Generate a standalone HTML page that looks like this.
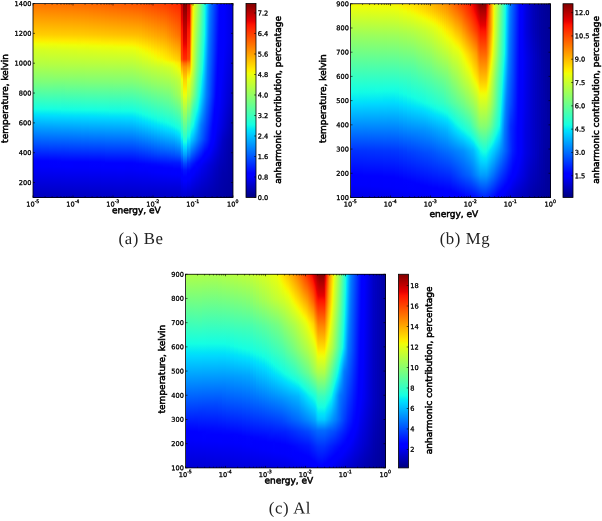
<!DOCTYPE html>
<html lang="en"><head><meta charset="utf-8"><title>Anharmonic contribution: Be, Mg, Al</title>
<style>
html,body{margin:0;padding:0;background:#fff;}
body{width:602px;height:521px;overflow:hidden;}
svg{display:block;}
.tk{font:6.6px 'DejaVu Sans','Liberation Sans',sans-serif;fill:#000;stroke:#000;stroke-width:.3px;}
.lb{font:9px 'DejaVu Sans','Liberation Sans',sans-serif;fill:#000;stroke:#000;stroke-width:.5px;}
.cap{font:16.8px 'Liberation Serif','DejaVu Serif',serif;fill:#222;letter-spacing:.6px;}
</style></head><body>
<svg width="602" height="521" viewBox="0 0 602 521">
<defs>
<linearGradient id="jet" x1="0" y1="0" x2="0" y2="1"><stop offset="0" stop-color="#800000"/><stop offset="0.09" stop-color="#e80000"/><stop offset="0.11" stop-color="#ff1300"/><stop offset="0.34" stop-color="#ffec00"/><stop offset="0.35" stop-color="#f7f600"/><stop offset="0.36" stop-color="#efff08"/><stop offset="0.625" stop-color="#15ffe2"/><stop offset="0.65" stop-color="#00e5f7"/><stop offset="0.66" stop-color="#00dbff"/><stop offset="0.875" stop-color="#00f"/><stop offset="0.89" stop-color="#00f"/><stop offset="1" stop-color="#000080"/></linearGradient>
<linearGradient id="a0" x1="0" y1="0" x2="0" y2="1"><stop offset="0" stop-color="#ff7200"/><stop offset="0.162" stop-color="#ffd000"/><stop offset="0.188" stop-color="#ffeb00"/><stop offset="0.198" stop-color="#f7f600"/><stop offset="0.209" stop-color="#edff09"/><stop offset="0.24" stop-color="#d4ff23"/><stop offset="0.312" stop-color="#b4ff43"/><stop offset="0.405" stop-color="#7cff7a"/><stop offset="0.544" stop-color="#15ffe2"/><stop offset="0.57" stop-color="#00e4f8"/><stop offset="0.585" stop-color="#00d4ff"/><stop offset="0.637" stop-color="#00a0ff"/><stop offset="0.724" stop-color="#0052ff"/><stop offset="0.807" stop-color="#0004ff"/><stop offset="0.822" stop-color="#00f"/><stop offset="0.843" stop-color="#0000fb"/><stop offset="1" stop-color="#0000bd"/></linearGradient><linearGradient id="a1" x1="0" y1="0" x2="0" y2="1"><stop offset="0" stop-color="#ff7200"/><stop offset="0.162" stop-color="#ffd000"/><stop offset="0.188" stop-color="#ffea00"/><stop offset="0.198" stop-color="#f7f500"/><stop offset="0.209" stop-color="#eeff09"/><stop offset="0.24" stop-color="#d5ff22"/><stop offset="0.312" stop-color="#b4ff43"/><stop offset="0.405" stop-color="#7cff7a"/><stop offset="0.544" stop-color="#15ffe2"/><stop offset="0.57" stop-color="#00e5f8"/><stop offset="0.585" stop-color="#00d4ff"/><stop offset="0.642" stop-color="#009dff"/><stop offset="0.729" stop-color="#004dff"/><stop offset="0.812" stop-color="#00f"/><stop offset="0.843" stop-color="#0000fb"/><stop offset="1" stop-color="#0000bd"/></linearGradient><linearGradient id="a2" x1="0" y1="0" x2="0" y2="1"><stop offset="0" stop-color="#ff7100"/><stop offset="0.162" stop-color="#ffcf00"/><stop offset="0.193" stop-color="#fcef00"/><stop offset="0.204" stop-color="#f3fa04"/><stop offset="0.209" stop-color="#efff08"/><stop offset="0.24" stop-color="#d5ff21"/><stop offset="0.312" stop-color="#b4ff43"/><stop offset="0.405" stop-color="#7dff7a"/><stop offset="0.544" stop-color="#15ffe1"/><stop offset="0.57" stop-color="#00e5f7"/><stop offset="0.58" stop-color="#00daff"/><stop offset="0.637" stop-color="#00a2ff"/><stop offset="0.729" stop-color="#004eff"/><stop offset="0.812" stop-color="#00f"/><stop offset="0.843" stop-color="#0000fc"/><stop offset="1" stop-color="#0000bd"/></linearGradient><linearGradient id="a3" x1="0" y1="0" x2="0" y2="1"><stop offset="0" stop-color="#ff7000"/><stop offset="0.162" stop-color="#ffcf00"/><stop offset="0.193" stop-color="#fdef00"/><stop offset="0.204" stop-color="#f4f903"/><stop offset="0.214" stop-color="#ebff0c"/><stop offset="0.24" stop-color="#d6ff21"/><stop offset="0.312" stop-color="#b4ff42"/><stop offset="0.405" stop-color="#7dff7a"/><stop offset="0.544" stop-color="#16ffe1"/><stop offset="0.57" stop-color="#00e5f7"/><stop offset="0.58" stop-color="#00dbff"/><stop offset="0.642" stop-color="#009eff"/><stop offset="0.729" stop-color="#004eff"/><stop offset="0.812" stop-color="#00f"/><stop offset="0.843" stop-color="#0000fc"/><stop offset="1" stop-color="#0000bd"/></linearGradient><linearGradient id="a4" x1="0" y1="0" x2="0" y2="1"><stop offset="0" stop-color="#ff6f00"/><stop offset="0.162" stop-color="#ffcf00"/><stop offset="0.193" stop-color="#fdee00"/><stop offset="0.209" stop-color="#f0fe07"/><stop offset="0.24" stop-color="#d7ff20"/><stop offset="0.312" stop-color="#b5ff42"/><stop offset="0.405" stop-color="#7dff7a"/><stop offset="0.544" stop-color="#16ffe1"/><stop offset="0.57" stop-color="#00e6f6"/><stop offset="0.58" stop-color="#00dbff"/><stop offset="0.642" stop-color="#009eff"/><stop offset="0.735" stop-color="#004aff"/><stop offset="0.812" stop-color="#0001ff"/><stop offset="0.843" stop-color="#0000fc"/><stop offset="1" stop-color="#0000be"/></linearGradient><linearGradient id="a5" x1="0" y1="0" x2="0" y2="1"><stop offset="0" stop-color="#ff6f00"/><stop offset="0.162" stop-color="#ffce00"/><stop offset="0.193" stop-color="#feed00"/><stop offset="0.209" stop-color="#f0fd07"/><stop offset="0.24" stop-color="#d7ff20"/><stop offset="0.312" stop-color="#b5ff42"/><stop offset="0.384" stop-color="#8bff6b"/><stop offset="0.544" stop-color="#16ffe0"/><stop offset="0.57" stop-color="#01e6f6"/><stop offset="0.58" stop-color="#00dcff"/><stop offset="0.642" stop-color="#009fff"/><stop offset="0.74" stop-color="#0045ff"/><stop offset="0.812" stop-color="#0001ff"/><stop offset="0.843" stop-color="#0000fd"/><stop offset="1" stop-color="#0000be"/></linearGradient><linearGradient id="a6" x1="0" y1="0" x2="0" y2="1"><stop offset="0" stop-color="#ff6e00"/><stop offset="0.162" stop-color="#ffce00"/><stop offset="0.193" stop-color="#feed00"/><stop offset="0.204" stop-color="#f5f702"/><stop offset="0.214" stop-color="#ecff0b"/><stop offset="0.24" stop-color="#d8ff1f"/><stop offset="0.312" stop-color="#b5ff42"/><stop offset="0.379" stop-color="#8eff68"/><stop offset="0.544" stop-color="#17ffe0"/><stop offset="0.57" stop-color="#01e7f6"/><stop offset="0.585" stop-color="#00d7ff"/><stop offset="0.647" stop-color="#009bff"/><stop offset="0.745" stop-color="#0041ff"/><stop offset="0.812" stop-color="#0002ff"/><stop offset="0.843" stop-color="#0000fd"/><stop offset="1" stop-color="#0000be"/></linearGradient><linearGradient id="a7" x1="0" y1="0" x2="0" y2="1"><stop offset="0" stop-color="#ff6d00"/><stop offset="0.162" stop-color="#ffcd00"/><stop offset="0.193" stop-color="#ffec00"/><stop offset="0.204" stop-color="#f6f701"/><stop offset="0.214" stop-color="#edff0a"/><stop offset="0.24" stop-color="#d9ff1e"/><stop offset="0.312" stop-color="#b5ff41"/><stop offset="0.379" stop-color="#8eff68"/><stop offset="0.549" stop-color="#13fde4"/><stop offset="0.575" stop-color="#00e2fa"/><stop offset="0.59" stop-color="#00d2ff"/><stop offset="0.652" stop-color="#0097ff"/><stop offset="0.76" stop-color="#0032ff"/><stop offset="0.817" stop-color="#00f"/><stop offset="0.843" stop-color="#0000fd"/><stop offset="1" stop-color="#0000bf"/></linearGradient><linearGradient id="a8" x1="0" y1="0" x2="0" y2="1"><stop offset="0" stop-color="#ff6c00"/><stop offset="0.162" stop-color="#ffcd00"/><stop offset="0.193" stop-color="#ffec00"/><stop offset="0.204" stop-color="#f6f600"/><stop offset="0.214" stop-color="#edff09"/><stop offset="0.24" stop-color="#d9ff1e"/><stop offset="0.312" stop-color="#b6ff41"/><stop offset="0.374" stop-color="#91ff65"/><stop offset="0.436" stop-color="#67ff90"/><stop offset="0.549" stop-color="#13fde4"/><stop offset="0.575" stop-color="#00e3f9"/><stop offset="0.59" stop-color="#00d3ff"/><stop offset="0.652" stop-color="#0097ff"/><stop offset="0.771" stop-color="#0029ff"/><stop offset="0.817" stop-color="#00f"/><stop offset="0.843" stop-color="#0000fe"/><stop offset="1" stop-color="#0000bf"/></linearGradient><linearGradient id="a9" x1="0" y1="0" x2="0" y2="1"><stop offset="0" stop-color="#ff6c00"/><stop offset="0.162" stop-color="#ffcd00"/><stop offset="0.193" stop-color="#ffeb00"/><stop offset="0.204" stop-color="#f7f500"/><stop offset="0.214" stop-color="#eeff09"/><stop offset="0.24" stop-color="#daff1d"/><stop offset="0.312" stop-color="#b6ff41"/><stop offset="0.369" stop-color="#94ff63"/><stop offset="0.415" stop-color="#76ff81"/><stop offset="0.549" stop-color="#13fee3"/><stop offset="0.575" stop-color="#00e3f9"/><stop offset="0.59" stop-color="#00d3ff"/><stop offset="0.657" stop-color="#0093ff"/><stop offset="0.817" stop-color="#00f"/><stop offset="0.843" stop-color="#0000fe"/><stop offset="1" stop-color="#0000bf"/></linearGradient><linearGradient id="a10" x1="0" y1="0" x2="0" y2="1"><stop offset="0" stop-color="#ff6b00"/><stop offset="0.162" stop-color="#fc0"/><stop offset="0.193" stop-color="#ffeb00"/><stop offset="0.204" stop-color="#f7f500"/><stop offset="0.214" stop-color="#efff08"/><stop offset="0.24" stop-color="#daff1c"/><stop offset="0.312" stop-color="#b6ff41"/><stop offset="0.369" stop-color="#94ff62"/><stop offset="0.415" stop-color="#76ff81"/><stop offset="0.549" stop-color="#14fee3"/><stop offset="0.575" stop-color="#00e4f8"/><stop offset="0.59" stop-color="#00d4ff"/><stop offset="0.657" stop-color="#0094ff"/><stop offset="0.817" stop-color="#00f"/><stop offset="0.848" stop-color="#0000fc"/><stop offset="1" stop-color="#0000c0"/></linearGradient><linearGradient id="a11" x1="0" y1="0" x2="0" y2="1"><stop offset="0" stop-color="#ff6a00"/><stop offset="0.162" stop-color="#fc0"/><stop offset="0.198" stop-color="#fcef00"/><stop offset="0.209" stop-color="#f3f903"/><stop offset="0.219" stop-color="#ebff0c"/><stop offset="0.245" stop-color="#d9ff1e"/><stop offset="0.312" stop-color="#b6ff41"/><stop offset="0.363" stop-color="#97ff5f"/><stop offset="0.41" stop-color="#7aff7d"/><stop offset="0.549" stop-color="#14fee3"/><stop offset="0.575" stop-color="#00e4f8"/><stop offset="0.59" stop-color="#00d4ff"/><stop offset="0.662" stop-color="#0090ff"/><stop offset="0.817" stop-color="#00f"/><stop offset="0.848" stop-color="#0000fc"/><stop offset="1" stop-color="#0000c0"/></linearGradient><linearGradient id="a12" x1="0" y1="0" x2="0" y2="1"><stop offset="0" stop-color="#ff6900"/><stop offset="0.162" stop-color="#ffcb00"/><stop offset="0.198" stop-color="#fdef00"/><stop offset="0.214" stop-color="#f0fe07"/><stop offset="0.24" stop-color="#dcff1b"/><stop offset="0.312" stop-color="#b6ff40"/><stop offset="0.363" stop-color="#97ff5f"/><stop offset="0.41" stop-color="#7aff7c"/><stop offset="0.549" stop-color="#14ffe2"/><stop offset="0.575" stop-color="#00e4f8"/><stop offset="0.59" stop-color="#00d5ff"/><stop offset="0.668" stop-color="#008cff"/><stop offset="0.817" stop-color="#00f"/><stop offset="0.848" stop-color="#0000fc"/><stop offset="1" stop-color="#0000c0"/></linearGradient><linearGradient id="a13" x1="0" y1="0" x2="0" y2="1"><stop offset="0" stop-color="#ff6800"/><stop offset="0.162" stop-color="#ffca00"/><stop offset="0.198" stop-color="#feee00"/><stop offset="0.214" stop-color="#f0fd06"/><stop offset="0.24" stop-color="#dcff1a"/><stop offset="0.312" stop-color="#b7ff40"/><stop offset="0.363" stop-color="#98ff5f"/><stop offset="0.41" stop-color="#7bff7c"/><stop offset="0.549" stop-color="#15ffe2"/><stop offset="0.575" stop-color="#00e5f7"/><stop offset="0.585" stop-color="#00daff"/><stop offset="0.662" stop-color="#0091ff"/><stop offset="0.817" stop-color="#00f"/><stop offset="0.848" stop-color="#0000fc"/><stop offset="1" stop-color="#0000c0"/></linearGradient><linearGradient id="a14" x1="0" y1="0" x2="0" y2="1"><stop offset="0" stop-color="#f60"/><stop offset="0.162" stop-color="#ffc900"/><stop offset="0.198" stop-color="#feed00"/><stop offset="0.209" stop-color="#f6f701"/><stop offset="0.219" stop-color="#edff0a"/><stop offset="0.245" stop-color="#daff1c"/><stop offset="0.312" stop-color="#b7ff40"/><stop offset="0.358" stop-color="#9bff5c"/><stop offset="0.405" stop-color="#7fff78"/><stop offset="0.549" stop-color="#15ffe2"/><stop offset="0.575" stop-color="#00e5f7"/><stop offset="0.585" stop-color="#00dbff"/><stop offset="0.668" stop-color="#008dff"/><stop offset="0.817" stop-color="#0001ff"/><stop offset="0.848" stop-color="#0000fd"/><stop offset="1" stop-color="#0000c1"/></linearGradient><linearGradient id="a15" x1="0" y1="0" x2="0" y2="1"><stop offset="0" stop-color="#ff6400"/><stop offset="0.162" stop-color="#ffc800"/><stop offset="0.198" stop-color="#ffec00"/><stop offset="0.209" stop-color="#f6f601"/><stop offset="0.219" stop-color="#edff09"/><stop offset="0.245" stop-color="#dbff1c"/><stop offset="0.312" stop-color="#b7ff40"/><stop offset="0.358" stop-color="#9bff5c"/><stop offset="0.405" stop-color="#7fff78"/><stop offset="0.549" stop-color="#15ffe1"/><stop offset="0.575" stop-color="#00e6f6"/><stop offset="0.585" stop-color="#00dbff"/><stop offset="0.673" stop-color="#0089ff"/><stop offset="0.817" stop-color="#0001ff"/><stop offset="0.848" stop-color="#0000fd"/><stop offset="1" stop-color="#0000c1"/></linearGradient><linearGradient id="a16" x1="0" y1="0" x2="0" y2="1"><stop offset="0" stop-color="#ff6300"/><stop offset="0.162" stop-color="#ffc700"/><stop offset="0.198" stop-color="#ffeb00"/><stop offset="0.209" stop-color="#f7f500"/><stop offset="0.219" stop-color="#eeff09"/><stop offset="0.245" stop-color="#dcff1b"/><stop offset="0.312" stop-color="#b7ff40"/><stop offset="0.358" stop-color="#9bff5c"/><stop offset="0.405" stop-color="#7fff78"/><stop offset="0.549" stop-color="#16ffe1"/><stop offset="0.575" stop-color="#01e6f6"/><stop offset="0.59" stop-color="#00d7ff"/><stop offset="0.817" stop-color="#0001ff"/><stop offset="0.848" stop-color="#0000fd"/><stop offset="1" stop-color="#0000c1"/></linearGradient><linearGradient id="a17" x1="0" y1="0" x2="0" y2="1"><stop offset="0" stop-color="#ff6100"/><stop offset="0.162" stop-color="#ffc600"/><stop offset="0.204" stop-color="#fcef00"/><stop offset="0.214" stop-color="#f3fa04"/><stop offset="0.224" stop-color="#eaff0c"/><stop offset="0.25" stop-color="#daff1d"/><stop offset="0.312" stop-color="#b7ff3f"/><stop offset="0.358" stop-color="#9bff5c"/><stop offset="0.405" stop-color="#7fff78"/><stop offset="0.549" stop-color="#16ffe1"/><stop offset="0.575" stop-color="#01e7f6"/><stop offset="0.59" stop-color="#00d7ff"/><stop offset="0.817" stop-color="#0002ff"/><stop offset="0.848" stop-color="#0000fe"/><stop offset="1" stop-color="#0000c2"/></linearGradient><linearGradient id="a18" x1="0" y1="0" x2="0" y2="1"><stop offset="0" stop-color="#ff5f00"/><stop offset="0.162" stop-color="#ffc500"/><stop offset="0.204" stop-color="#fdee00"/><stop offset="0.219" stop-color="#effe07"/><stop offset="0.245" stop-color="#ddff1a"/><stop offset="0.312" stop-color="#b8ff3f"/><stop offset="0.353" stop-color="#9eff59"/><stop offset="0.405" stop-color="#7fff78"/><stop offset="0.549" stop-color="#16ffe0"/><stop offset="0.58" stop-color="#00e2f9"/><stop offset="0.595" stop-color="#00d3ff"/><stop offset="0.822" stop-color="#00f"/><stop offset="0.848" stop-color="#0000fe"/><stop offset="1" stop-color="#0000c2"/></linearGradient><linearGradient id="a19" x1="0" y1="0" x2="0" y2="1"><stop offset="0" stop-color="#ff5d00"/><stop offset="0.162" stop-color="#ffc400"/><stop offset="0.204" stop-color="#feee00"/><stop offset="0.219" stop-color="#f0fd07"/><stop offset="0.245" stop-color="#ddff19"/><stop offset="0.312" stop-color="#b8ff3f"/><stop offset="0.353" stop-color="#9eff59"/><stop offset="0.405" stop-color="#7fff77"/><stop offset="0.554" stop-color="#13fde4"/><stop offset="0.58" stop-color="#00e3f9"/><stop offset="0.595" stop-color="#00d3ff"/><stop offset="0.822" stop-color="#00f"/><stop offset="0.848" stop-color="#0000fe"/><stop offset="1" stop-color="#0000c2"/></linearGradient><linearGradient id="a20" x1="0" y1="0" x2="0" y2="1"><stop offset="0" stop-color="#ff5c00"/><stop offset="0.162" stop-color="#ffc300"/><stop offset="0.204" stop-color="#feed00"/><stop offset="0.214" stop-color="#f5f701"/><stop offset="0.224" stop-color="#ecff0a"/><stop offset="0.25" stop-color="#dbff1b"/><stop offset="0.312" stop-color="#b8ff3f"/><stop offset="0.353" stop-color="#9eff58"/><stop offset="0.405" stop-color="#80ff77"/><stop offset="0.554" stop-color="#13fde4"/><stop offset="0.58" stop-color="#00e3f9"/><stop offset="0.595" stop-color="#00d4ff"/><stop offset="0.822" stop-color="#00f"/><stop offset="0.848" stop-color="#0000fe"/><stop offset="1" stop-color="#0000c3"/></linearGradient><linearGradient id="a21" x1="0" y1="0" x2="0" y2="1"><stop offset="0" stop-color="#ff5a00"/><stop offset="0.162" stop-color="#ffc200"/><stop offset="0.204" stop-color="#ffec00"/><stop offset="0.214" stop-color="#f6f601"/><stop offset="0.224" stop-color="#edff0a"/><stop offset="0.25" stop-color="#dcff1b"/><stop offset="0.312" stop-color="#b8ff3e"/><stop offset="0.353" stop-color="#9eff58"/><stop offset="0.405" stop-color="#80ff77"/><stop offset="0.554" stop-color="#13fde3"/><stop offset="0.58" stop-color="#00e4f8"/><stop offset="0.595" stop-color="#00d4ff"/><stop offset="0.822" stop-color="#00f"/><stop offset="0.848" stop-color="#00f"/><stop offset="1" stop-color="#0000c3"/></linearGradient><linearGradient id="a22" x1="0" y1="0" x2="0" y2="1"><stop offset="0" stop-color="#ff5800"/><stop offset="0.162" stop-color="#ffc100"/><stop offset="0.204" stop-color="#ffeb00"/><stop offset="0.214" stop-color="#f7f500"/><stop offset="0.224" stop-color="#eeff09"/><stop offset="0.255" stop-color="#daff1d"/><stop offset="0.312" stop-color="#b9ff3e"/><stop offset="0.353" stop-color="#9fff58"/><stop offset="0.405" stop-color="#80ff77"/><stop offset="0.554" stop-color="#14fee3"/><stop offset="0.58" stop-color="#00e4f8"/><stop offset="0.595" stop-color="#00d5ff"/><stop offset="0.822" stop-color="#00f"/><stop offset="0.848" stop-color="#00f"/><stop offset="1" stop-color="#0000c3"/></linearGradient><linearGradient id="a23" x1="0" y1="0" x2="0" y2="1"><stop offset="0" stop-color="#ff5700"/><stop offset="0.162" stop-color="#ffc000"/><stop offset="0.204" stop-color="#ffea00"/><stop offset="0.214" stop-color="#f8f500"/><stop offset="0.224" stop-color="#eeff08"/><stop offset="0.255" stop-color="#dbff1c"/><stop offset="0.312" stop-color="#b9ff3e"/><stop offset="0.348" stop-color="#a2ff55"/><stop offset="0.405" stop-color="#80ff77"/><stop offset="0.554" stop-color="#14fee3"/><stop offset="0.58" stop-color="#00e5f7"/><stop offset="0.59" stop-color="#00dbff"/><stop offset="0.822" stop-color="#00f"/><stop offset="0.853" stop-color="#0000fc"/><stop offset="1" stop-color="#0000c3"/></linearGradient><linearGradient id="a24" x1="0" y1="0" x2="0" y2="1"><stop offset="0" stop-color="#f50"/><stop offset="0.162" stop-color="#ffbf00"/><stop offset="0.209" stop-color="#fdef00"/><stop offset="0.219" stop-color="#f4f903"/><stop offset="0.229" stop-color="#ebff0c"/><stop offset="0.312" stop-color="#b9ff3e"/><stop offset="0.348" stop-color="#a2ff55"/><stop offset="0.405" stop-color="#80ff77"/><stop offset="0.554" stop-color="#14ffe2"/><stop offset="0.58" stop-color="#00e5f7"/><stop offset="0.59" stop-color="#00dbff"/><stop offset="0.822" stop-color="#00f"/><stop offset="0.853" stop-color="#0000fc"/><stop offset="1" stop-color="#0000c4"/></linearGradient><linearGradient id="a25" x1="0" y1="0" x2="0" y2="1"><stop offset="0" stop-color="#ff5300"/><stop offset="0.162" stop-color="#ffbe00"/><stop offset="0.209" stop-color="#ffec00"/><stop offset="0.219" stop-color="#f6f701"/><stop offset="0.229" stop-color="#edff0a"/><stop offset="0.312" stop-color="#bbff3c"/><stop offset="0.353" stop-color="#a1ff56"/><stop offset="0.405" stop-color="#82ff75"/><stop offset="0.554" stop-color="#17ffe0"/><stop offset="0.585" stop-color="#00e3f9"/><stop offset="0.601" stop-color="#00d4ff"/><stop offset="0.822" stop-color="#0001ff"/><stop offset="0.853" stop-color="#0000fd"/><stop offset="1" stop-color="#0000c4"/></linearGradient><linearGradient id="a26" x1="0" y1="0" x2="0" y2="1"><stop offset="0" stop-color="#ff5200"/><stop offset="0.162" stop-color="#ffbd00"/><stop offset="0.214" stop-color="#feed00"/><stop offset="0.229" stop-color="#f1fc06"/><stop offset="0.255" stop-color="#e2ff15"/><stop offset="0.312" stop-color="#beff39"/><stop offset="0.358" stop-color="#a1ff56"/><stop offset="0.41" stop-color="#81ff76"/><stop offset="0.559" stop-color="#16ffe0"/><stop offset="0.59" stop-color="#00e3f9"/><stop offset="0.606" stop-color="#00d4ff"/><stop offset="0.812" stop-color="#000dff"/><stop offset="0.827" stop-color="#00f"/><stop offset="0.853" stop-color="#0000fe"/><stop offset="1" stop-color="#0000c4"/></linearGradient><linearGradient id="a27" x1="0" y1="0" x2="0" y2="1"><stop offset="0" stop-color="#ff5000"/><stop offset="0.168" stop-color="#ffbf00"/><stop offset="0.219" stop-color="#feed00"/><stop offset="0.235" stop-color="#f2fc05"/><stop offset="0.25" stop-color="#e9ff0e"/><stop offset="0.307" stop-color="#c4ff32"/><stop offset="0.353" stop-color="#a7ff50"/><stop offset="0.41" stop-color="#84ff73"/><stop offset="0.564" stop-color="#16ffe1"/><stop offset="0.595" stop-color="#00e3f9"/><stop offset="0.611" stop-color="#00d4ff"/><stop offset="0.802" stop-color="#001aff"/><stop offset="0.827" stop-color="#0001ff"/><stop offset="0.853" stop-color="#00f"/><stop offset="1" stop-color="#0000c4"/></linearGradient><linearGradient id="a28" x1="0" y1="0" x2="0" y2="1"><stop offset="0" stop-color="#ff4d00"/><stop offset="0.168" stop-color="#fb0"/><stop offset="0.224" stop-color="#feed00"/><stop offset="0.24" stop-color="#f3fa04"/><stop offset="0.255" stop-color="#eaff0d"/><stop offset="0.302" stop-color="#ccff2b"/><stop offset="0.348" stop-color="#adff4a"/><stop offset="0.41" stop-color="#87ff70"/><stop offset="0.57" stop-color="#16ffe1"/><stop offset="0.601" stop-color="#00e3f9"/><stop offset="0.616" stop-color="#00d4ff"/><stop offset="0.796" stop-color="#02f"/><stop offset="0.827" stop-color="#0002ff"/><stop offset="0.858" stop-color="#0000fd"/><stop offset="1" stop-color="#0000c5"/></linearGradient><linearGradient id="a29" x1="0" y1="0" x2="0" y2="1"><stop offset="0" stop-color="#ff4a00"/><stop offset="0.168" stop-color="#ffb700"/><stop offset="0.229" stop-color="#feed00"/><stop offset="0.245" stop-color="#f4f802"/><stop offset="0.26" stop-color="#ebff0c"/><stop offset="0.302" stop-color="#cfff28"/><stop offset="0.348" stop-color="#b0ff47"/><stop offset="0.41" stop-color="#8aff6c"/><stop offset="0.575" stop-color="#16ffe1"/><stop offset="0.606" stop-color="#00e3f9"/><stop offset="0.621" stop-color="#00d4ff"/><stop offset="0.791" stop-color="#002aff"/><stop offset="0.827" stop-color="#0004ff"/><stop offset="0.848" stop-color="#00f"/><stop offset="0.874" stop-color="#0000f7"/><stop offset="1" stop-color="#0000c5"/></linearGradient><linearGradient id="a30" x1="0" y1="0" x2="0" y2="1"><stop offset="0" stop-color="#ff4800"/><stop offset="0.168" stop-color="#ffb300"/><stop offset="0.235" stop-color="#ffec00"/><stop offset="0.255" stop-color="#f2fb04"/><stop offset="0.271" stop-color="#e9ff0e"/><stop offset="0.343" stop-color="#b6ff41"/><stop offset="0.41" stop-color="#8dff69"/><stop offset="0.575" stop-color="#1affdd"/><stop offset="0.585" stop-color="#12fce5"/><stop offset="0.611" stop-color="#00e3f8"/><stop offset="0.626" stop-color="#00d4ff"/><stop offset="0.786" stop-color="#0032ff"/><stop offset="0.827" stop-color="#0005ff"/><stop offset="0.843" stop-color="#00f"/><stop offset="0.863" stop-color="#0000fd"/><stop offset="0.982" stop-color="#0000cb"/><stop offset="1" stop-color="#0000c5"/></linearGradient><linearGradient id="a31" x1="0" y1="0" x2="0" y2="1"><stop offset="0" stop-color="#ff4500"/><stop offset="0.168" stop-color="#ffaf00"/><stop offset="0.245" stop-color="#fdee00"/><stop offset="0.26" stop-color="#f4f903"/><stop offset="0.276" stop-color="#ebff0c"/><stop offset="0.338" stop-color="#bcff3b"/><stop offset="0.41" stop-color="#91ff66"/><stop offset="0.575" stop-color="#1effd9"/><stop offset="0.59" stop-color="#12fce4"/><stop offset="0.616" stop-color="#00e4f8"/><stop offset="0.631" stop-color="#00d5ff"/><stop offset="0.781" stop-color="#003bff"/><stop offset="0.827" stop-color="#0007ff"/><stop offset="0.843" stop-color="#00f"/><stop offset="0.869" stop-color="#0000fc"/><stop offset="0.977" stop-color="#0000cd"/><stop offset="1" stop-color="#0000c5"/></linearGradient><linearGradient id="a32" x1="0" y1="0" x2="0" y2="1"><stop offset="0" stop-color="#ff4300"/><stop offset="0.168" stop-color="#ffab00"/><stop offset="0.25" stop-color="#ffec00"/><stop offset="0.271" stop-color="#f3fa04"/><stop offset="0.286" stop-color="#eaff0d"/><stop offset="0.332" stop-color="#c2ff35"/><stop offset="0.415" stop-color="#90ff67"/><stop offset="0.575" stop-color="#22ffd5"/><stop offset="0.595" stop-color="#12fce4"/><stop offset="0.621" stop-color="#00e4f8"/><stop offset="0.637" stop-color="#00d4ff"/><stop offset="0.776" stop-color="#04f"/><stop offset="0.827" stop-color="#0008ff"/><stop offset="0.843" stop-color="#00f"/><stop offset="0.869" stop-color="#0000fd"/><stop offset="0.972" stop-color="#0000cf"/><stop offset="1" stop-color="#0000c6"/></linearGradient><linearGradient id="a33" x1="0" y1="0" x2="0" y2="1"><stop offset="0" stop-color="#ff4000"/><stop offset="0.168" stop-color="#ffa700"/><stop offset="0.255" stop-color="#ffea00"/><stop offset="0.276" stop-color="#f5f701"/><stop offset="0.291" stop-color="#ebff0b"/><stop offset="0.332" stop-color="#c5ff31"/><stop offset="0.415" stop-color="#93ff64"/><stop offset="0.575" stop-color="#26ffd1"/><stop offset="0.601" stop-color="#13fde4"/><stop offset="0.626" stop-color="#00e4f8"/><stop offset="0.642" stop-color="#00d4ff"/><stop offset="0.776" stop-color="#0047ff"/><stop offset="0.827" stop-color="#000aff"/><stop offset="0.843" stop-color="#00f"/><stop offset="0.869" stop-color="#0000fe"/><stop offset="0.966" stop-color="#0000d2"/><stop offset="1" stop-color="#0000c6"/></linearGradient><linearGradient id="a34" x1="0" y1="0" x2="0" y2="1"><stop offset="0" stop-color="#ff3d00"/><stop offset="0.173" stop-color="#ffa700"/><stop offset="0.25" stop-color="#ffe100"/><stop offset="0.276" stop-color="#fbf100"/><stop offset="0.291" stop-color="#f1fc06"/><stop offset="0.327" stop-color="#ccff2b"/><stop offset="0.42" stop-color="#93ff64"/><stop offset="0.575" stop-color="#2affcd"/><stop offset="0.606" stop-color="#13fde4"/><stop offset="0.631" stop-color="#00e4f8"/><stop offset="0.647" stop-color="#00d4ff"/><stop offset="0.771" stop-color="#0050ff"/><stop offset="0.827" stop-color="#000cff"/><stop offset="0.843" stop-color="#00f"/><stop offset="0.874" stop-color="#0000fc"/><stop offset="0.961" stop-color="#0000d4"/><stop offset="1" stop-color="#0000c6"/></linearGradient><linearGradient id="a35" x1="0" y1="0" x2="0" y2="1"><stop offset="0" stop-color="#ff3b00"/><stop offset="0.173" stop-color="#ffa400"/><stop offset="0.25" stop-color="#ffdc00"/><stop offset="0.281" stop-color="#fdef00"/><stop offset="0.291" stop-color="#f6f701"/><stop offset="0.296" stop-color="#f0fe07"/><stop offset="0.332" stop-color="#cbff2b"/><stop offset="0.425" stop-color="#92ff65"/><stop offset="0.575" stop-color="#2effc9"/><stop offset="0.611" stop-color="#12fce4"/><stop offset="0.637" stop-color="#00e3f9"/><stop offset="0.652" stop-color="#00d3ff"/><stop offset="0.765" stop-color="#0058ff"/><stop offset="0.827" stop-color="#000dff"/><stop offset="0.848" stop-color="#00f"/><stop offset="0.874" stop-color="#0000fd"/><stop offset="0.961" stop-color="#0000d4"/><stop offset="1" stop-color="#0000c6"/></linearGradient><linearGradient id="a36" x1="0" y1="0" x2="0" y2="1"><stop offset="0" stop-color="#ff3900"/><stop offset="0.173" stop-color="#ffa000"/><stop offset="0.25" stop-color="#ffd800"/><stop offset="0.286" stop-color="#feed00"/><stop offset="0.296" stop-color="#f3fa03"/><stop offset="0.302" stop-color="#edff0a"/><stop offset="0.332" stop-color="#cdff29"/><stop offset="0.425" stop-color="#94ff63"/><stop offset="0.57" stop-color="#34ffc3"/><stop offset="0.611" stop-color="#15ffe2"/><stop offset="0.637" stop-color="#01e6f6"/><stop offset="0.647" stop-color="#00dcff"/><stop offset="0.75" stop-color="#006cff"/><stop offset="0.807" stop-color="#0026ff"/><stop offset="0.827" stop-color="#000eff"/><stop offset="0.848" stop-color="#00f"/><stop offset="0.874" stop-color="#0000fd"/><stop offset="0.956" stop-color="#0000d6"/><stop offset="1" stop-color="#0000c7"/></linearGradient><linearGradient id="a37" x1="0" y1="0" x2="0" y2="1"><stop offset="0" stop-color="#ff3600"/><stop offset="0.168" stop-color="#ff9600"/><stop offset="0.25" stop-color="#ffd200"/><stop offset="0.291" stop-color="#feed00"/><stop offset="0.296" stop-color="#f7f500"/><stop offset="0.302" stop-color="#f0fe07"/><stop offset="0.332" stop-color="#d0ff27"/><stop offset="0.43" stop-color="#92ff64"/><stop offset="0.57" stop-color="#37ffc0"/><stop offset="0.616" stop-color="#14ffe3"/><stop offset="0.642" stop-color="#00e4f8"/><stop offset="0.657" stop-color="#00d4ff"/><stop offset="0.76" stop-color="#0062ff"/><stop offset="0.827" stop-color="#000fff"/><stop offset="0.848" stop-color="#00f"/><stop offset="0.879" stop-color="#0000fb"/><stop offset="0.956" stop-color="#0000d7"/><stop offset="1" stop-color="#0000c7"/></linearGradient><linearGradient id="a38" x1="0" y1="0" x2="0" y2="1"><stop offset="0" stop-color="#ff3200"/><stop offset="0.168" stop-color="#ff9000"/><stop offset="0.255" stop-color="#ffcf00"/><stop offset="0.291" stop-color="#ffe900"/><stop offset="0.302" stop-color="#f3fa04"/><stop offset="0.312" stop-color="#e6ff11"/><stop offset="0.332" stop-color="#d2ff25"/><stop offset="0.534" stop-color="#53ffa4"/><stop offset="0.621" stop-color="#13fde4"/><stop offset="0.647" stop-color="#00e2f9"/><stop offset="0.657" stop-color="#00d7ff"/><stop offset="0.75" stop-color="#0070ff"/><stop offset="0.802" stop-color="#0030ff"/><stop offset="0.827" stop-color="#0010ff"/><stop offset="0.848" stop-color="#00f"/><stop offset="0.879" stop-color="#0000fc"/><stop offset="0.956" stop-color="#0000d7"/><stop offset="1" stop-color="#0000c7"/></linearGradient><linearGradient id="a39" x1="0" y1="0" x2="0" y2="1"><stop offset="0" stop-color="#ff2f00"/><stop offset="0.168" stop-color="#ff8900"/><stop offset="0.271" stop-color="#ffd400"/><stop offset="0.291" stop-color="#ffe400"/><stop offset="0.296" stop-color="#feed00"/><stop offset="0.302" stop-color="#f6f701"/><stop offset="0.307" stop-color="#eeff09"/><stop offset="0.338" stop-color="#d3ff24"/><stop offset="0.492" stop-color="#74ff83"/><stop offset="0.626" stop-color="#13fde4"/><stop offset="0.647" stop-color="#01e6f6"/><stop offset="0.657" stop-color="#00dbff"/><stop offset="0.776" stop-color="#0054ff"/><stop offset="0.822" stop-color="#0015ff"/><stop offset="0.848" stop-color="#00f"/><stop offset="0.879" stop-color="#0000fd"/><stop offset="0.951" stop-color="#0000d9"/><stop offset="1" stop-color="#0000c7"/></linearGradient><linearGradient id="a40" x1="0" y1="0" x2="0" y2="1"><stop offset="0" stop-color="#ff2c00"/><stop offset="0.168" stop-color="#ff8300"/><stop offset="0.286" stop-color="#ffd800"/><stop offset="0.296" stop-color="#ffe800"/><stop offset="0.307" stop-color="#f3fa04"/><stop offset="0.317" stop-color="#eaff0c"/><stop offset="0.399" stop-color="#afff47"/><stop offset="0.472" stop-color="#8aff6d"/><stop offset="0.585" stop-color="#35ffc2"/><stop offset="0.631" stop-color="#13fde4"/><stop offset="0.652" stop-color="#00e6f6"/><stop offset="0.662" stop-color="#00daff"/><stop offset="0.786" stop-color="#0048ff"/><stop offset="0.822" stop-color="#0016ff"/><stop offset="0.853" stop-color="#00f"/><stop offset="0.879" stop-color="#0000fd"/><stop offset="0.951" stop-color="#0000d9"/><stop offset="1" stop-color="#0000c7"/></linearGradient><linearGradient id="a41" x1="0" y1="0" x2="0" y2="1"><stop offset="0" stop-color="#ff2900"/><stop offset="0.168" stop-color="#ff7d00"/><stop offset="0.291" stop-color="#ffd800"/><stop offset="0.302" stop-color="#ffea00"/><stop offset="0.312" stop-color="#f5f701"/><stop offset="0.322" stop-color="#edff09"/><stop offset="0.394" stop-color="#b8ff3f"/><stop offset="0.472" stop-color="#92ff65"/><stop offset="0.585" stop-color="#3bffbb"/><stop offset="0.637" stop-color="#14fee3"/><stop offset="0.657" stop-color="#01e7f6"/><stop offset="0.668" stop-color="#00dcff"/><stop offset="0.776" stop-color="#005bff"/><stop offset="0.822" stop-color="#0017ff"/><stop offset="0.853" stop-color="#00f"/><stop offset="0.879" stop-color="#0000fe"/><stop offset="0.951" stop-color="#0000d9"/><stop offset="1" stop-color="#0000c7"/></linearGradient><linearGradient id="a42" x1="0" y1="0" x2="0" y2="1"><stop offset="0" stop-color="#ff2700"/><stop offset="0.162" stop-color="#ff7500"/><stop offset="0.291" stop-color="#ffd300"/><stop offset="0.307" stop-color="#feed00"/><stop offset="0.322" stop-color="#f3fa04"/><stop offset="0.338" stop-color="#e7ff0f"/><stop offset="0.394" stop-color="#bdff3a"/><stop offset="0.472" stop-color="#98ff5e"/><stop offset="0.642" stop-color="#13fee3"/><stop offset="0.662" stop-color="#01e7f6"/><stop offset="0.673" stop-color="#00dcff"/><stop offset="0.735" stop-color="#0092ff"/><stop offset="0.786" stop-color="#004fff"/><stop offset="0.822" stop-color="#0018ff"/><stop offset="0.853" stop-color="#00f"/><stop offset="0.884" stop-color="#0000fb"/><stop offset="0.951" stop-color="#0000da"/><stop offset="1" stop-color="#0000c7"/></linearGradient><linearGradient id="a43" x1="0" y1="0" x2="0" y2="1"><stop offset="0" stop-color="#ff2500"/><stop offset="0.162" stop-color="#ff7200"/><stop offset="0.291" stop-color="#ffd000"/><stop offset="0.307" stop-color="#ffea00"/><stop offset="0.322" stop-color="#f7f500"/><stop offset="0.338" stop-color="#ebff0b"/><stop offset="0.394" stop-color="#c1ff36"/><stop offset="0.472" stop-color="#9dff5a"/><stop offset="0.642" stop-color="#16ffe1"/><stop offset="0.668" stop-color="#00e5f7"/><stop offset="0.678" stop-color="#00daff"/><stop offset="0.729" stop-color="#009cff"/><stop offset="0.786" stop-color="#0051ff"/><stop offset="0.822" stop-color="#0018ff"/><stop offset="0.853" stop-color="#00f"/><stop offset="0.884" stop-color="#0000fc"/><stop offset="0.951" stop-color="#0000da"/><stop offset="1" stop-color="#0000c8"/></linearGradient><linearGradient id="a44" x1="0" y1="0" x2="0" y2="1"><stop offset="0" stop-color="#ff2400"/><stop offset="0.162" stop-color="#ff6e00"/><stop offset="0.291" stop-color="#ffcd00"/><stop offset="0.307" stop-color="#ffe600"/><stop offset="0.322" stop-color="#fbf100"/><stop offset="0.332" stop-color="#f3fa04"/><stop offset="0.343" stop-color="#ebff0c"/><stop offset="0.394" stop-color="#c4ff33"/><stop offset="0.472" stop-color="#a1ff56"/><stop offset="0.647" stop-color="#15ffe2"/><stop offset="0.673" stop-color="#00e4f8"/><stop offset="0.688" stop-color="#00d3ff"/><stop offset="0.781" stop-color="#005bff"/><stop offset="0.822" stop-color="#0019ff"/><stop offset="0.853" stop-color="#00f"/><stop offset="0.884" stop-color="#0000fc"/><stop offset="0.951" stop-color="#0000da"/><stop offset="1" stop-color="#0000c8"/></linearGradient><linearGradient id="a45" x1="0" y1="0" x2="0" y2="1"><stop offset="0" stop-color="#ff1800"/><stop offset="0.168" stop-color="#ff6200"/><stop offset="0.286" stop-color="#ffaf00"/><stop offset="0.307" stop-color="#ffd200"/><stop offset="0.338" stop-color="#fdef00"/><stop offset="0.353" stop-color="#effe07"/><stop offset="0.394" stop-color="#cdff29"/><stop offset="0.472" stop-color="#aaff4d"/><stop offset="0.657" stop-color="#13fde3"/><stop offset="0.683" stop-color="#00e2f9"/><stop offset="0.693" stop-color="#00d7ff"/><stop offset="0.781" stop-color="#0063ff"/><stop offset="0.822" stop-color="#001eff"/><stop offset="0.858" stop-color="#00f"/><stop offset="0.889" stop-color="#0000fc"/><stop offset="0.956" stop-color="#0000d9"/><stop offset="1" stop-color="#0000c8"/></linearGradient><linearGradient id="a46" x1="0" y1="0" x2="0" y2="1"><stop offset="0" stop-color="#c60000"/><stop offset="0.085" stop-color="#eb0200"/><stop offset="0.137" stop-color="#ff1500"/><stop offset="0.286" stop-color="#ff4600"/><stop offset="0.291" stop-color="#ff4f00"/><stop offset="0.307" stop-color="#ff8000"/><stop offset="0.332" stop-color="#ffad00"/><stop offset="0.374" stop-color="#ffe900"/><stop offset="0.384" stop-color="#f5f802"/><stop offset="0.389" stop-color="#efff08"/><stop offset="0.472" stop-color="#c5ff31"/><stop offset="0.678" stop-color="#1affdd"/><stop offset="0.688" stop-color="#11fbe6"/><stop offset="0.709" stop-color="#00e1fa"/><stop offset="0.719" stop-color="#00d3ff"/><stop offset="0.781" stop-color="#007cff"/><stop offset="0.822" stop-color="#03f"/><stop offset="0.858" stop-color="#000aff"/><stop offset="0.879" stop-color="#00f"/><stop offset="0.905" stop-color="#0000fe"/><stop offset="1" stop-color="#0000c9"/></linearGradient><linearGradient id="a47" x1="0" y1="0" x2="0" y2="1"><stop offset="0" stop-color="#810000"/><stop offset="0.178" stop-color="#d70000"/><stop offset="0.209" stop-color="#ea0200"/><stop offset="0.245" stop-color="#ff1400"/><stop offset="0.286" stop-color="#ff2900"/><stop offset="0.291" stop-color="#f30"/><stop offset="0.307" stop-color="#ff6800"/><stop offset="0.327" stop-color="#ff9200"/><stop offset="0.394" stop-color="#ffd300"/><stop offset="0.441" stop-color="#fcef00"/><stop offset="0.456" stop-color="#f4f903"/><stop offset="0.472" stop-color="#eaff0d"/><stop offset="0.704" stop-color="#23ffd4"/><stop offset="0.714" stop-color="#17ffe0"/><stop offset="0.735" stop-color="#00e4f8"/><stop offset="0.745" stop-color="#00d5ff"/><stop offset="0.781" stop-color="#009eff"/><stop offset="0.827" stop-color="#04f"/><stop offset="0.858" stop-color="#0014ff"/><stop offset="0.894" stop-color="#00f"/><stop offset="0.915" stop-color="#00f"/><stop offset="1" stop-color="#0000ca"/></linearGradient><linearGradient id="a48" x1="0" y1="0" x2="0" y2="1"><stop offset="0" stop-color="#c60000"/><stop offset="0.085" stop-color="#eb0200"/><stop offset="0.137" stop-color="#ff1500"/><stop offset="0.286" stop-color="#ff4600"/><stop offset="0.291" stop-color="#ff4f00"/><stop offset="0.307" stop-color="#ff8000"/><stop offset="0.332" stop-color="#ffad00"/><stop offset="0.374" stop-color="#ffe900"/><stop offset="0.384" stop-color="#f5f802"/><stop offset="0.389" stop-color="#efff08"/><stop offset="0.472" stop-color="#c5ff31"/><stop offset="0.678" stop-color="#1affdd"/><stop offset="0.688" stop-color="#11fbe6"/><stop offset="0.709" stop-color="#00e1fa"/><stop offset="0.719" stop-color="#00d3ff"/><stop offset="0.781" stop-color="#007cff"/><stop offset="0.822" stop-color="#03f"/><stop offset="0.858" stop-color="#000aff"/><stop offset="0.879" stop-color="#00f"/><stop offset="0.905" stop-color="#0000fe"/><stop offset="1" stop-color="#0000c6"/></linearGradient><linearGradient id="a49" x1="0" y1="0" x2="0" y2="1"><stop offset="0" stop-color="#ff3700"/><stop offset="0.178" stop-color="#ff6c00"/><stop offset="0.286" stop-color="#ff9600"/><stop offset="0.312" stop-color="#ffb700"/><stop offset="0.338" stop-color="#ffd300"/><stop offset="0.358" stop-color="#fdee00"/><stop offset="0.363" stop-color="#f7f500"/><stop offset="0.374" stop-color="#ecff0b"/><stop offset="0.389" stop-color="#daff1d"/><stop offset="0.472" stop-color="#b3ff44"/><stop offset="0.662" stop-color="#15ffe2"/><stop offset="0.688" stop-color="#01e7f6"/><stop offset="0.704" stop-color="#00d6ff"/><stop offset="0.781" stop-color="#006cff"/><stop offset="0.822" stop-color="#0029ff"/><stop offset="0.863" stop-color="#0001ff"/><stop offset="0.899" stop-color="#0000fd"/><stop offset="1" stop-color="#0000c4"/></linearGradient><linearGradient id="a50" x1="0" y1="0" x2="0" y2="1"><stop offset="0" stop-color="#ff9500"/><stop offset="0.173" stop-color="#ffc600"/><stop offset="0.245" stop-color="#ffe200"/><stop offset="0.302" stop-color="#fdef00"/><stop offset="0.327" stop-color="#f5f802"/><stop offset="0.343" stop-color="#e9ff0e"/><stop offset="0.394" stop-color="#c2ff35"/><stop offset="0.472" stop-color="#9cff5b"/><stop offset="0.57" stop-color="#4affad"/><stop offset="0.642" stop-color="#14ffe2"/><stop offset="0.673" stop-color="#00e2f9"/><stop offset="0.688" stop-color="#00d4ff"/><stop offset="0.714" stop-color="#00b6ff"/><stop offset="0.791" stop-color="#004eff"/><stop offset="0.827" stop-color="#001bff"/><stop offset="0.858" stop-color="#00f"/><stop offset="0.889" stop-color="#0000fc"/><stop offset="1" stop-color="#0000c2"/></linearGradient><linearGradient id="a51" x1="0" y1="0" x2="0" y2="1"><stop offset="0" stop-color="#ffcb00"/><stop offset="0.126" stop-color="#fdef00"/><stop offset="0.168" stop-color="#f2fb05"/><stop offset="0.204" stop-color="#eaff0d"/><stop offset="0.265" stop-color="#e0ff17"/><stop offset="0.327" stop-color="#d7ff20"/><stop offset="0.472" stop-color="#8cff6b"/><stop offset="0.549" stop-color="#47ffb0"/><stop offset="0.631" stop-color="#15ffe2"/><stop offset="0.662" stop-color="#00e3f9"/><stop offset="0.678" stop-color="#00d4ff"/><stop offset="0.704" stop-color="#0bf"/><stop offset="0.827" stop-color="#0016ff"/><stop offset="0.853" stop-color="#00f"/><stop offset="0.884" stop-color="#0000fb"/><stop offset="1" stop-color="#0000c1"/></linearGradient><linearGradient id="a52" x1="0" y1="0" x2="0" y2="1"><stop offset="0" stop-color="#f5f702"/><stop offset="0.054" stop-color="#ecff0b"/><stop offset="0.245" stop-color="#cdff2a"/><stop offset="0.327" stop-color="#c1ff36"/><stop offset="0.472" stop-color="#7bff7b"/><stop offset="0.549" stop-color="#37ffc0"/><stop offset="0.621" stop-color="#15ffe2"/><stop offset="0.652" stop-color="#00e2f9"/><stop offset="0.668" stop-color="#00d4ff"/><stop offset="0.704" stop-color="#00b0ff"/><stop offset="0.827" stop-color="#0010ff"/><stop offset="0.848" stop-color="#00f"/><stop offset="0.874" stop-color="#0000fe"/><stop offset="1" stop-color="#0000bf"/></linearGradient><linearGradient id="a53" x1="0" y1="0" x2="0" y2="1"><stop offset="0" stop-color="#daff1d"/><stop offset="0.322" stop-color="#acff4b"/><stop offset="0.472" stop-color="#6bff8c"/><stop offset="0.549" stop-color="#2affcc"/><stop offset="0.595" stop-color="#14fee3"/><stop offset="0.637" stop-color="#00e1fb"/><stop offset="0.657" stop-color="#00cfff"/><stop offset="0.704" stop-color="#00a5ff"/><stop offset="0.827" stop-color="#000bff"/><stop offset="0.843" stop-color="#00f"/><stop offset="0.869" stop-color="#0000fd"/><stop offset="1" stop-color="#0000be"/></linearGradient><linearGradient id="a54" x1="0" y1="0" x2="0" y2="1"><stop offset="0" stop-color="#c9ff2d"/><stop offset="0.317" stop-color="#97ff60"/><stop offset="0.472" stop-color="#5aff9d"/><stop offset="0.559" stop-color="#1cffdb"/><stop offset="0.575" stop-color="#13fde4"/><stop offset="0.611" stop-color="#00e4f8"/><stop offset="0.631" stop-color="#00d5ff"/><stop offset="0.704" stop-color="#009aff"/><stop offset="0.822" stop-color="#000aff"/><stop offset="0.843" stop-color="#00f"/><stop offset="0.863" stop-color="#0000fc"/><stop offset="1" stop-color="#0000bd"/></linearGradient><linearGradient id="a55" x1="0" y1="0" x2="0" y2="1"><stop offset="0" stop-color="#b9ff3e"/><stop offset="0.317" stop-color="#81ff76"/><stop offset="0.472" stop-color="#49ffae"/><stop offset="0.554" stop-color="#15ffe2"/><stop offset="0.59" stop-color="#00e4f8"/><stop offset="0.606" stop-color="#00d8ff"/><stop offset="0.704" stop-color="#008eff"/><stop offset="0.822" stop-color="#0004ff"/><stop offset="0.848" stop-color="#00f"/><stop offset="1" stop-color="#00b"/></linearGradient><linearGradient id="a56" x1="0" y1="0" x2="0" y2="1"><stop offset="0" stop-color="#a9ff4e"/><stop offset="0.332" stop-color="#6aff8c"/><stop offset="0.482" stop-color="#33ffc4"/><stop offset="0.539" stop-color="#14ffe2"/><stop offset="0.57" stop-color="#00e6f6"/><stop offset="0.585" stop-color="#00d9ff"/><stop offset="0.642" stop-color="#00aeff"/><stop offset="0.704" stop-color="#0083ff"/><stop offset="0.822" stop-color="#00f"/><stop offset="0.848" stop-color="#0000fe"/><stop offset="1" stop-color="#0000ba"/></linearGradient><linearGradient id="a57" x1="0" y1="0" x2="0" y2="1"><stop offset="0" stop-color="#98ff5f"/><stop offset="0.332" stop-color="#5aff9d"/><stop offset="0.482" stop-color="#22ffd5"/><stop offset="0.513" stop-color="#12fce4"/><stop offset="0.554" stop-color="#00e1fb"/><stop offset="0.575" stop-color="#00d0ff"/><stop offset="0.631" stop-color="#00a4ff"/><stop offset="0.704" stop-color="#0078ff"/><stop offset="0.817" stop-color="#00f"/><stop offset="0.843" stop-color="#0000fc"/><stop offset="1" stop-color="#0000b9"/></linearGradient><linearGradient id="a58" x1="0" y1="0" x2="0" y2="1"><stop offset="0" stop-color="#88ff6f"/><stop offset="0.332" stop-color="#49ffae"/><stop offset="0.477" stop-color="#13fde3"/><stop offset="0.523" stop-color="#00e3f9"/><stop offset="0.549" stop-color="#00d3ff"/><stop offset="0.626" stop-color="#0097ff"/><stop offset="0.698" stop-color="#0074ff"/><stop offset="0.812" stop-color="#00f"/><stop offset="0.832" stop-color="#0000fd"/><stop offset="0.92" stop-color="#0000d8"/><stop offset="1" stop-color="#0000b8"/></linearGradient><linearGradient id="a59" x1="0" y1="0" x2="0" y2="1"><stop offset="0" stop-color="#77ff80"/><stop offset="0.332" stop-color="#38ffbf"/><stop offset="0.436" stop-color="#13fde4"/><stop offset="0.492" stop-color="#00e1fa"/><stop offset="0.513" stop-color="#00d6ff"/><stop offset="0.559" stop-color="#00b9ff"/><stop offset="0.626" stop-color="#0086ff"/><stop offset="0.698" stop-color="#006aff"/><stop offset="0.807" stop-color="#00f"/><stop offset="0.827" stop-color="#0000fb"/><stop offset="1" stop-color="#0000b7"/></linearGradient><linearGradient id="a60" x1="0" y1="0" x2="0" y2="1"><stop offset="0" stop-color="#61ff96"/><stop offset="0.327" stop-color="#29ffce"/><stop offset="0.384" stop-color="#13fde4"/><stop offset="0.451" stop-color="#00e2f9"/><stop offset="0.487" stop-color="#00d1ff"/><stop offset="0.559" stop-color="#00a7ff"/><stop offset="0.626" stop-color="#0078ff"/><stop offset="0.698" stop-color="#0060ff"/><stop offset="0.802" stop-color="#00f"/><stop offset="0.817" stop-color="#00f"/><stop offset="0.858" stop-color="#0000e9"/><stop offset="1" stop-color="#0000b6"/></linearGradient><linearGradient id="a61" x1="0" y1="0" x2="0" y2="1"><stop offset="0" stop-color="#4bffac"/><stop offset="0.291" stop-color="#20ffd7"/><stop offset="0.338" stop-color="#14fee3"/><stop offset="0.389" stop-color="#00e4f8"/><stop offset="0.425" stop-color="#00d7ff"/><stop offset="0.487" stop-color="#00beff"/><stop offset="0.58" stop-color="#008aff"/><stop offset="0.631" stop-color="#006cff"/><stop offset="0.698" stop-color="#0056ff"/><stop offset="0.791" stop-color="#0002ff"/><stop offset="0.812" stop-color="#00f"/><stop offset="0.838" stop-color="#0000ef"/><stop offset="1" stop-color="#0000b5"/></linearGradient><linearGradient id="a62" x1="0" y1="0" x2="0" y2="1"><stop offset="0" stop-color="#35ffc2"/><stop offset="0.198" stop-color="#1effd9"/><stop offset="0.265" stop-color="#12fce5"/><stop offset="0.332" stop-color="#01e7f6"/><stop offset="0.363" stop-color="#00d9ff"/><stop offset="0.43" stop-color="#00c0ff"/><stop offset="0.482" stop-color="#00aeff"/><stop offset="0.631" stop-color="#0062ff"/><stop offset="0.698" stop-color="#004cff"/><stop offset="0.786" stop-color="#00f"/><stop offset="0.807" stop-color="#00f"/><stop offset="0.832" stop-color="#00e"/><stop offset="1" stop-color="#0000b4"/></linearGradient><linearGradient id="a63" x1="0" y1="0" x2="0" y2="1"><stop offset="0" stop-color="#1fffd7"/><stop offset="0.162" stop-color="#13fde3"/><stop offset="0.255" stop-color="#00e3f9"/><stop offset="0.307" stop-color="#00d5ff"/><stop offset="0.415" stop-color="#00b0ff"/><stop offset="0.477" stop-color="#009dff"/><stop offset="0.637" stop-color="#05f"/><stop offset="0.698" stop-color="#0042ff"/><stop offset="0.776" stop-color="#00f"/><stop offset="0.802" stop-color="#0000fe"/><stop offset="0.832" stop-color="#0000eb"/><stop offset="1" stop-color="#0000b3"/></linearGradient><linearGradient id="a64" x1="0" y1="0" x2="0" y2="1"><stop offset="0" stop-color="#09f1ed"/><stop offset="0.157" stop-color="#00e1fa"/><stop offset="0.204" stop-color="#00d5ff"/><stop offset="0.358" stop-color="#00a9ff"/><stop offset="0.482" stop-color="#0089ff"/><stop offset="0.647" stop-color="#0048ff"/><stop offset="0.704" stop-color="#0035ff"/><stop offset="0.771" stop-color="#00f"/><stop offset="0.796" stop-color="#0000fe"/><stop offset="0.832" stop-color="#0000e8"/><stop offset="1" stop-color="#0000b2"/></linearGradient><linearGradient id="a65" x1="0" y1="0" x2="0" y2="1"><stop offset="0" stop-color="#00d6ff"/><stop offset="0.173" stop-color="#00c0ff"/><stop offset="0.415" stop-color="#0085ff"/><stop offset="0.482" stop-color="#0078ff"/><stop offset="0.611" stop-color="#0049ff"/><stop offset="0.704" stop-color="#002cff"/><stop offset="0.765" stop-color="#00f"/><stop offset="0.791" stop-color="#0000fd"/><stop offset="0.832" stop-color="#0000e5"/><stop offset="1" stop-color="#0000b2"/></linearGradient><linearGradient id="a66" x1="0" y1="0" x2="0" y2="1"><stop offset="0" stop-color="#0bf"/><stop offset="0.183" stop-color="#00a0ff"/><stop offset="0.343" stop-color="#007dff"/><stop offset="0.477" stop-color="#006dff"/><stop offset="0.652" stop-color="#0032ff"/><stop offset="0.704" stop-color="#0023ff"/><stop offset="0.76" stop-color="#00f"/><stop offset="0.786" stop-color="#0000fc"/><stop offset="0.832" stop-color="#0000e1"/><stop offset="1" stop-color="#0000b1"/></linearGradient><linearGradient id="a67" x1="0" y1="0" x2="0" y2="1"><stop offset="0" stop-color="#00a0ff"/><stop offset="0.281" stop-color="#07f"/><stop offset="0.477" stop-color="#0060ff"/><stop offset="0.652" stop-color="#0028ff"/><stop offset="0.704" stop-color="#001aff"/><stop offset="0.75" stop-color="#00f"/><stop offset="0.776" stop-color="#0000fe"/><stop offset="0.832" stop-color="#0000de"/><stop offset="1" stop-color="#0000b0"/></linearGradient><linearGradient id="a68" x1="0" y1="0" x2="0" y2="1"><stop offset="0" stop-color="#0085ff"/><stop offset="0.472" stop-color="#05f"/><stop offset="0.647" stop-color="#001fff"/><stop offset="0.704" stop-color="#01f"/><stop offset="0.74" stop-color="#00f"/><stop offset="0.771" stop-color="#0000fd"/><stop offset="0.832" stop-color="#0000db"/><stop offset="1" stop-color="#0000af"/></linearGradient><linearGradient id="a69" x1="0" y1="0" x2="0" y2="1"><stop offset="0" stop-color="#0075ff"/><stop offset="0.296" stop-color="#005cff"/><stop offset="0.477" stop-color="#0047ff"/><stop offset="0.647" stop-color="#0015ff"/><stop offset="0.709" stop-color="#0006ff"/><stop offset="0.729" stop-color="#00f"/><stop offset="0.76" stop-color="#0000fd"/><stop offset="0.832" stop-color="#0000d7"/><stop offset="1" stop-color="#0000ae"/></linearGradient><linearGradient id="a70" x1="0" y1="0" x2="0" y2="1"><stop offset="0" stop-color="#0068ff"/><stop offset="0.291" stop-color="#0050ff"/><stop offset="0.477" stop-color="#003aff"/><stop offset="0.647" stop-color="#000bff"/><stop offset="0.719" stop-color="#00f"/><stop offset="0.75" stop-color="#0000fc"/><stop offset="0.832" stop-color="#0000d4"/><stop offset="1" stop-color="#0000ad"/></linearGradient><linearGradient id="a71" x1="0" y1="0" x2="0" y2="1"><stop offset="0" stop-color="#005cff"/><stop offset="0.276" stop-color="#0045ff"/><stop offset="0.477" stop-color="#002dff"/><stop offset="0.631" stop-color="#0004ff"/><stop offset="0.714" stop-color="#00f"/><stop offset="0.74" stop-color="#0000fa"/><stop offset="0.838" stop-color="#0000cf"/><stop offset="1" stop-color="#0000ad"/></linearGradient><linearGradient id="a72" x1="0" y1="0" x2="0" y2="1"><stop offset="0" stop-color="#004fff"/><stop offset="0.26" stop-color="#003aff"/><stop offset="0.477" stop-color="#0021ff"/><stop offset="0.575" stop-color="#0007ff"/><stop offset="0.631" stop-color="#00f"/><stop offset="0.719" stop-color="#0000fd"/><stop offset="0.807" stop-color="#0000d8"/><stop offset="0.853" stop-color="#0000c8"/><stop offset="1" stop-color="#0000ac"/></linearGradient><linearGradient id="a73" x1="0" y1="0" x2="0" y2="1"><stop offset="0" stop-color="#0042ff"/><stop offset="0.245" stop-color="#002fff"/><stop offset="0.477" stop-color="#0014ff"/><stop offset="0.549" stop-color="#00f"/><stop offset="0.698" stop-color="#0000fe"/><stop offset="0.802" stop-color="#0000d6"/><stop offset="0.843" stop-color="#0000c7"/><stop offset="1" stop-color="#0000ab"/></linearGradient><linearGradient id="a74" x1="0" y1="0" x2="0" y2="1"><stop offset="0" stop-color="#0035ff"/><stop offset="0.235" stop-color="#0023ff"/><stop offset="0.503" stop-color="#0004ff"/><stop offset="0.57" stop-color="#00f"/><stop offset="0.668" stop-color="#0000fc"/><stop offset="0.729" stop-color="#0000ed"/><stop offset="0.807" stop-color="#0000d0"/><stop offset="0.858" stop-color="#0000c1"/><stop offset="1" stop-color="#00a"/></linearGradient><linearGradient id="a75" x1="0" y1="0" x2="0" y2="1"><stop offset="0" stop-color="#0029ff"/><stop offset="0.229" stop-color="#0017ff"/><stop offset="0.466" stop-color="#00f"/><stop offset="0.631" stop-color="#0000fd"/><stop offset="0.735" stop-color="#0000e6"/><stop offset="0.807" stop-color="#00c"/><stop offset="0.858" stop-color="#0000be"/><stop offset="1" stop-color="#0000a9"/></linearGradient><linearGradient id="a76" x1="0" y1="0" x2="0" y2="1"><stop offset="0" stop-color="#001cff"/><stop offset="0.224" stop-color="#000bff"/><stop offset="0.348" stop-color="#00f"/><stop offset="0.601" stop-color="#0000fc"/><stop offset="0.745" stop-color="#00d"/><stop offset="0.817" stop-color="#0000c4"/><stop offset="0.905" stop-color="#0000b6"/><stop offset="1" stop-color="#0000a9"/></linearGradient><linearGradient id="a77" x1="0" y1="0" x2="0" y2="1"><stop offset="0" stop-color="#000fff"/><stop offset="0.271" stop-color="#00f"/><stop offset="0.554" stop-color="#0000fc"/><stop offset="0.647" stop-color="#0000ef"/><stop offset="0.791" stop-color="#0000cb"/><stop offset="0.843" stop-color="#00b"/><stop offset="1" stop-color="#0000a8"/></linearGradient><linearGradient id="a78" x1="0" y1="0" x2="0" y2="1"><stop offset="0" stop-color="#0002ff"/><stop offset="0.513" stop-color="#0000fd"/><stop offset="0.637" stop-color="#0000ec"/><stop offset="0.796" stop-color="#0000c4"/><stop offset="0.848" stop-color="#0000b7"/><stop offset="1" stop-color="#0000a7"/></linearGradient><linearGradient id="a79" x1="0" y1="0" x2="0" y2="1"><stop offset="0" stop-color="#00f"/><stop offset="0.472" stop-color="#0000fd"/><stop offset="0.637" stop-color="#0000e7"/><stop offset="0.74" stop-color="#0000ce"/><stop offset="0.812" stop-color="#0000bc"/><stop offset="0.899" stop-color="#0000b0"/><stop offset="1" stop-color="#0000a6"/></linearGradient><linearGradient id="a80" x1="0" y1="0" x2="0" y2="1"><stop offset="0" stop-color="#00f"/><stop offset="0.405" stop-color="#0000fc"/><stop offset="0.564" stop-color="#0000ed"/><stop offset="0.637" stop-color="#0000e2"/><stop offset="0.719" stop-color="#00c"/><stop offset="0.802" stop-color="#0000bc"/><stop offset="0.879" stop-color="#0000b0"/><stop offset="1" stop-color="#0000a5"/></linearGradient><linearGradient id="a81" x1="0" y1="0" x2="0" y2="1"><stop offset="0" stop-color="#00f"/><stop offset="0.332" stop-color="#0000fc"/><stop offset="0.518" stop-color="#00e"/><stop offset="0.631" stop-color="#0000de"/><stop offset="0.709" stop-color="#0000c7"/><stop offset="0.791" stop-color="#0000bd"/><stop offset="0.863" stop-color="#0000af"/><stop offset="1" stop-color="#0000a5"/></linearGradient><linearGradient id="a82" x1="0" y1="0" x2="0" y2="1"><stop offset="0" stop-color="#00f"/><stop offset="0.286" stop-color="#0000fc"/><stop offset="0.518" stop-color="#0000e9"/><stop offset="0.631" stop-color="#0000d9"/><stop offset="0.709" stop-color="#0000c3"/><stop offset="0.791" stop-color="#0000ba"/><stop offset="0.869" stop-color="#0000ad"/><stop offset="1" stop-color="#0000a4"/></linearGradient><linearGradient id="a83" x1="0" y1="0" x2="0" y2="1"><stop offset="0" stop-color="#0000fe"/><stop offset="0.224" stop-color="#0000fb"/><stop offset="0.508" stop-color="#0000e6"/><stop offset="0.637" stop-color="#0000d3"/><stop offset="0.709" stop-color="#0000bf"/><stop offset="0.796" stop-color="#0000b6"/><stop offset="0.894" stop-color="#00a"/><stop offset="1" stop-color="#0000a3"/></linearGradient><linearGradient id="a84" x1="0" y1="0" x2="0" y2="1"><stop offset="0" stop-color="#0000fa"/><stop offset="0.214" stop-color="#0000f8"/><stop offset="0.508" stop-color="#0000e1"/><stop offset="0.637" stop-color="#0000ce"/><stop offset="0.709" stop-color="#0000bc"/><stop offset="0.796" stop-color="#0000b4"/><stop offset="0.91" stop-color="#0000a8"/><stop offset="1" stop-color="#0000a2"/></linearGradient><linearGradient id="a85" x1="0" y1="0" x2="0" y2="1"><stop offset="0" stop-color="#0000f6"/><stop offset="0.204" stop-color="#0000f5"/><stop offset="0.513" stop-color="#0000dc"/><stop offset="0.642" stop-color="#0000c8"/><stop offset="0.709" stop-color="#0000b8"/><stop offset="0.802" stop-color="#0000b0"/><stop offset="0.946" stop-color="#0000a4"/><stop offset="1" stop-color="#0000a1"/></linearGradient><linearGradient id="a86" x1="0" y1="0" x2="0" y2="1"><stop offset="0" stop-color="#0000f2"/><stop offset="0.198" stop-color="#0000f2"/><stop offset="0.508" stop-color="#0000d8"/><stop offset="0.647" stop-color="#0000c2"/><stop offset="0.709" stop-color="#0000b5"/><stop offset="0.802" stop-color="#0000ae"/><stop offset="0.982" stop-color="#0000a1"/><stop offset="1" stop-color="#0000a1"/></linearGradient><linearGradient id="a87" x1="0" y1="0" x2="0" y2="1"><stop offset="0" stop-color="#00e"/><stop offset="0.193" stop-color="#0000ef"/><stop offset="0.492" stop-color="#0000d6"/><stop offset="0.652" stop-color="#0000bd"/><stop offset="0.714" stop-color="#0000b1"/><stop offset="0.812" stop-color="#00a"/><stop offset="1" stop-color="#0000a0"/></linearGradient><linearGradient id="a88" x1="0" y1="0" x2="0" y2="1"><stop offset="0" stop-color="#0000ea"/><stop offset="0.188" stop-color="#0000ec"/><stop offset="0.482" stop-color="#0000d3"/><stop offset="0.662" stop-color="#0000b6"/><stop offset="0.719" stop-color="#0000ae"/><stop offset="1" stop-color="#00009f"/></linearGradient><linearGradient id="a89" x1="0" y1="0" x2="0" y2="1"><stop offset="0" stop-color="#0000e6"/><stop offset="0.188" stop-color="#0000e8"/><stop offset="0.477" stop-color="#0000cf"/><stop offset="0.688" stop-color="#0000ad"/><stop offset="1" stop-color="#00009e"/></linearGradient><linearGradient id="a90" x1="0" y1="0" x2="0" y2="1"><stop offset="0" stop-color="#0000e2"/><stop offset="0.183" stop-color="#0000e5"/><stop offset="0.466" stop-color="#00c"/><stop offset="0.714" stop-color="#0000a7"/><stop offset="1" stop-color="#00009e"/></linearGradient><linearGradient id="a91" x1="0" y1="0" x2="0" y2="1"><stop offset="0" stop-color="#0000de"/><stop offset="0.183" stop-color="#0000e2"/><stop offset="0.441" stop-color="#0000ca"/><stop offset="0.714" stop-color="#0000a4"/><stop offset="1" stop-color="#00009d"/></linearGradient>
<linearGradient id="b0" x1="0" y1="0" x2="0" y2="1"><stop offset="0" stop-color="#f5f701"/><stop offset="0.018" stop-color="#ecff0b"/><stop offset="0.162" stop-color="#9aff5c"/><stop offset="0.41" stop-color="#26ffd1"/><stop offset="0.456" stop-color="#13fde4"/><stop offset="0.508" stop-color="#00e1fa"/><stop offset="0.528" stop-color="#00d3ff"/><stop offset="0.76" stop-color="#0031ff"/><stop offset="0.884" stop-color="#00f"/><stop offset="0.93" stop-color="#0000fe"/><stop offset="1" stop-color="#0000e5"/></linearGradient><linearGradient id="b1" x1="0" y1="0" x2="0" y2="1"><stop offset="0" stop-color="#f6f701"/><stop offset="0.018" stop-color="#ecff0a"/><stop offset="0.162" stop-color="#9bff5c"/><stop offset="0.42" stop-color="#22ffd5"/><stop offset="0.456" stop-color="#13fde4"/><stop offset="0.508" stop-color="#00e1fb"/><stop offset="0.528" stop-color="#00d2ff"/><stop offset="0.76" stop-color="#0031ff"/><stop offset="0.884" stop-color="#00f"/><stop offset="0.936" stop-color="#0000fc"/><stop offset="1" stop-color="#0000e5"/></linearGradient><linearGradient id="b2" x1="0" y1="0" x2="0" y2="1"><stop offset="0" stop-color="#f6f601"/><stop offset="0.018" stop-color="#edff0a"/><stop offset="0.162" stop-color="#9bff5c"/><stop offset="0.42" stop-color="#22ffd5"/><stop offset="0.456" stop-color="#12fce4"/><stop offset="0.503" stop-color="#00e4f8"/><stop offset="0.523" stop-color="#00d6ff"/><stop offset="0.76" stop-color="#0032ff"/><stop offset="0.884" stop-color="#00f"/><stop offset="0.936" stop-color="#0000fd"/><stop offset="1" stop-color="#0000e6"/></linearGradient><linearGradient id="b3" x1="0" y1="0" x2="0" y2="1"><stop offset="0" stop-color="#f7f600"/><stop offset="0.018" stop-color="#edff0a"/><stop offset="0.162" stop-color="#9cff5b"/><stop offset="0.42" stop-color="#21ffd5"/><stop offset="0.456" stop-color="#12fce5"/><stop offset="0.503" stop-color="#00e3f8"/><stop offset="0.523" stop-color="#00d5ff"/><stop offset="0.76" stop-color="#0032ff"/><stop offset="0.889" stop-color="#00f"/><stop offset="0.936" stop-color="#0000fd"/><stop offset="1" stop-color="#0000e7"/></linearGradient><linearGradient id="b4" x1="0" y1="0" x2="0" y2="1"><stop offset="0" stop-color="#f7f500"/><stop offset="0.023" stop-color="#eaff0c"/><stop offset="0.162" stop-color="#9cff5b"/><stop offset="0.425" stop-color="#1fffd8"/><stop offset="0.456" stop-color="#12fce5"/><stop offset="0.503" stop-color="#00e3f9"/><stop offset="0.518" stop-color="#00d8ff"/><stop offset="0.76" stop-color="#03f"/><stop offset="0.889" stop-color="#00f"/><stop offset="0.941" stop-color="#0000fc"/><stop offset="1" stop-color="#0000e8"/></linearGradient><linearGradient id="b5" x1="0" y1="0" x2="0" y2="1"><stop offset="0" stop-color="#f7f500"/><stop offset="0.023" stop-color="#ebff0c"/><stop offset="0.162" stop-color="#9cff5b"/><stop offset="0.425" stop-color="#1fffd8"/><stop offset="0.456" stop-color="#12fbe5"/><stop offset="0.503" stop-color="#00e3f9"/><stop offset="0.518" stop-color="#00d8ff"/><stop offset="0.76" stop-color="#03f"/><stop offset="0.889" stop-color="#00f"/><stop offset="0.941" stop-color="#0000fd"/><stop offset="1" stop-color="#0000e8"/></linearGradient><linearGradient id="b6" x1="0" y1="0" x2="0" y2="1"><stop offset="0" stop-color="#f8f500"/><stop offset="0.018" stop-color="#eeff09"/><stop offset="0.162" stop-color="#9dff5a"/><stop offset="0.425" stop-color="#1fffd8"/><stop offset="0.451" stop-color="#14fee3"/><stop offset="0.503" stop-color="#00e2fa"/><stop offset="0.518" stop-color="#00d8ff"/><stop offset="0.76" stop-color="#0034ff"/><stop offset="0.889" stop-color="#00f"/><stop offset="0.941" stop-color="#0000fd"/><stop offset="1" stop-color="#0000e9"/></linearGradient><linearGradient id="b7" x1="0" y1="0" x2="0" y2="1"><stop offset="0" stop-color="#f8f400"/><stop offset="0.018" stop-color="#efff08"/><stop offset="0.162" stop-color="#9dff5a"/><stop offset="0.43" stop-color="#1cffda"/><stop offset="0.451" stop-color="#13fee3"/><stop offset="0.503" stop-color="#00e2fa"/><stop offset="0.518" stop-color="#00d7ff"/><stop offset="0.76" stop-color="#0034ff"/><stop offset="0.889" stop-color="#00f"/><stop offset="0.946" stop-color="#0000fc"/><stop offset="1" stop-color="#0000ea"/></linearGradient><linearGradient id="b8" x1="0" y1="0" x2="0" y2="1"><stop offset="0" stop-color="#f8f400"/><stop offset="0.023" stop-color="#ecff0b"/><stop offset="0.162" stop-color="#9dff59"/><stop offset="0.43" stop-color="#1cffdb"/><stop offset="0.451" stop-color="#13fde4"/><stop offset="0.497" stop-color="#00e4f8"/><stop offset="0.518" stop-color="#00d7ff"/><stop offset="0.76" stop-color="#0035ff"/><stop offset="0.894" stop-color="#00f"/><stop offset="0.946" stop-color="#0000fd"/><stop offset="1" stop-color="#0000ea"/></linearGradient><linearGradient id="b9" x1="0" y1="0" x2="0" y2="1"><stop offset="0" stop-color="#f9f300"/><stop offset="0.023" stop-color="#ecff0b"/><stop offset="0.162" stop-color="#9eff59"/><stop offset="0.43" stop-color="#1cffdb"/><stop offset="0.451" stop-color="#13fde4"/><stop offset="0.497" stop-color="#00e4f8"/><stop offset="0.518" stop-color="#00d6ff"/><stop offset="0.76" stop-color="#0035ff"/><stop offset="0.894" stop-color="#00f"/><stop offset="0.946" stop-color="#0000fd"/><stop offset="1" stop-color="#0000eb"/></linearGradient><linearGradient id="b10" x1="0" y1="0" x2="0" y2="1"><stop offset="0" stop-color="#f9f300"/><stop offset="0.023" stop-color="#edff0a"/><stop offset="0.162" stop-color="#9eff59"/><stop offset="0.43" stop-color="#1cffdb"/><stop offset="0.451" stop-color="#13fde4"/><stop offset="0.497" stop-color="#00e3f9"/><stop offset="0.518" stop-color="#00d6ff"/><stop offset="0.76" stop-color="#0036ff"/><stop offset="0.894" stop-color="#00f"/><stop offset="0.951" stop-color="#0000fc"/><stop offset="1" stop-color="#0000ec"/></linearGradient><linearGradient id="b11" x1="0" y1="0" x2="0" y2="1"><stop offset="0" stop-color="#fbf100"/><stop offset="0.023" stop-color="#efff08"/><stop offset="0.162" stop-color="#9fff58"/><stop offset="0.43" stop-color="#1dffda"/><stop offset="0.456" stop-color="#12fbe5"/><stop offset="0.503" stop-color="#00e2fa"/><stop offset="0.518" stop-color="#00d7ff"/><stop offset="0.76" stop-color="#0037ff"/><stop offset="0.899" stop-color="#00f"/><stop offset="0.951" stop-color="#0000fd"/><stop offset="1" stop-color="#0000ec"/></linearGradient><linearGradient id="b12" x1="0" y1="0" x2="0" y2="1"><stop offset="0" stop-color="#ffeb00"/><stop offset="0.023" stop-color="#f3fa04"/><stop offset="0.039" stop-color="#eaff0d"/><stop offset="0.157" stop-color="#a4ff52"/><stop offset="0.42" stop-color="#25ffd2"/><stop offset="0.461" stop-color="#13fde4"/><stop offset="0.508" stop-color="#00e3f9"/><stop offset="0.523" stop-color="#00d8ff"/><stop offset="0.76" stop-color="#003bff"/><stop offset="0.905" stop-color="#00f"/><stop offset="0.956" stop-color="#0000fd"/><stop offset="1" stop-color="#0000ed"/></linearGradient><linearGradient id="b13" x1="0" y1="0" x2="0" y2="1"><stop offset="0" stop-color="#ffe600"/><stop offset="0.018" stop-color="#fbf100"/><stop offset="0.039" stop-color="#eeff09"/><stop offset="0.152" stop-color="#a9ff4d"/><stop offset="0.394" stop-color="#33ffc4"/><stop offset="0.466" stop-color="#14fee3"/><stop offset="0.518" stop-color="#00e0fb"/><stop offset="0.544" stop-color="#00ceff"/><stop offset="0.76" stop-color="#003eff"/><stop offset="0.91" stop-color="#0001ff"/><stop offset="0.961" stop-color="#0000fc"/><stop offset="1" stop-color="#00e"/></linearGradient><linearGradient id="b14" x1="0" y1="0" x2="0" y2="1"><stop offset="0" stop-color="#ffe100"/><stop offset="0.023" stop-color="#fcef00"/><stop offset="0.039" stop-color="#f2fb04"/><stop offset="0.054" stop-color="#e8ff0e"/><stop offset="0.152" stop-color="#acff4b"/><stop offset="0.353" stop-color="#48ffaf"/><stop offset="0.477" stop-color="#13fde4"/><stop offset="0.523" stop-color="#00e1fa"/><stop offset="0.544" stop-color="#00d2ff"/><stop offset="0.714" stop-color="#005fff"/><stop offset="0.771" stop-color="#003dff"/><stop offset="0.915" stop-color="#0001ff"/><stop offset="0.961" stop-color="#0000fe"/><stop offset="1" stop-color="#0000ef"/></linearGradient><linearGradient id="b15" x1="0" y1="0" x2="0" y2="1"><stop offset="0" stop-color="#ffdc00"/><stop offset="0.028" stop-color="#fdee00"/><stop offset="0.044" stop-color="#f3fa04"/><stop offset="0.059" stop-color="#e8ff0e"/><stop offset="0.147" stop-color="#b1ff46"/><stop offset="0.312" stop-color="#5eff99"/><stop offset="0.482" stop-color="#14fee3"/><stop offset="0.528" stop-color="#00e1fa"/><stop offset="0.549" stop-color="#00d2ff"/><stop offset="0.678" stop-color="#0079ff"/><stop offset="0.765" stop-color="#0042ff"/><stop offset="0.92" stop-color="#0001ff"/><stop offset="0.966" stop-color="#0000fd"/><stop offset="1" stop-color="#0000f0"/></linearGradient><linearGradient id="b16" x1="0" y1="0" x2="0" y2="1"><stop offset="0" stop-color="#ffd800"/><stop offset="0.034" stop-color="#feee00"/><stop offset="0.049" stop-color="#f3fa04"/><stop offset="0.064" stop-color="#e9ff0e"/><stop offset="0.147" stop-color="#b4ff43"/><stop offset="0.332" stop-color="#57ffa0"/><stop offset="0.487" stop-color="#14ffe3"/><stop offset="0.528" stop-color="#00e4f8"/><stop offset="0.544" stop-color="#00d8ff"/><stop offset="0.668" stop-color="#0081ff"/><stop offset="0.765" stop-color="#04f"/><stop offset="0.925" stop-color="#00f"/><stop offset="0.966" stop-color="#0000fe"/><stop offset="1" stop-color="#0000f0"/></linearGradient><linearGradient id="b17" x1="0" y1="0" x2="0" y2="1"><stop offset="0" stop-color="#ffd400"/><stop offset="0.039" stop-color="#feee00"/><stop offset="0.054" stop-color="#f3fa04"/><stop offset="0.07" stop-color="#e8ff0e"/><stop offset="0.142" stop-color="#b9ff3d"/><stop offset="0.384" stop-color="#42ffb5"/><stop offset="0.492" stop-color="#14fee3"/><stop offset="0.534" stop-color="#00e2fa"/><stop offset="0.549" stop-color="#00d6ff"/><stop offset="0.662" stop-color="#0086ff"/><stop offset="0.765" stop-color="#0046ff"/><stop offset="0.93" stop-color="#00f"/><stop offset="0.972" stop-color="#0000fc"/><stop offset="1" stop-color="#0000f1"/></linearGradient><linearGradient id="b18" x1="0" y1="0" x2="0" y2="1"><stop offset="0" stop-color="#ffd000"/><stop offset="0.044" stop-color="#feed00"/><stop offset="0.059" stop-color="#f3fa04"/><stop offset="0.075" stop-color="#e8ff0f"/><stop offset="0.142" stop-color="#bcff3a"/><stop offset="0.42" stop-color="#35ffc1"/><stop offset="0.497" stop-color="#14fee3"/><stop offset="0.534" stop-color="#00e4f8"/><stop offset="0.549" stop-color="#00d8ff"/><stop offset="0.657" stop-color="#008bff"/><stop offset="0.765" stop-color="#0048ff"/><stop offset="0.93" stop-color="#00f"/><stop offset="0.972" stop-color="#0000fd"/><stop offset="1" stop-color="#0000f1"/></linearGradient><linearGradient id="b19" x1="0" y1="0" x2="0" y2="1"><stop offset="0" stop-color="#fc0"/><stop offset="0.049" stop-color="#feed00"/><stop offset="0.064" stop-color="#f3fa04"/><stop offset="0.075" stop-color="#ebff0b"/><stop offset="0.137" stop-color="#c2ff35"/><stop offset="0.43" stop-color="#33ffc4"/><stop offset="0.503" stop-color="#13fde4"/><stop offset="0.539" stop-color="#00e2fa"/><stop offset="0.554" stop-color="#00d6ff"/><stop offset="0.652" stop-color="#0090ff"/><stop offset="0.771" stop-color="#0047ff"/><stop offset="0.936" stop-color="#00f"/><stop offset="0.972" stop-color="#0000fe"/><stop offset="1" stop-color="#0000f1"/></linearGradient><linearGradient id="b20" x1="0" y1="0" x2="0" y2="1"><stop offset="0" stop-color="#ffc800"/><stop offset="0.044" stop-color="#ffe500"/><stop offset="0.059" stop-color="#faf200"/><stop offset="0.075" stop-color="#efff08"/><stop offset="0.137" stop-color="#c5ff32"/><stop offset="0.43" stop-color="#36ffc1"/><stop offset="0.508" stop-color="#13fde4"/><stop offset="0.539" stop-color="#00e5f7"/><stop offset="0.554" stop-color="#00d9ff"/><stop offset="0.647" stop-color="#0094ff"/><stop offset="0.771" stop-color="#0049ff"/><stop offset="0.936" stop-color="#00f"/><stop offset="0.977" stop-color="#0000fc"/><stop offset="1" stop-color="#0000f2"/></linearGradient><linearGradient id="b21" x1="0" y1="0" x2="0" y2="1"><stop offset="0" stop-color="#ffc400"/><stop offset="0.044" stop-color="#ffe100"/><stop offset="0.059" stop-color="#feee00"/><stop offset="0.075" stop-color="#f2fb05"/><stop offset="0.085" stop-color="#ebff0c"/><stop offset="0.137" stop-color="#c7ff2f"/><stop offset="0.425" stop-color="#3bffbb"/><stop offset="0.513" stop-color="#13fde4"/><stop offset="0.544" stop-color="#00e4f8"/><stop offset="0.559" stop-color="#00d8ff"/><stop offset="0.642" stop-color="#09f"/><stop offset="0.771" stop-color="#004bff"/><stop offset="0.941" stop-color="#00f"/><stop offset="0.977" stop-color="#0000fc"/><stop offset="1" stop-color="#0000f2"/></linearGradient><linearGradient id="b22" x1="0" y1="0" x2="0" y2="1"><stop offset="0" stop-color="#ffc000"/><stop offset="0.039" stop-color="#ffd800"/><stop offset="0.064" stop-color="#feee00"/><stop offset="0.08" stop-color="#f2fb05"/><stop offset="0.09" stop-color="#ebff0c"/><stop offset="0.137" stop-color="#cbff2c"/><stop offset="0.42" stop-color="#41ffb6"/><stop offset="0.513" stop-color="#16ffe1"/><stop offset="0.549" stop-color="#00e4f8"/><stop offset="0.564" stop-color="#00d7ff"/><stop offset="0.642" stop-color="#009cff"/><stop offset="0.771" stop-color="#004cff"/><stop offset="0.941" stop-color="#00f"/><stop offset="0.977" stop-color="#0000fd"/><stop offset="1" stop-color="#0000f3"/></linearGradient><linearGradient id="b23" x1="0" y1="0" x2="0" y2="1"><stop offset="0" stop-color="#ffbc00"/><stop offset="0.039" stop-color="#ffd300"/><stop offset="0.07" stop-color="#feee00"/><stop offset="0.085" stop-color="#f2fb04"/><stop offset="0.095" stop-color="#ebff0c"/><stop offset="0.137" stop-color="#cfff27"/><stop offset="0.358" stop-color="#60ff97"/><stop offset="0.513" stop-color="#19ffdd"/><stop offset="0.528" stop-color="#0ff8e8"/><stop offset="0.554" stop-color="#00e3f8"/><stop offset="0.57" stop-color="#00d7ff"/><stop offset="0.647" stop-color="#009bff"/><stop offset="0.765" stop-color="#0051ff"/><stop offset="0.946" stop-color="#00f"/><stop offset="0.977" stop-color="#0000fe"/><stop offset="1" stop-color="#0000f3"/></linearGradient><linearGradient id="b24" x1="0" y1="0" x2="0" y2="1"><stop offset="0" stop-color="#ffb800"/><stop offset="0.039" stop-color="#ffcf00"/><stop offset="0.075" stop-color="#feed00"/><stop offset="0.09" stop-color="#f3fa04"/><stop offset="0.101" stop-color="#ebff0c"/><stop offset="0.142" stop-color="#d1ff26"/><stop offset="0.332" stop-color="#71ff86"/><stop offset="0.43" stop-color="#43ffb4"/><stop offset="0.513" stop-color="#1dffda"/><stop offset="0.528" stop-color="#13fce4"/><stop offset="0.559" stop-color="#00e3f9"/><stop offset="0.575" stop-color="#00d6ff"/><stop offset="0.647" stop-color="#009eff"/><stop offset="0.765" stop-color="#0053ff"/><stop offset="0.946" stop-color="#00f"/><stop offset="0.982" stop-color="#0000fc"/><stop offset="1" stop-color="#0000f3"/></linearGradient><linearGradient id="b25" x1="0" y1="0" x2="0" y2="1"><stop offset="0" stop-color="#ffb200"/><stop offset="0.039" stop-color="#ffc900"/><stop offset="0.08" stop-color="#ffec00"/><stop offset="0.095" stop-color="#f3fa04"/><stop offset="0.106" stop-color="#ecff0b"/><stop offset="0.142" stop-color="#d5ff22"/><stop offset="0.302" stop-color="#86ff71"/><stop offset="0.405" stop-color="#52ffa5"/><stop offset="0.513" stop-color="#20ffd7"/><stop offset="0.534" stop-color="#12fce4"/><stop offset="0.564" stop-color="#00e3f9"/><stop offset="0.58" stop-color="#00d6ff"/><stop offset="0.647" stop-color="#00a2ff"/><stop offset="0.765" stop-color="#0056ff"/><stop offset="0.951" stop-color="#00f"/><stop offset="0.982" stop-color="#0000fd"/><stop offset="1" stop-color="#0000f4"/></linearGradient><linearGradient id="b26" x1="0" y1="0" x2="0" y2="1"><stop offset="0" stop-color="#ffad00"/><stop offset="0.039" stop-color="#ffc300"/><stop offset="0.085" stop-color="#ffec00"/><stop offset="0.101" stop-color="#f4f903"/><stop offset="0.116" stop-color="#e8ff0f"/><stop offset="0.302" stop-color="#8bff6c"/><stop offset="0.405" stop-color="#56ffa1"/><stop offset="0.513" stop-color="#24ffd3"/><stop offset="0.539" stop-color="#12fce5"/><stop offset="0.57" stop-color="#00e2fa"/><stop offset="0.585" stop-color="#00d5ff"/><stop offset="0.647" stop-color="#00a5ff"/><stop offset="0.765" stop-color="#0059ff"/><stop offset="0.951" stop-color="#00f"/><stop offset="0.982" stop-color="#0000fd"/><stop offset="1" stop-color="#0000f4"/></linearGradient><linearGradient id="b27" x1="0" y1="0" x2="0" y2="1"><stop offset="0" stop-color="#ffa700"/><stop offset="0.039" stop-color="#ffbe00"/><stop offset="0.095" stop-color="#fdee00"/><stop offset="0.111" stop-color="#f2fb05"/><stop offset="0.126" stop-color="#e7ff10"/><stop offset="0.286" stop-color="#98ff5f"/><stop offset="0.399" stop-color="#5cff9b"/><stop offset="0.513" stop-color="#27ffd0"/><stop offset="0.539" stop-color="#15ffe1"/><stop offset="0.57" stop-color="#00e6f7"/><stop offset="0.585" stop-color="#00d9ff"/><stop offset="0.647" stop-color="#00a8ff"/><stop offset="0.771" stop-color="#0059ff"/><stop offset="0.951" stop-color="#00f"/><stop offset="0.982" stop-color="#0000fe"/><stop offset="1" stop-color="#0000f5"/></linearGradient><linearGradient id="b28" x1="0" y1="0" x2="0" y2="1"><stop offset="0" stop-color="#ffa100"/><stop offset="0.039" stop-color="#ffb800"/><stop offset="0.101" stop-color="#ffeb00"/><stop offset="0.116" stop-color="#f4f802"/><stop offset="0.131" stop-color="#ebff0c"/><stop offset="0.291" stop-color="#9aff5d"/><stop offset="0.399" stop-color="#60ff97"/><stop offset="0.513" stop-color="#2affcc"/><stop offset="0.544" stop-color="#15ffe2"/><stop offset="0.575" stop-color="#00e5f7"/><stop offset="0.59" stop-color="#00d8ff"/><stop offset="0.647" stop-color="#00acff"/><stop offset="0.771" stop-color="#005cff"/><stop offset="0.956" stop-color="#00f"/><stop offset="0.982" stop-color="#00f"/><stop offset="1" stop-color="#0000f5"/></linearGradient><linearGradient id="b29" x1="0" y1="0" x2="0" y2="1"><stop offset="0" stop-color="#ff9b00"/><stop offset="0.039" stop-color="#ffb200"/><stop offset="0.111" stop-color="#feed00"/><stop offset="0.126" stop-color="#f4f903"/><stop offset="0.142" stop-color="#ecff0b"/><stop offset="0.296" stop-color="#9bff5b"/><stop offset="0.399" stop-color="#63ff93"/><stop offset="0.513" stop-color="#2effc9"/><stop offset="0.549" stop-color="#15ffe2"/><stop offset="0.58" stop-color="#00e4f8"/><stop offset="0.595" stop-color="#00d7ff"/><stop offset="0.647" stop-color="#00afff"/><stop offset="0.771" stop-color="#005fff"/><stop offset="0.956" stop-color="#00f"/><stop offset="0.987" stop-color="#0000fc"/><stop offset="1" stop-color="#0000f6"/></linearGradient><linearGradient id="b30" x1="0" y1="0" x2="0" y2="1"><stop offset="0" stop-color="#ff9600"/><stop offset="0.039" stop-color="#ffac00"/><stop offset="0.121" stop-color="#fdee00"/><stop offset="0.142" stop-color="#f2fb05"/><stop offset="0.162" stop-color="#e8ff0f"/><stop offset="0.307" stop-color="#9aff5d"/><stop offset="0.399" stop-color="#67ff8f"/><stop offset="0.513" stop-color="#31ffc6"/><stop offset="0.554" stop-color="#14ffe3"/><stop offset="0.585" stop-color="#00e4f8"/><stop offset="0.601" stop-color="#00d6ff"/><stop offset="0.647" stop-color="#00b2ff"/><stop offset="0.771" stop-color="#0062ff"/><stop offset="0.956" stop-color="#00f"/><stop offset="0.987" stop-color="#0000fd"/><stop offset="1" stop-color="#0000f6"/></linearGradient><linearGradient id="b31" x1="0" y1="0" x2="0" y2="1"><stop offset="0" stop-color="#ff9000"/><stop offset="0.044" stop-color="#fa0"/><stop offset="0.131" stop-color="#feed00"/><stop offset="0.152" stop-color="#f3fa04"/><stop offset="0.168" stop-color="#ebff0c"/><stop offset="0.317" stop-color="#98ff5e"/><stop offset="0.394" stop-color="#6eff89"/><stop offset="0.508" stop-color="#3affbc"/><stop offset="0.559" stop-color="#15ffe2"/><stop offset="0.59" stop-color="#00e4f8"/><stop offset="0.606" stop-color="#00d6ff"/><stop offset="0.647" stop-color="#00b5ff"/><stop offset="0.771" stop-color="#0065ff"/><stop offset="0.946" stop-color="#0007ff"/><stop offset="0.966" stop-color="#00f"/><stop offset="0.987" stop-color="#0000fd"/><stop offset="1" stop-color="#0000f7"/></linearGradient><linearGradient id="b32" x1="0" y1="0" x2="0" y2="1"><stop offset="0" stop-color="#ff8a00"/><stop offset="0.044" stop-color="#ffa300"/><stop offset="0.142" stop-color="#ffec00"/><stop offset="0.162" stop-color="#f4f903"/><stop offset="0.178" stop-color="#ecff0b"/><stop offset="0.358" stop-color="#85ff72"/><stop offset="0.508" stop-color="#41ffb6"/><stop offset="0.564" stop-color="#16ffe1"/><stop offset="0.595" stop-color="#00e4f8"/><stop offset="0.611" stop-color="#00d6ff"/><stop offset="0.652" stop-color="#00b6ff"/><stop offset="0.771" stop-color="#0068ff"/><stop offset="0.941" stop-color="#000bff"/><stop offset="0.966" stop-color="#00f"/><stop offset="0.987" stop-color="#0000fe"/><stop offset="1" stop-color="#0000f7"/></linearGradient><linearGradient id="b33" x1="0" y1="0" x2="0" y2="1"><stop offset="0" stop-color="#ff8200"/><stop offset="0.044" stop-color="#ff9d00"/><stop offset="0.142" stop-color="#ffe700"/><stop offset="0.162" stop-color="#f8f400"/><stop offset="0.183" stop-color="#edff0a"/><stop offset="0.394" stop-color="#79ff7e"/><stop offset="0.508" stop-color="#46ffb1"/><stop offset="0.575" stop-color="#13fee3"/><stop offset="0.601" stop-color="#00e6f7"/><stop offset="0.616" stop-color="#00d7ff"/><stop offset="0.765" stop-color="#006eff"/><stop offset="0.941" stop-color="#000cff"/><stop offset="0.966" stop-color="#00f"/><stop offset="0.987" stop-color="#0000fe"/><stop offset="1" stop-color="#0000f7"/></linearGradient><linearGradient id="b34" x1="0" y1="0" x2="0" y2="1"><stop offset="0" stop-color="#ff7d00"/><stop offset="0.044" stop-color="#ff9800"/><stop offset="0.142" stop-color="#ffe300"/><stop offset="0.162" stop-color="#fbf000"/><stop offset="0.183" stop-color="#f0fd07"/><stop offset="0.394" stop-color="#7dff7a"/><stop offset="0.508" stop-color="#49ffae"/><stop offset="0.58" stop-color="#13fde3"/><stop offset="0.606" stop-color="#00e6f7"/><stop offset="0.621" stop-color="#00d7ff"/><stop offset="0.765" stop-color="#0070ff"/><stop offset="0.946" stop-color="#0009ff"/><stop offset="0.966" stop-color="#00f"/><stop offset="0.987" stop-color="#00f"/><stop offset="1" stop-color="#0000f8"/></linearGradient><linearGradient id="b35" x1="0" y1="0" x2="0" y2="1"><stop offset="0" stop-color="#ff7800"/><stop offset="0.044" stop-color="#ff9300"/><stop offset="0.142" stop-color="#ffe000"/><stop offset="0.168" stop-color="#fcf000"/><stop offset="0.188" stop-color="#f0fd07"/><stop offset="0.399" stop-color="#7eff78"/><stop offset="0.508" stop-color="#4cffaa"/><stop offset="0.585" stop-color="#13fde4"/><stop offset="0.611" stop-color="#00e6f7"/><stop offset="0.626" stop-color="#00d8ff"/><stop offset="0.765" stop-color="#0072ff"/><stop offset="0.951" stop-color="#0007ff"/><stop offset="0.966" stop-color="#00f"/><stop offset="0.987" stop-color="#00f"/><stop offset="1" stop-color="#0000f8"/></linearGradient><linearGradient id="b36" x1="0" y1="0" x2="0" y2="1"><stop offset="0" stop-color="#ff7300"/><stop offset="0.044" stop-color="#ff8f00"/><stop offset="0.142" stop-color="#ffdc00"/><stop offset="0.173" stop-color="#fcf000"/><stop offset="0.193" stop-color="#f0fd07"/><stop offset="0.405" stop-color="#80ff77"/><stop offset="0.508" stop-color="#50ffa7"/><stop offset="0.59" stop-color="#13fde4"/><stop offset="0.616" stop-color="#00e6f7"/><stop offset="0.631" stop-color="#00d9ff"/><stop offset="0.765" stop-color="#0074ff"/><stop offset="0.925" stop-color="#0019ff"/><stop offset="0.966" stop-color="#00f"/><stop offset="0.992" stop-color="#0000fd"/><stop offset="1" stop-color="#0000f9"/></linearGradient><linearGradient id="b37" x1="0" y1="0" x2="0" y2="1"><stop offset="0" stop-color="#ff6e00"/><stop offset="0.049" stop-color="#ff8e00"/><stop offset="0.147" stop-color="#ffdb00"/><stop offset="0.178" stop-color="#fcef00"/><stop offset="0.193" stop-color="#f3fa03"/><stop offset="0.209" stop-color="#eaff0c"/><stop offset="0.415" stop-color="#7fff77"/><stop offset="0.513" stop-color="#4fffa8"/><stop offset="0.595" stop-color="#13fde4"/><stop offset="0.621" stop-color="#00e6f6"/><stop offset="0.637" stop-color="#00d9ff"/><stop offset="0.765" stop-color="#0076ff"/><stop offset="0.91" stop-color="#0025ff"/><stop offset="0.972" stop-color="#00f"/><stop offset="0.992" stop-color="#00f"/><stop offset="1" stop-color="#0000fb"/></linearGradient><linearGradient id="b38" x1="0" y1="0" x2="0" y2="1"><stop offset="0" stop-color="#ff6800"/><stop offset="0.054" stop-color="#ff8d00"/><stop offset="0.152" stop-color="#ffd900"/><stop offset="0.183" stop-color="#fdee00"/><stop offset="0.198" stop-color="#f4f903"/><stop offset="0.214" stop-color="#ebff0c"/><stop offset="0.374" stop-color="#97ff60"/><stop offset="0.513" stop-color="#53ffa4"/><stop offset="0.601" stop-color="#13fde4"/><stop offset="0.626" stop-color="#01e6f6"/><stop offset="0.647" stop-color="#00d6ff"/><stop offset="0.76" stop-color="#007bff"/><stop offset="0.905" stop-color="#002bff"/><stop offset="0.972" stop-color="#00f"/><stop offset="1" stop-color="#0000fc"/></linearGradient><linearGradient id="b39" x1="0" y1="0" x2="0" y2="1"><stop offset="0" stop-color="#ff6300"/><stop offset="0.059" stop-color="#ff8c00"/><stop offset="0.168" stop-color="#ffdf00"/><stop offset="0.188" stop-color="#feee00"/><stop offset="0.204" stop-color="#f4f903"/><stop offset="0.219" stop-color="#ebff0c"/><stop offset="0.312" stop-color="#b9ff3d"/><stop offset="0.513" stop-color="#56ffa1"/><stop offset="0.606" stop-color="#13fde3"/><stop offset="0.637" stop-color="#00e3f9"/><stop offset="0.652" stop-color="#00d6ff"/><stop offset="0.76" stop-color="#007eff"/><stop offset="0.899" stop-color="#0030ff"/><stop offset="0.972" stop-color="#0001ff"/><stop offset="1" stop-color="#0000fe"/></linearGradient><linearGradient id="b40" x1="0" y1="0" x2="0" y2="1"><stop offset="0" stop-color="#ff5e00"/><stop offset="0.07" stop-color="#ff8f00"/><stop offset="0.193" stop-color="#feed00"/><stop offset="0.209" stop-color="#f4f802"/><stop offset="0.224" stop-color="#eaff0c"/><stop offset="0.291" stop-color="#c7ff30"/><stop offset="0.513" stop-color="#59ff9e"/><stop offset="0.611" stop-color="#13fee3"/><stop offset="0.642" stop-color="#00e3f9"/><stop offset="0.657" stop-color="#00d6ff"/><stop offset="0.76" stop-color="#0080ff"/><stop offset="0.894" stop-color="#0036ff"/><stop offset="0.977" stop-color="#00f"/><stop offset="1" stop-color="#00f"/></linearGradient><linearGradient id="b41" x1="0" y1="0" x2="0" y2="1"><stop offset="0" stop-color="#ff5900"/><stop offset="0.095" stop-color="#ff9e00"/><stop offset="0.198" stop-color="#feed00"/><stop offset="0.214" stop-color="#f4f803"/><stop offset="0.229" stop-color="#eaff0d"/><stop offset="0.286" stop-color="#ccff2b"/><stop offset="0.508" stop-color="#60ff97"/><stop offset="0.616" stop-color="#14fee3"/><stop offset="0.647" stop-color="#00e3f9"/><stop offset="0.662" stop-color="#00d5ff"/><stop offset="0.76" stop-color="#0082ff"/><stop offset="0.894" stop-color="#0039ff"/><stop offset="0.977" stop-color="#00f"/><stop offset="1" stop-color="#00f"/></linearGradient><linearGradient id="b42" x1="0" y1="0" x2="0" y2="1"><stop offset="0" stop-color="#ff5400"/><stop offset="0.183" stop-color="#fd0"/><stop offset="0.204" stop-color="#feed00"/><stop offset="0.219" stop-color="#f4f903"/><stop offset="0.235" stop-color="#e9ff0d"/><stop offset="0.296" stop-color="#caff2c"/><stop offset="0.497" stop-color="#6aff8d"/><stop offset="0.621" stop-color="#14fee3"/><stop offset="0.652" stop-color="#00e3f9"/><stop offset="0.668" stop-color="#00d5ff"/><stop offset="0.76" stop-color="#0084ff"/><stop offset="0.894" stop-color="#003cff"/><stop offset="0.982" stop-color="#00f"/><stop offset="1" stop-color="#00f"/></linearGradient><linearGradient id="b43" x1="0" y1="0" x2="0" y2="1"><stop offset="0" stop-color="#ff4e00"/><stop offset="0.209" stop-color="#feed00"/><stop offset="0.224" stop-color="#f3f903"/><stop offset="0.24" stop-color="#e9ff0e"/><stop offset="0.441" stop-color="#8aff6d"/><stop offset="0.518" stop-color="#60ff97"/><stop offset="0.626" stop-color="#14ffe3"/><stop offset="0.657" stop-color="#00e2f9"/><stop offset="0.673" stop-color="#00d4ff"/><stop offset="0.76" stop-color="#0086ff"/><stop offset="0.889" stop-color="#0042ff"/><stop offset="0.982" stop-color="#00f"/><stop offset="1" stop-color="#00f"/></linearGradient><linearGradient id="b44" x1="0" y1="0" x2="0" y2="1"><stop offset="0" stop-color="#ff4900"/><stop offset="0.214" stop-color="#ffeb00"/><stop offset="0.229" stop-color="#f5f702"/><stop offset="0.24" stop-color="#eeff09"/><stop offset="0.441" stop-color="#8eff69"/><stop offset="0.518" stop-color="#63ff94"/><stop offset="0.631" stop-color="#14fee3"/><stop offset="0.657" stop-color="#01e6f6"/><stop offset="0.673" stop-color="#00d8ff"/><stop offset="0.76" stop-color="#08f"/><stop offset="0.889" stop-color="#0045ff"/><stop offset="0.987" stop-color="#00f"/><stop offset="1" stop-color="#00f"/></linearGradient><linearGradient id="b45" x1="0" y1="0" x2="0" y2="1"><stop offset="0" stop-color="#f40"/><stop offset="0.219" stop-color="#ffe900"/><stop offset="0.235" stop-color="#f7f500"/><stop offset="0.25" stop-color="#ecff0a"/><stop offset="0.42" stop-color="#9cff5a"/><stop offset="0.518" stop-color="#66ff90"/><stop offset="0.637" stop-color="#14fee3"/><stop offset="0.662" stop-color="#00e6f7"/><stop offset="0.678" stop-color="#00d7ff"/><stop offset="0.76" stop-color="#008bff"/><stop offset="0.889" stop-color="#0047ff"/><stop offset="0.987" stop-color="#00f"/><stop offset="1" stop-color="#00f"/></linearGradient><linearGradient id="b46" x1="0" y1="0" x2="0" y2="1"><stop offset="0" stop-color="#ff4000"/><stop offset="0.198" stop-color="#ffd300"/><stop offset="0.235" stop-color="#fcef00"/><stop offset="0.255" stop-color="#effe07"/><stop offset="0.42" stop-color="#a0ff56"/><stop offset="0.518" stop-color="#6aff8d"/><stop offset="0.642" stop-color="#13fee3"/><stop offset="0.668" stop-color="#00e4f8"/><stop offset="0.683" stop-color="#00d5ff"/><stop offset="0.76" stop-color="#008dff"/><stop offset="0.889" stop-color="#004aff"/><stop offset="0.987" stop-color="#0001ff"/><stop offset="1" stop-color="#00f"/></linearGradient><linearGradient id="b47" x1="0" y1="0" x2="0" y2="1"><stop offset="0" stop-color="#ff3b00"/><stop offset="0.152" stop-color="#ffa800"/><stop offset="0.24" stop-color="#feed00"/><stop offset="0.26" stop-color="#f2fb04"/><stop offset="0.281" stop-color="#e9ff0e"/><stop offset="0.42" stop-color="#a4ff52"/><stop offset="0.523" stop-color="#6aff8d"/><stop offset="0.647" stop-color="#13fde4"/><stop offset="0.673" stop-color="#00e3f9"/><stop offset="0.688" stop-color="#00d4ff"/><stop offset="0.76" stop-color="#008fff"/><stop offset="0.884" stop-color="#0051ff"/><stop offset="0.992" stop-color="#00f"/><stop offset="1" stop-color="#00f"/></linearGradient><linearGradient id="b48" x1="0" y1="0" x2="0" y2="1"><stop offset="0" stop-color="#ff3700"/><stop offset="0.121" stop-color="#ff8900"/><stop offset="0.25" stop-color="#fcef00"/><stop offset="0.271" stop-color="#f3fa04"/><stop offset="0.291" stop-color="#e9ff0e"/><stop offset="0.42" stop-color="#a9ff4e"/><stop offset="0.528" stop-color="#69ff8d"/><stop offset="0.647" stop-color="#16ffe1"/><stop offset="0.673" stop-color="#01e7f6"/><stop offset="0.688" stop-color="#00d7ff"/><stop offset="0.76" stop-color="#0091ff"/><stop offset="0.884" stop-color="#0053ff"/><stop offset="0.992" stop-color="#00f"/><stop offset="1" stop-color="#00f"/></linearGradient><linearGradient id="b49" x1="0" y1="0" x2="0" y2="1"><stop offset="0" stop-color="#f30"/><stop offset="0.085" stop-color="#ff6900"/><stop offset="0.198" stop-color="#ffc000"/><stop offset="0.26" stop-color="#fdef00"/><stop offset="0.286" stop-color="#f1fd06"/><stop offset="0.425" stop-color="#aaff4d"/><stop offset="0.523" stop-color="#71ff85"/><stop offset="0.647" stop-color="#1affdd"/><stop offset="0.657" stop-color="#11fbe5"/><stop offset="0.678" stop-color="#01e6f6"/><stop offset="0.688" stop-color="#00dcff"/><stop offset="0.76" stop-color="#0095ff"/><stop offset="0.884" stop-color="#0056ff"/><stop offset="0.992" stop-color="#0001ff"/><stop offset="1" stop-color="#00f"/></linearGradient><linearGradient id="b50" x1="0" y1="0" x2="0" y2="1"><stop offset="0" stop-color="#ff2e00"/><stop offset="0.07" stop-color="#ff5800"/><stop offset="0.157" stop-color="#ff9800"/><stop offset="0.26" stop-color="#ffe800"/><stop offset="0.291" stop-color="#f3fa04"/><stop offset="0.307" stop-color="#ecff0b"/><stop offset="0.456" stop-color="#9eff59"/><stop offset="0.534" stop-color="#6fff88"/><stop offset="0.647" stop-color="#1effd9"/><stop offset="0.657" stop-color="#15ffe2"/><stop offset="0.683" stop-color="#00e5f7"/><stop offset="0.693" stop-color="#00dbff"/><stop offset="0.76" stop-color="#09f"/><stop offset="0.884" stop-color="#0059ff"/><stop offset="1" stop-color="#00f"/></linearGradient><linearGradient id="b51" x1="0" y1="0" x2="0" y2="1"><stop offset="0" stop-color="#ff2a00"/><stop offset="0.059" stop-color="#ff4b00"/><stop offset="0.147" stop-color="#ff8900"/><stop offset="0.26" stop-color="#ffe200"/><stop offset="0.281" stop-color="#fdee00"/><stop offset="0.302" stop-color="#f3fa04"/><stop offset="0.317" stop-color="#ecff0b"/><stop offset="0.503" stop-color="#88ff6f"/><stop offset="0.647" stop-color="#21ffd5"/><stop offset="0.662" stop-color="#15ffe2"/><stop offset="0.688" stop-color="#00e5f8"/><stop offset="0.704" stop-color="#00d5ff"/><stop offset="0.76" stop-color="#009dff"/><stop offset="0.884" stop-color="#005cff"/><stop offset="1" stop-color="#00f"/></linearGradient><linearGradient id="b52" x1="0" y1="0" x2="0" y2="1"><stop offset="0" stop-color="#ff2600"/><stop offset="0.054" stop-color="#ff4200"/><stop offset="0.142" stop-color="#ff7e00"/><stop offset="0.26" stop-color="#ffdc00"/><stop offset="0.291" stop-color="#fdee00"/><stop offset="0.312" stop-color="#f3fa04"/><stop offset="0.327" stop-color="#ebff0b"/><stop offset="0.513" stop-color="#85ff71"/><stop offset="0.647" stop-color="#25ffd2"/><stop offset="0.668" stop-color="#14fee3"/><stop offset="0.693" stop-color="#00e4f8"/><stop offset="0.709" stop-color="#00d4ff"/><stop offset="0.76" stop-color="#00a1ff"/><stop offset="0.884" stop-color="#005eff"/><stop offset="1" stop-color="#0001ff"/></linearGradient><linearGradient id="b53" x1="0" y1="0" x2="0" y2="1"><stop offset="0" stop-color="#ff2100"/><stop offset="0.049" stop-color="#ff3900"/><stop offset="0.142" stop-color="#f70"/><stop offset="0.26" stop-color="#ffd600"/><stop offset="0.302" stop-color="#fdee00"/><stop offset="0.322" stop-color="#f3fa04"/><stop offset="0.343" stop-color="#e8ff0e"/><stop offset="0.518" stop-color="#86ff71"/><stop offset="0.647" stop-color="#29ffce"/><stop offset="0.673" stop-color="#13fde4"/><stop offset="0.698" stop-color="#00e3f9"/><stop offset="0.714" stop-color="#00d3ff"/><stop offset="0.76" stop-color="#00a5ff"/><stop offset="0.884" stop-color="#0061ff"/><stop offset="1" stop-color="#0002ff"/></linearGradient><linearGradient id="b54" x1="0" y1="0" x2="0" y2="1"><stop offset="0" stop-color="#ff1d00"/><stop offset="0.044" stop-color="#ff3100"/><stop offset="0.137" stop-color="#ff6c00"/><stop offset="0.26" stop-color="#ffcf00"/><stop offset="0.312" stop-color="#fdee00"/><stop offset="0.332" stop-color="#f3fa04"/><stop offset="0.353" stop-color="#e8ff0f"/><stop offset="0.518" stop-color="#8bff6c"/><stop offset="0.647" stop-color="#2cffca"/><stop offset="0.678" stop-color="#12fce4"/><stop offset="0.698" stop-color="#01e7f6"/><stop offset="0.714" stop-color="#00d7ff"/><stop offset="0.76" stop-color="#00a9ff"/><stop offset="0.884" stop-color="#0064ff"/><stop offset="1" stop-color="#0003ff"/></linearGradient><linearGradient id="b55" x1="0" y1="0" x2="0" y2="1"><stop offset="0" stop-color="#ff1900"/><stop offset="0.044" stop-color="#ff2b00"/><stop offset="0.137" stop-color="#ff6500"/><stop offset="0.26" stop-color="#ffc800"/><stop offset="0.322" stop-color="#fdee00"/><stop offset="0.343" stop-color="#f2fb05"/><stop offset="0.363" stop-color="#e7ff10"/><stop offset="0.518" stop-color="#8fff68"/><stop offset="0.647" stop-color="#30ffc7"/><stop offset="0.678" stop-color="#16ffe1"/><stop offset="0.704" stop-color="#00e6f6"/><stop offset="0.714" stop-color="#00dbff"/><stop offset="0.76" stop-color="#00adff"/><stop offset="0.884" stop-color="#0067ff"/><stop offset="1" stop-color="#0005ff"/></linearGradient><linearGradient id="b56" x1="0" y1="0" x2="0" y2="1"><stop offset="0" stop-color="#fc1000"/><stop offset="0.039" stop-color="#ff2100"/><stop offset="0.137" stop-color="#ff5e00"/><stop offset="0.26" stop-color="#ffc100"/><stop offset="0.332" stop-color="#ffed00"/><stop offset="0.353" stop-color="#f4f903"/><stop offset="0.369" stop-color="#ecff0b"/><stop offset="0.528" stop-color="#8dff6a"/><stop offset="0.637" stop-color="#40ffb7"/><stop offset="0.688" stop-color="#13fde4"/><stop offset="0.709" stop-color="#01e7f6"/><stop offset="0.719" stop-color="#00dbff"/><stop offset="0.76" stop-color="#00b2ff"/><stop offset="0.884" stop-color="#006cff"/><stop offset="1" stop-color="#0006ff"/></linearGradient><linearGradient id="b57" x1="0" y1="0" x2="0" y2="1"><stop offset="0" stop-color="#f10800"/><stop offset="0.034" stop-color="#ff1600"/><stop offset="0.137" stop-color="#ff5700"/><stop offset="0.26" stop-color="#ffba00"/><stop offset="0.348" stop-color="#fdee00"/><stop offset="0.369" stop-color="#f3fa04"/><stop offset="0.389" stop-color="#e7ff10"/><stop offset="0.564" stop-color="#7aff7d"/><stop offset="0.637" stop-color="#48ffaf"/><stop offset="0.693" stop-color="#14fee3"/><stop offset="0.714" stop-color="#01e7f6"/><stop offset="0.724" stop-color="#00dbff"/><stop offset="0.755" stop-color="#00b8ff"/><stop offset="0.884" stop-color="#0071ff"/><stop offset="1" stop-color="#0007ff"/></linearGradient><linearGradient id="b58" x1="0" y1="0" x2="0" y2="1"><stop offset="0" stop-color="#e70000"/><stop offset="0.044" stop-color="#ff1500"/><stop offset="0.137" stop-color="#ff4f00"/><stop offset="0.26" stop-color="#ffb300"/><stop offset="0.363" stop-color="#fcef00"/><stop offset="0.379" stop-color="#f4f903"/><stop offset="0.394" stop-color="#eaff0c"/><stop offset="0.631" stop-color="#54ffa3"/><stop offset="0.698" stop-color="#14ffe2"/><stop offset="0.719" stop-color="#01e7f6"/><stop offset="0.729" stop-color="#00dbff"/><stop offset="0.755" stop-color="#00bdff"/><stop offset="0.884" stop-color="#07f"/><stop offset="1" stop-color="#0009ff"/></linearGradient><linearGradient id="b59" x1="0" y1="0" x2="0" y2="1"><stop offset="0" stop-color="#d00"/><stop offset="0.028" stop-color="#ec0400"/><stop offset="0.054" stop-color="#ff1300"/><stop offset="0.137" stop-color="#ff4800"/><stop offset="0.255" stop-color="#ffa900"/><stop offset="0.374" stop-color="#feed00"/><stop offset="0.389" stop-color="#f4f802"/><stop offset="0.405" stop-color="#eaff0c"/><stop offset="0.631" stop-color="#5cff9b"/><stop offset="0.704" stop-color="#17ffe0"/><stop offset="0.729" stop-color="#00e3f8"/><stop offset="0.74" stop-color="#00d7ff"/><stop offset="0.76" stop-color="#00c2ff"/><stop offset="0.884" stop-color="#007cff"/><stop offset="1" stop-color="#000aff"/></linearGradient><linearGradient id="b60" x1="0" y1="0" x2="0" y2="1"><stop offset="0" stop-color="#d20000"/><stop offset="0.039" stop-color="#eb0200"/><stop offset="0.07" stop-color="#ff1500"/><stop offset="0.137" stop-color="#ff4000"/><stop offset="0.255" stop-color="#ffa200"/><stop offset="0.384" stop-color="#ffed00"/><stop offset="0.399" stop-color="#f4f802"/><stop offset="0.415" stop-color="#eaff0d"/><stop offset="0.549" stop-color="#95ff61"/><stop offset="0.631" stop-color="#63ff93"/><stop offset="0.714" stop-color="#14ffe2"/><stop offset="0.735" stop-color="#01e6f6"/><stop offset="0.745" stop-color="#00daff"/><stop offset="0.76" stop-color="#00cbff"/><stop offset="0.884" stop-color="#0082ff"/><stop offset="1" stop-color="#000cff"/></linearGradient><linearGradient id="b61" x1="0" y1="0" x2="0" y2="1"><stop offset="0" stop-color="#c10000"/><stop offset="0.054" stop-color="#ea0200"/><stop offset="0.08" stop-color="#fe1200"/><stop offset="0.142" stop-color="#ff3d00"/><stop offset="0.255" stop-color="#ff9b00"/><stop offset="0.384" stop-color="#ffe500"/><stop offset="0.399" stop-color="#fbf100"/><stop offset="0.42" stop-color="#edff0a"/><stop offset="0.523" stop-color="#a9ff4e"/><stop offset="0.631" stop-color="#6bff8c"/><stop offset="0.719" stop-color="#17ffe0"/><stop offset="0.745" stop-color="#00e3f9"/><stop offset="0.755" stop-color="#00d7ff"/><stop offset="0.884" stop-color="#0087ff"/><stop offset="1" stop-color="#000fff"/></linearGradient><linearGradient id="b62" x1="0" y1="0" x2="0" y2="1"><stop offset="0" stop-color="#b00000"/><stop offset="0.07" stop-color="#e90100"/><stop offset="0.095" stop-color="#fe1200"/><stop offset="0.183" stop-color="#ff5300"/><stop offset="0.265" stop-color="#ff9100"/><stop offset="0.394" stop-color="#ffe400"/><stop offset="0.41" stop-color="#fcf000"/><stop offset="0.43" stop-color="#eeff09"/><stop offset="0.539" stop-color="#aaff4d"/><stop offset="0.631" stop-color="#73ff84"/><stop offset="0.729" stop-color="#14fee3"/><stop offset="0.75" stop-color="#00e5f7"/><stop offset="0.765" stop-color="#00d9ff"/><stop offset="0.884" stop-color="#008dff"/><stop offset="1" stop-color="#0012ff"/></linearGradient><linearGradient id="b63" x1="0" y1="0" x2="0" y2="1"><stop offset="0" stop-color="#9f0000"/><stop offset="0.044" stop-color="#c70000"/><stop offset="0.085" stop-color="#e90100"/><stop offset="0.111" stop-color="#ff1300"/><stop offset="0.307" stop-color="#ff9d00"/><stop offset="0.41" stop-color="#ffe500"/><stop offset="0.425" stop-color="#fbf100"/><stop offset="0.446" stop-color="#edff0a"/><stop offset="0.559" stop-color="#a7ff50"/><stop offset="0.631" stop-color="#7bff7c"/><stop offset="0.735" stop-color="#16ffe1"/><stop offset="0.76" stop-color="#00e5f7"/><stop offset="0.781" stop-color="#00d7ff"/><stop offset="0.884" stop-color="#0092ff"/><stop offset="1" stop-color="#0016ff"/></linearGradient><linearGradient id="b64" x1="0" y1="0" x2="0" y2="1"><stop offset="0" stop-color="#910000"/><stop offset="0.039" stop-color="#b70000"/><stop offset="0.101" stop-color="#eb0200"/><stop offset="0.126" stop-color="#ff1400"/><stop offset="0.394" stop-color="#ffcb00"/><stop offset="0.436" stop-color="#ffec00"/><stop offset="0.451" stop-color="#f4f802"/><stop offset="0.466" stop-color="#eaff0d"/><stop offset="0.59" stop-color="#9dff5a"/><stop offset="0.631" stop-color="#82ff74"/><stop offset="0.745" stop-color="#13fde4"/><stop offset="0.76" stop-color="#06edf0"/><stop offset="0.781" stop-color="#00e0fc"/><stop offset="0.817" stop-color="#00c7ff"/><stop offset="0.884" stop-color="#0098ff"/><stop offset="1" stop-color="#0019ff"/></linearGradient><linearGradient id="b65" x1="0" y1="0" x2="0" y2="1"><stop offset="0" stop-color="#830000"/><stop offset="0.034" stop-color="#a80000"/><stop offset="0.111" stop-color="#e80000"/><stop offset="0.142" stop-color="#ff1500"/><stop offset="0.394" stop-color="#ffc500"/><stop offset="0.446" stop-color="#fdee00"/><stop offset="0.461" stop-color="#f2fb04"/><stop offset="0.472" stop-color="#ebff0c"/><stop offset="0.631" stop-color="#86ff70"/><stop offset="0.75" stop-color="#15ffe2"/><stop offset="0.786" stop-color="#00e4f8"/><stop offset="0.807" stop-color="#00d6ff"/><stop offset="0.884" stop-color="#009dff"/><stop offset="1" stop-color="#001cff"/></linearGradient><linearGradient id="b66" x1="0" y1="0" x2="0" y2="1"><stop offset="0" stop-color="#830000"/><stop offset="0.034" stop-color="#a80000"/><stop offset="0.111" stop-color="#e80000"/><stop offset="0.142" stop-color="#ff1500"/><stop offset="0.394" stop-color="#ffc500"/><stop offset="0.446" stop-color="#fdee00"/><stop offset="0.461" stop-color="#f2fb04"/><stop offset="0.472" stop-color="#ebff0c"/><stop offset="0.631" stop-color="#87ff70"/><stop offset="0.755" stop-color="#14ffe2"/><stop offset="0.791" stop-color="#00e4f8"/><stop offset="0.807" stop-color="#00d9ff"/><stop offset="0.884" stop-color="#009dff"/><stop offset="1" stop-color="#001fff"/></linearGradient><linearGradient id="b67" x1="0" y1="0" x2="0" y2="1"><stop offset="0" stop-color="#830000"/><stop offset="0.034" stop-color="#a80000"/><stop offset="0.111" stop-color="#e80000"/><stop offset="0.142" stop-color="#ff1500"/><stop offset="0.394" stop-color="#ffc500"/><stop offset="0.446" stop-color="#fdee00"/><stop offset="0.461" stop-color="#f2fb04"/><stop offset="0.472" stop-color="#ebff0c"/><stop offset="0.631" stop-color="#87ff70"/><stop offset="0.76" stop-color="#15ffe2"/><stop offset="0.796" stop-color="#00e4f8"/><stop offset="0.812" stop-color="#00d7ff"/><stop offset="0.884" stop-color="#009dff"/><stop offset="1" stop-color="#02f"/></linearGradient><linearGradient id="b68" x1="0" y1="0" x2="0" y2="1"><stop offset="0" stop-color="#830000"/><stop offset="0.034" stop-color="#a80000"/><stop offset="0.111" stop-color="#e80000"/><stop offset="0.142" stop-color="#ff1500"/><stop offset="0.394" stop-color="#ffc500"/><stop offset="0.446" stop-color="#fdee00"/><stop offset="0.461" stop-color="#f2fb04"/><stop offset="0.472" stop-color="#ebff0c"/><stop offset="0.637" stop-color="#82ff74"/><stop offset="0.765" stop-color="#14ffe2"/><stop offset="0.796" stop-color="#00e6f6"/><stop offset="0.817" stop-color="#00d5ff"/><stop offset="0.889" stop-color="#0098ff"/><stop offset="1" stop-color="#0023ff"/></linearGradient><linearGradient id="b69" x1="0" y1="0" x2="0" y2="1"><stop offset="0" stop-color="#b30000"/><stop offset="0.034" stop-color="#d50000"/><stop offset="0.064" stop-color="#ea0200"/><stop offset="0.095" stop-color="#ff1300"/><stop offset="0.265" stop-color="#ff7000"/><stop offset="0.405" stop-color="#ffd200"/><stop offset="0.441" stop-color="#fdee00"/><stop offset="0.456" stop-color="#f3fa04"/><stop offset="0.472" stop-color="#e8ff0f"/><stop offset="0.631" stop-color="#85ff72"/><stop offset="0.76" stop-color="#15ffe2"/><stop offset="0.796" stop-color="#00e4f8"/><stop offset="0.812" stop-color="#00d7ff"/><stop offset="0.884" stop-color="#009dff"/><stop offset="1" stop-color="#001fff"/></linearGradient><linearGradient id="b70" x1="0" y1="0" x2="0" y2="1"><stop offset="0" stop-color="#e30000"/><stop offset="0.013" stop-color="#ee0500"/><stop offset="0.028" stop-color="#ff1300"/><stop offset="0.173" stop-color="#ff5900"/><stop offset="0.26" stop-color="#ff8200"/><stop offset="0.42" stop-color="#fdef00"/><stop offset="0.436" stop-color="#f3f903"/><stop offset="0.451" stop-color="#eaff0d"/><stop offset="0.631" stop-color="#7fff77"/><stop offset="0.755" stop-color="#12fce4"/><stop offset="0.786" stop-color="#00e4f8"/><stop offset="0.802" stop-color="#00d8ff"/><stop offset="0.884" stop-color="#0097ff"/><stop offset="1" stop-color="#001dff"/></linearGradient><linearGradient id="b71" x1="0" y1="0" x2="0" y2="1"><stop offset="0" stop-color="#ff2500"/><stop offset="0.039" stop-color="#ff3d00"/><stop offset="0.255" stop-color="#ff9500"/><stop offset="0.389" stop-color="#feed00"/><stop offset="0.41" stop-color="#f4f903"/><stop offset="0.425" stop-color="#ecff0b"/><stop offset="0.626" stop-color="#7eff79"/><stop offset="0.745" stop-color="#16ffe1"/><stop offset="0.776" stop-color="#00e5f7"/><stop offset="0.796" stop-color="#00d5ff"/><stop offset="0.884" stop-color="#0091ff"/><stop offset="1" stop-color="#001aff"/></linearGradient><linearGradient id="b72" x1="0" y1="0" x2="0" y2="1"><stop offset="0" stop-color="#ff4f00"/><stop offset="0.039" stop-color="#ff6100"/><stop offset="0.152" stop-color="#ff8300"/><stop offset="0.26" stop-color="#ffb100"/><stop offset="0.358" stop-color="#fdef00"/><stop offset="0.379" stop-color="#f2fb05"/><stop offset="0.41" stop-color="#e4ff12"/><stop offset="0.528" stop-color="#aeff49"/><stop offset="0.631" stop-color="#74ff83"/><stop offset="0.74" stop-color="#14fee3"/><stop offset="0.765" stop-color="#00e6f7"/><stop offset="0.786" stop-color="#00d6ff"/><stop offset="0.889" stop-color="#0085ff"/><stop offset="1" stop-color="#0018ff"/></linearGradient><linearGradient id="b73" x1="0" y1="0" x2="0" y2="1"><stop offset="0" stop-color="#ff7900"/><stop offset="0.039" stop-color="#ff8500"/><stop offset="0.131" stop-color="#ff9300"/><stop offset="0.265" stop-color="#ffcd00"/><stop offset="0.322" stop-color="#fcef00"/><stop offset="0.338" stop-color="#f4f802"/><stop offset="0.353" stop-color="#ecff0a"/><stop offset="0.436" stop-color="#ccff2b"/><stop offset="0.518" stop-color="#acff4a"/><stop offset="0.631" stop-color="#6eff89"/><stop offset="0.735" stop-color="#13fde4"/><stop offset="0.755" stop-color="#01e6f6"/><stop offset="0.776" stop-color="#00d7ff"/><stop offset="0.889" stop-color="#007fff"/><stop offset="1" stop-color="#0016ff"/></linearGradient><linearGradient id="b74" x1="0" y1="0" x2="0" y2="1"><stop offset="0" stop-color="#ffa100"/><stop offset="0.044" stop-color="#ffa900"/><stop offset="0.131" stop-color="#ffb100"/><stop offset="0.265" stop-color="#ffe700"/><stop offset="0.286" stop-color="#faf200"/><stop offset="0.312" stop-color="#edff09"/><stop offset="0.394" stop-color="#c9ff2e"/><stop offset="0.518" stop-color="#9eff58"/><stop offset="0.631" stop-color="#63ff94"/><stop offset="0.724" stop-color="#15ffe2"/><stop offset="0.75" stop-color="#00e4f8"/><stop offset="0.765" stop-color="#00d7ff"/><stop offset="0.889" stop-color="#0078ff"/><stop offset="1" stop-color="#01f"/></linearGradient><linearGradient id="b75" x1="0" y1="0" x2="0" y2="1"><stop offset="0" stop-color="#ffc500"/><stop offset="0.116" stop-color="#ffd000"/><stop offset="0.219" stop-color="#fdef00"/><stop offset="0.25" stop-color="#f4f903"/><stop offset="0.271" stop-color="#ebff0c"/><stop offset="0.394" stop-color="#b8ff3f"/><stop offset="0.513" stop-color="#93ff64"/><stop offset="0.631" stop-color="#58ff9f"/><stop offset="0.714" stop-color="#15ffe1"/><stop offset="0.74" stop-color="#01e6f6"/><stop offset="0.755" stop-color="#00d7ff"/><stop offset="0.889" stop-color="#0072ff"/><stop offset="1" stop-color="#000dff"/></linearGradient><linearGradient id="b76" x1="0" y1="0" x2="0" y2="1"><stop offset="0" stop-color="#ffe900"/><stop offset="0.137" stop-color="#f7f500"/><stop offset="0.188" stop-color="#ecff0b"/><stop offset="0.265" stop-color="#d8ff1f"/><stop offset="0.394" stop-color="#a6ff50"/><stop offset="0.513" stop-color="#85ff72"/><stop offset="0.631" stop-color="#4cffaa"/><stop offset="0.704" stop-color="#15ffe2"/><stop offset="0.735" stop-color="#00e2fa"/><stop offset="0.75" stop-color="#00d3ff"/><stop offset="0.889" stop-color="#006cff"/><stop offset="1" stop-color="#0009ff"/></linearGradient><linearGradient id="b77" x1="0" y1="0" x2="0" y2="1"><stop offset="0" stop-color="#e2ff15"/><stop offset="0.147" stop-color="#dbff1c"/><stop offset="0.26" stop-color="#c6ff31"/><stop offset="0.389" stop-color="#96ff61"/><stop offset="0.513" stop-color="#77ff80"/><stop offset="0.631" stop-color="#41ffb6"/><stop offset="0.693" stop-color="#14fee3"/><stop offset="0.724" stop-color="#00e2fa"/><stop offset="0.74" stop-color="#00d4ff"/><stop offset="0.843" stop-color="#08f"/><stop offset="0.899" stop-color="#005cff"/><stop offset="1" stop-color="#0005ff"/></linearGradient><linearGradient id="b78" x1="0" y1="0" x2="0" y2="1"><stop offset="0" stop-color="#d0ff26"/><stop offset="0.152" stop-color="#c6ff31"/><stop offset="0.26" stop-color="#b2ff44"/><stop offset="0.389" stop-color="#84ff72"/><stop offset="0.513" stop-color="#68ff8f"/><stop offset="0.631" stop-color="#36ffc1"/><stop offset="0.678" stop-color="#15ffe1"/><stop offset="0.709" stop-color="#00e6f7"/><stop offset="0.724" stop-color="#00d8ff"/><stop offset="0.786" stop-color="#00a8ff"/><stop offset="0.894" stop-color="#0059ff"/><stop offset="1" stop-color="#00f"/></linearGradient><linearGradient id="b79" x1="0" y1="0" x2="0" y2="1"><stop offset="0" stop-color="#bfff38"/><stop offset="0.157" stop-color="#b2ff45"/><stop offset="0.26" stop-color="#9fff58"/><stop offset="0.389" stop-color="#73ff83"/><stop offset="0.518" stop-color="#57ffa0"/><stop offset="0.631" stop-color="#2dffca"/><stop offset="0.668" stop-color="#14ffe3"/><stop offset="0.698" stop-color="#00e5f7"/><stop offset="0.714" stop-color="#00d8ff"/><stop offset="0.786" stop-color="#00a0ff"/><stop offset="0.899" stop-color="#004eff"/><stop offset="0.992" stop-color="#0001ff"/><stop offset="1" stop-color="#00f"/></linearGradient><linearGradient id="b80" x1="0" y1="0" x2="0" y2="1"><stop offset="0" stop-color="#adff4a"/><stop offset="0.168" stop-color="#9cff5b"/><stop offset="0.265" stop-color="#8aff6d"/><stop offset="0.394" stop-color="#63ff94"/><stop offset="0.528" stop-color="#45ffb2"/><stop offset="0.631" stop-color="#23ffd3"/><stop offset="0.657" stop-color="#12fce4"/><stop offset="0.688" stop-color="#00e3f9"/><stop offset="0.704" stop-color="#00d7ff"/><stop offset="0.786" stop-color="#0098ff"/><stop offset="0.899" stop-color="#0047ff"/><stop offset="0.987" stop-color="#00f"/><stop offset="1" stop-color="#00f"/></linearGradient><linearGradient id="b81" x1="0" y1="0" x2="0" y2="1"><stop offset="0" stop-color="#9bff5c"/><stop offset="0.183" stop-color="#86ff71"/><stop offset="0.276" stop-color="#74ff83"/><stop offset="0.41" stop-color="#50ffa7"/><stop offset="0.575" stop-color="#2bffcc"/><stop offset="0.631" stop-color="#1affdd"/><stop offset="0.647" stop-color="#10fae6"/><stop offset="0.673" stop-color="#00e6f7"/><stop offset="0.693" stop-color="#00d5ff"/><stop offset="0.786" stop-color="#0090ff"/><stop offset="0.91" stop-color="#0038ff"/><stop offset="0.982" stop-color="#00f"/><stop offset="1" stop-color="#00f"/></linearGradient><linearGradient id="b82" x1="0" y1="0" x2="0" y2="1"><stop offset="0" stop-color="#89ff6e"/><stop offset="0.26" stop-color="#67ff90"/><stop offset="0.415" stop-color="#40ffb7"/><stop offset="0.626" stop-color="#14ffe3"/><stop offset="0.662" stop-color="#00e3f9"/><stop offset="0.678" stop-color="#00d7ff"/><stop offset="0.791" stop-color="#0084ff"/><stop offset="0.915" stop-color="#002eff"/><stop offset="0.977" stop-color="#00f"/><stop offset="1" stop-color="#0000fe"/></linearGradient><linearGradient id="b83" x1="0" y1="0" x2="0" y2="1"><stop offset="0" stop-color="#77ff80"/><stop offset="0.265" stop-color="#55ffa2"/><stop offset="0.425" stop-color="#2effc9"/><stop offset="0.549" stop-color="#13fee3"/><stop offset="0.631" stop-color="#00e2fa"/><stop offset="0.647" stop-color="#00d8ff"/><stop offset="0.905" stop-color="#002fff"/><stop offset="0.972" stop-color="#00f"/><stop offset="0.992" stop-color="#0000fd"/><stop offset="1" stop-color="#0000f9"/></linearGradient><linearGradient id="b84" x1="0" y1="0" x2="0" y2="1"><stop offset="0" stop-color="#63ff93"/><stop offset="0.265" stop-color="#44ffb3"/><stop offset="0.477" stop-color="#13fee3"/><stop offset="0.564" stop-color="#00e1fa"/><stop offset="0.601" stop-color="#00d5ff"/><stop offset="0.662" stop-color="#00b9ff"/><stop offset="0.781" stop-color="#007aff"/><stop offset="0.92" stop-color="#001fff"/><stop offset="0.966" stop-color="#00f"/><stop offset="0.987" stop-color="#0000fe"/><stop offset="1" stop-color="#0000f6"/></linearGradient><linearGradient id="b85" x1="0" y1="0" x2="0" y2="1"><stop offset="0" stop-color="#50ffa7"/><stop offset="0.265" stop-color="#33ffc4"/><stop offset="0.399" stop-color="#13fde4"/><stop offset="0.482" stop-color="#00e3f9"/><stop offset="0.523" stop-color="#00d6ff"/><stop offset="0.75" stop-color="#0082ff"/><stop offset="0.91" stop-color="#0021ff"/><stop offset="0.961" stop-color="#00f"/><stop offset="0.982" stop-color="#0000fe"/><stop offset="1" stop-color="#0000f2"/></linearGradient><linearGradient id="b86" x1="0" y1="0" x2="0" y2="1"><stop offset="0" stop-color="#3cffbb"/><stop offset="0.265" stop-color="#22ffd5"/><stop offset="0.322" stop-color="#13fde4"/><stop offset="0.405" stop-color="#00e3f9"/><stop offset="0.446" stop-color="#00d5ff"/><stop offset="0.668" stop-color="#008eff"/><stop offset="0.76" stop-color="#0073ff"/><stop offset="0.915" stop-color="#0019ff"/><stop offset="0.956" stop-color="#00f"/><stop offset="0.977" stop-color="#0000fe"/><stop offset="1" stop-color="#0000ef"/></linearGradient><linearGradient id="b87" x1="0" y1="0" x2="0" y2="1"><stop offset="0" stop-color="#28ffcf"/><stop offset="0.255" stop-color="#13fde4"/><stop offset="0.327" stop-color="#00e4f8"/><stop offset="0.363" stop-color="#00d7ff"/><stop offset="0.637" stop-color="#007eff"/><stop offset="0.76" stop-color="#006aff"/><stop offset="0.91" stop-color="#0017ff"/><stop offset="0.946" stop-color="#00f"/><stop offset="0.972" stop-color="#0000fe"/><stop offset="1" stop-color="#0000ec"/></linearGradient><linearGradient id="b88" x1="0" y1="0" x2="0" y2="1"><stop offset="0" stop-color="#14fee3"/><stop offset="0.235" stop-color="#00e4f8"/><stop offset="0.291" stop-color="#00d5ff"/><stop offset="0.528" stop-color="#0089ff"/><stop offset="0.652" stop-color="#006fff"/><stop offset="0.76" stop-color="#0060ff"/><stop offset="0.91" stop-color="#0012ff"/><stop offset="0.941" stop-color="#00f"/><stop offset="0.966" stop-color="#0000fe"/><stop offset="1" stop-color="#0000e8"/></linearGradient><linearGradient id="b89" x1="0" y1="0" x2="0" y2="1"><stop offset="0" stop-color="#00e3f9"/><stop offset="0.08" stop-color="#00d8ff"/><stop offset="0.26" stop-color="#00c3ff"/><stop offset="0.523" stop-color="#07f"/><stop offset="0.657" stop-color="#0062ff"/><stop offset="0.76" stop-color="#0057ff"/><stop offset="0.905" stop-color="#0010ff"/><stop offset="0.936" stop-color="#00f"/><stop offset="0.961" stop-color="#0000fd"/><stop offset="1" stop-color="#0000e5"/></linearGradient><linearGradient id="b90" x1="0" y1="0" x2="0" y2="1"><stop offset="0" stop-color="#00c7ff"/><stop offset="0.265" stop-color="#00a5ff"/><stop offset="0.399" stop-color="#0083ff"/><stop offset="0.642" stop-color="#0056ff"/><stop offset="0.76" stop-color="#004dff"/><stop offset="0.905" stop-color="#000aff"/><stop offset="0.93" stop-color="#00f"/><stop offset="0.951" stop-color="#00f"/><stop offset="1" stop-color="#0000e2"/></linearGradient><linearGradient id="b91" x1="0" y1="0" x2="0" y2="1"><stop offset="0" stop-color="#00abff"/><stop offset="0.302" stop-color="#0084ff"/><stop offset="0.534" stop-color="#005fff"/><stop offset="0.637" stop-color="#0049ff"/><stop offset="0.76" stop-color="#0043ff"/><stop offset="0.905" stop-color="#0005ff"/><stop offset="0.92" stop-color="#00f"/><stop offset="0.946" stop-color="#0000fd"/><stop offset="1" stop-color="#0000df"/></linearGradient><linearGradient id="b92" x1="0" y1="0" x2="0" y2="1"><stop offset="0" stop-color="#0090ff"/><stop offset="0.162" stop-color="#007eff"/><stop offset="0.338" stop-color="#0070ff"/><stop offset="0.518" stop-color="#0058ff"/><stop offset="0.631" stop-color="#003cff"/><stop offset="0.76" stop-color="#003aff"/><stop offset="0.91" stop-color="#00f"/><stop offset="0.941" stop-color="#0000fc"/><stop offset="1" stop-color="#0000db"/></linearGradient><linearGradient id="b93" x1="0" y1="0" x2="0" y2="1"><stop offset="0" stop-color="#007aff"/><stop offset="0.322" stop-color="#06f"/><stop offset="0.513" stop-color="#004fff"/><stop offset="0.631" stop-color="#002eff"/><stop offset="0.76" stop-color="#0030ff"/><stop offset="0.899" stop-color="#00f"/><stop offset="0.93" stop-color="#0000fc"/><stop offset="1" stop-color="#0000d8"/></linearGradient><linearGradient id="b94" x1="0" y1="0" x2="0" y2="1"><stop offset="0" stop-color="#006dff"/><stop offset="0.332" stop-color="#0059ff"/><stop offset="0.518" stop-color="#04f"/><stop offset="0.631" stop-color="#0027ff"/><stop offset="0.76" stop-color="#0027ff"/><stop offset="0.889" stop-color="#00f"/><stop offset="0.92" stop-color="#0000fc"/><stop offset="1" stop-color="#0000d5"/></linearGradient><linearGradient id="b95" x1="0" y1="0" x2="0" y2="1"><stop offset="0" stop-color="#0060ff"/><stop offset="0.358" stop-color="#004bff"/><stop offset="0.518" stop-color="#003aff"/><stop offset="0.637" stop-color="#0021ff"/><stop offset="0.76" stop-color="#001dff"/><stop offset="0.869" stop-color="#00f"/><stop offset="0.905" stop-color="#0000fe"/><stop offset="1" stop-color="#0000d1"/></linearGradient><linearGradient id="b96" x1="0" y1="0" x2="0" y2="1"><stop offset="0" stop-color="#0053ff"/><stop offset="0.384" stop-color="#003eff"/><stop offset="0.528" stop-color="#002eff"/><stop offset="0.637" stop-color="#001aff"/><stop offset="0.76" stop-color="#0018ff"/><stop offset="0.853" stop-color="#00f"/><stop offset="0.899" stop-color="#0000fd"/><stop offset="1" stop-color="#0000ce"/></linearGradient><linearGradient id="b97" x1="0" y1="0" x2="0" y2="1"><stop offset="0" stop-color="#0047ff"/><stop offset="0.425" stop-color="#002fff"/><stop offset="0.539" stop-color="#0023ff"/><stop offset="0.642" stop-color="#0014ff"/><stop offset="0.765" stop-color="#01f"/><stop offset="0.843" stop-color="#00f"/><stop offset="0.889" stop-color="#0000fe"/><stop offset="1" stop-color="#0000cb"/></linearGradient><linearGradient id="b98" x1="0" y1="0" x2="0" y2="1"><stop offset="0" stop-color="#003aff"/><stop offset="0.487" stop-color="#0020ff"/><stop offset="0.642" stop-color="#000dff"/><stop offset="0.765" stop-color="#000cff"/><stop offset="0.827" stop-color="#00f"/><stop offset="0.884" stop-color="#0000fd"/><stop offset="1" stop-color="#0000c8"/></linearGradient><linearGradient id="b99" x1="0" y1="0" x2="0" y2="1"><stop offset="0" stop-color="#002dff"/><stop offset="0.518" stop-color="#0013ff"/><stop offset="0.647" stop-color="#0007ff"/><stop offset="0.765" stop-color="#0007ff"/><stop offset="0.812" stop-color="#00f"/><stop offset="0.874" stop-color="#0000fc"/><stop offset="1" stop-color="#0000c6"/></linearGradient><linearGradient id="b100" x1="0" y1="0" x2="0" y2="1"><stop offset="0" stop-color="#0020ff"/><stop offset="0.549" stop-color="#0006ff"/><stop offset="0.652" stop-color="#0001ff"/><stop offset="0.765" stop-color="#0002ff"/><stop offset="0.858" stop-color="#0000fc"/><stop offset="0.915" stop-color="#0000e8"/><stop offset="1" stop-color="#0000c4"/></linearGradient><linearGradient id="b101" x1="0" y1="0" x2="0" y2="1"><stop offset="0" stop-color="#0013ff"/><stop offset="0.575" stop-color="#00f"/><stop offset="0.838" stop-color="#0000fd"/><stop offset="0.894" stop-color="#0000ed"/><stop offset="1" stop-color="#0000c2"/></linearGradient><linearGradient id="b102" x1="0" y1="0" x2="0" y2="1"><stop offset="0" stop-color="#0006ff"/><stop offset="0.209" stop-color="#00f"/><stop offset="0.812" stop-color="#0000fd"/><stop offset="0.894" stop-color="#0000e9"/><stop offset="1" stop-color="#0000c1"/></linearGradient><linearGradient id="b103" x1="0" y1="0" x2="0" y2="1"><stop offset="0" stop-color="#00f"/><stop offset="0.786" stop-color="#0000fd"/><stop offset="0.894" stop-color="#0000e6"/><stop offset="1" stop-color="#0000bf"/></linearGradient><linearGradient id="b104" x1="0" y1="0" x2="0" y2="1"><stop offset="0" stop-color="#00f"/><stop offset="0.575" stop-color="#0000fc"/><stop offset="0.678" stop-color="#0000fb"/><stop offset="0.765" stop-color="#0000fb"/><stop offset="0.889" stop-color="#0000e4"/><stop offset="1" stop-color="#0000bd"/></linearGradient><linearGradient id="b105" x1="0" y1="0" x2="0" y2="1"><stop offset="0" stop-color="#0000fc"/><stop offset="0.168" stop-color="#0000fa"/><stop offset="0.348" stop-color="#0000fe"/><stop offset="0.559" stop-color="#0000f8"/><stop offset="0.662" stop-color="#0000f5"/><stop offset="0.771" stop-color="#0000f5"/><stop offset="0.889" stop-color="#0000e0"/><stop offset="1" stop-color="#00b"/></linearGradient><linearGradient id="b106" x1="0" y1="0" x2="0" y2="1"><stop offset="0" stop-color="#0000f4"/><stop offset="0.157" stop-color="#0000f2"/><stop offset="0.302" stop-color="#0000f8"/><stop offset="0.544" stop-color="#0000f4"/><stop offset="0.657" stop-color="#0000ef"/><stop offset="0.771" stop-color="#0000ef"/><stop offset="0.889" stop-color="#00d"/><stop offset="1" stop-color="#0000b9"/></linearGradient><linearGradient id="b107" x1="0" y1="0" x2="0" y2="1"><stop offset="0" stop-color="#0000ec"/><stop offset="0.147" stop-color="#0000ea"/><stop offset="0.286" stop-color="#0000f3"/><stop offset="0.539" stop-color="#0000ef"/><stop offset="0.657" stop-color="#0000e9"/><stop offset="0.771" stop-color="#0000e9"/><stop offset="0.889" stop-color="#0000d9"/><stop offset="1" stop-color="#0000b7"/></linearGradient><linearGradient id="b108" x1="0" y1="0" x2="0" y2="1"><stop offset="0" stop-color="#0000e4"/><stop offset="0.147" stop-color="#0000e3"/><stop offset="0.276" stop-color="#0000ed"/><stop offset="0.534" stop-color="#0000ea"/><stop offset="0.652" stop-color="#0000e3"/><stop offset="0.771" stop-color="#0000e5"/><stop offset="0.894" stop-color="#0000d4"/><stop offset="1" stop-color="#0000b6"/></linearGradient><linearGradient id="b109" x1="0" y1="0" x2="0" y2="1"><stop offset="0" stop-color="#0000dc"/><stop offset="0.147" stop-color="#0000dc"/><stop offset="0.276" stop-color="#0000e8"/><stop offset="0.544" stop-color="#0000e5"/><stop offset="0.657" stop-color="#0000e0"/><stop offset="0.771" stop-color="#0000e1"/><stop offset="0.894" stop-color="#0000d0"/><stop offset="1" stop-color="#0000b4"/></linearGradient><linearGradient id="b110" x1="0" y1="0" x2="0" y2="1"><stop offset="0" stop-color="#0000d7"/><stop offset="0.147" stop-color="#0000d8"/><stop offset="0.276" stop-color="#0000e3"/><stop offset="0.549" stop-color="#0000e1"/><stop offset="0.668" stop-color="#00d"/><stop offset="0.776" stop-color="#00d"/><stop offset="0.899" stop-color="#0000cb"/><stop offset="1" stop-color="#0000b2"/></linearGradient><linearGradient id="b111" x1="0" y1="0" x2="0" y2="1"><stop offset="0" stop-color="#0000d2"/><stop offset="0.147" stop-color="#0000d3"/><stop offset="0.276" stop-color="#0000df"/><stop offset="0.554" stop-color="#00d"/><stop offset="0.678" stop-color="#0000da"/><stop offset="0.776" stop-color="#0000da"/><stop offset="0.905" stop-color="#0000c6"/><stop offset="1" stop-color="#0000b0"/></linearGradient><linearGradient id="b112" x1="0" y1="0" x2="0" y2="1"><stop offset="0" stop-color="#0000cd"/><stop offset="0.147" stop-color="#0000cf"/><stop offset="0.276" stop-color="#0000db"/><stop offset="0.564" stop-color="#0000d9"/><stop offset="0.714" stop-color="#0000d8"/><stop offset="0.781" stop-color="#0000d6"/><stop offset="0.91" stop-color="#0000c2"/><stop offset="1" stop-color="#0000ae"/></linearGradient><linearGradient id="b113" x1="0" y1="0" x2="0" y2="1"><stop offset="0" stop-color="#0000c8"/><stop offset="0.147" stop-color="#0000ca"/><stop offset="0.276" stop-color="#0000d6"/><stop offset="0.585" stop-color="#0000d4"/><stop offset="0.771" stop-color="#0000d3"/><stop offset="0.925" stop-color="#00b"/><stop offset="1" stop-color="#0000ac"/></linearGradient><linearGradient id="b114" x1="0" y1="0" x2="0" y2="1"><stop offset="0" stop-color="#0000c3"/><stop offset="0.147" stop-color="#0000c5"/><stop offset="0.271" stop-color="#0000d2"/><stop offset="0.611" stop-color="#0000d0"/><stop offset="0.776" stop-color="#0000d0"/><stop offset="0.92" stop-color="#0000ba"/><stop offset="1" stop-color="#0000ab"/></linearGradient><linearGradient id="b115" x1="0" y1="0" x2="0" y2="1"><stop offset="0" stop-color="#0000be"/><stop offset="0.147" stop-color="#0000c1"/><stop offset="0.271" stop-color="#0000ce"/><stop offset="0.776" stop-color="#00c"/><stop offset="0.915" stop-color="#0000b9"/><stop offset="1" stop-color="#0000a9"/></linearGradient><linearGradient id="b116" x1="0" y1="0" x2="0" y2="1"><stop offset="0" stop-color="#0000b8"/><stop offset="0.147" stop-color="#00b"/><stop offset="0.271" stop-color="#0000c7"/><stop offset="0.776" stop-color="#0000c8"/><stop offset="0.915" stop-color="#0000b6"/><stop offset="1" stop-color="#0000a6"/></linearGradient><linearGradient id="b117" x1="0" y1="0" x2="0" y2="1"><stop offset="0" stop-color="#0000b1"/><stop offset="0.152" stop-color="#0000b4"/><stop offset="0.276" stop-color="#0000c0"/><stop offset="0.781" stop-color="#0000c1"/><stop offset="0.91" stop-color="#0000b3"/><stop offset="1" stop-color="#0000a3"/></linearGradient><linearGradient id="b118" x1="0" y1="0" x2="0" y2="1"><stop offset="0" stop-color="#0000ab"/><stop offset="0.152" stop-color="#0000ae"/><stop offset="0.286" stop-color="#0000b9"/><stop offset="0.755" stop-color="#0000bc"/><stop offset="0.91" stop-color="#0000af"/><stop offset="1" stop-color="#0000a1"/></linearGradient><linearGradient id="b119" x1="0" y1="0" x2="0" y2="1"><stop offset="0" stop-color="#0000a4"/><stop offset="0.152" stop-color="#0000a7"/><stop offset="0.302" stop-color="#0000b3"/><stop offset="0.673" stop-color="#0000b7"/><stop offset="0.905" stop-color="#0000ac"/><stop offset="1" stop-color="#0000a0"/></linearGradient><linearGradient id="b120" x1="0" y1="0" x2="0" y2="1"><stop offset="0" stop-color="#0000a0"/><stop offset="0.168" stop-color="#0000a3"/><stop offset="0.425" stop-color="#0000b0"/><stop offset="0.771" stop-color="#0000af"/><stop offset="0.925" stop-color="#0000a6"/><stop offset="1" stop-color="#00009e"/></linearGradient><linearGradient id="b121" x1="0" y1="0" x2="0" y2="1"><stop offset="0" stop-color="#00009c"/><stop offset="0.178" stop-color="#0000a0"/><stop offset="0.513" stop-color="#0000ac"/><stop offset="0.899" stop-color="#0000a5"/><stop offset="1" stop-color="#00009c"/></linearGradient><linearGradient id="b122" x1="0" y1="0" x2="0" y2="1"><stop offset="0" stop-color="#009"/><stop offset="0.183" stop-color="#00009d"/><stop offset="0.595" stop-color="#0000a8"/><stop offset="0.956" stop-color="#00009d"/><stop offset="1" stop-color="#00009b"/></linearGradient><linearGradient id="b123" x1="0" y1="0" x2="0" y2="1"><stop offset="0" stop-color="#000096"/><stop offset="0.193" stop-color="#00009a"/><stop offset="0.673" stop-color="#0000a2"/><stop offset="1" stop-color="#009"/></linearGradient><linearGradient id="b124" x1="0" y1="0" x2="0" y2="1"><stop offset="0" stop-color="#000093"/><stop offset="0.209" stop-color="#000097"/><stop offset="0.668" stop-color="#00009d"/><stop offset="1" stop-color="#000098"/></linearGradient>
<linearGradient id="c0" x1="0" y1="0" x2="0" y2="1"><stop offset="0" stop-color="#b0ff47"/><stop offset="0.178" stop-color="#63ff94"/><stop offset="0.317" stop-color="#27ffcf"/><stop offset="0.358" stop-color="#14ffe2"/><stop offset="0.405" stop-color="#00e4f8"/><stop offset="0.425" stop-color="#00d8ff"/><stop offset="0.807" stop-color="#0001ff"/><stop offset="0.853" stop-color="#0000fd"/><stop offset="0.961" stop-color="#0000dc"/><stop offset="1" stop-color="#0000d2"/></linearGradient><linearGradient id="c1" x1="0" y1="0" x2="0" y2="1"><stop offset="0" stop-color="#afff48"/><stop offset="0.188" stop-color="#5eff98"/><stop offset="0.358" stop-color="#14ffe2"/><stop offset="0.405" stop-color="#00e4f8"/><stop offset="0.425" stop-color="#00d8ff"/><stop offset="0.771" stop-color="#0014ff"/><stop offset="0.812" stop-color="#00f"/><stop offset="0.858" stop-color="#0000fc"/><stop offset="1" stop-color="#0000d3"/></linearGradient><linearGradient id="c2" x1="0" y1="0" x2="0" y2="1"><stop offset="0" stop-color="#aeff48"/><stop offset="0.204" stop-color="#58ff9f"/><stop offset="0.358" stop-color="#14ffe2"/><stop offset="0.405" stop-color="#00e4f8"/><stop offset="0.425" stop-color="#00d8ff"/><stop offset="0.75" stop-color="#001fff"/><stop offset="0.812" stop-color="#00f"/><stop offset="0.858" stop-color="#0000fd"/><stop offset="1" stop-color="#0000d3"/></linearGradient><linearGradient id="c3" x1="0" y1="0" x2="0" y2="1"><stop offset="0" stop-color="#aeff49"/><stop offset="0.235" stop-color="#4bffab"/><stop offset="0.358" stop-color="#14ffe3"/><stop offset="0.405" stop-color="#00e4f8"/><stop offset="0.425" stop-color="#00d8ff"/><stop offset="0.714" stop-color="#0032ff"/><stop offset="0.817" stop-color="#00f"/><stop offset="0.858" stop-color="#0000fd"/><stop offset="0.972" stop-color="#0000db"/><stop offset="1" stop-color="#0000d4"/></linearGradient><linearGradient id="c4" x1="0" y1="0" x2="0" y2="1"><stop offset="0" stop-color="#adff49"/><stop offset="0.358" stop-color="#14ffe3"/><stop offset="0.405" stop-color="#00e4f8"/><stop offset="0.425" stop-color="#00d7ff"/><stop offset="0.693" stop-color="#003dff"/><stop offset="0.812" stop-color="#0002ff"/><stop offset="0.858" stop-color="#0000fe"/><stop offset="0.951" stop-color="#0000e1"/><stop offset="1" stop-color="#0000d5"/></linearGradient><linearGradient id="c5" x1="0" y1="0" x2="0" y2="1"><stop offset="0" stop-color="#adff4a"/><stop offset="0.358" stop-color="#14fee3"/><stop offset="0.405" stop-color="#00e3f8"/><stop offset="0.425" stop-color="#00d7ff"/><stop offset="0.678" stop-color="#0045ff"/><stop offset="0.807" stop-color="#0005ff"/><stop offset="0.832" stop-color="#00f"/><stop offset="0.863" stop-color="#0000fc"/><stop offset="1" stop-color="#0000d5"/></linearGradient><linearGradient id="c6" x1="0" y1="0" x2="0" y2="1"><stop offset="0" stop-color="#acff4b"/><stop offset="0.358" stop-color="#14fee3"/><stop offset="0.405" stop-color="#00e3f9"/><stop offset="0.425" stop-color="#00d7ff"/><stop offset="0.673" stop-color="#0048ff"/><stop offset="0.796" stop-color="#000aff"/><stop offset="0.827" stop-color="#00f"/><stop offset="0.863" stop-color="#0000fd"/><stop offset="1" stop-color="#0000d6"/></linearGradient><linearGradient id="c7" x1="0" y1="0" x2="0" y2="1"><stop offset="0" stop-color="#acff4b"/><stop offset="0.358" stop-color="#14fee3"/><stop offset="0.405" stop-color="#00e3f9"/><stop offset="0.425" stop-color="#00d7ff"/><stop offset="0.668" stop-color="#004aff"/><stop offset="0.791" stop-color="#000dff"/><stop offset="0.827" stop-color="#00f"/><stop offset="0.863" stop-color="#0000fd"/><stop offset="1" stop-color="#0000d7"/></linearGradient><linearGradient id="c8" x1="0" y1="0" x2="0" y2="1"><stop offset="0" stop-color="#aeff48"/><stop offset="0.358" stop-color="#14fee3"/><stop offset="0.405" stop-color="#00e3f9"/><stop offset="0.425" stop-color="#00d6ff"/><stop offset="0.642" stop-color="#0059ff"/><stop offset="0.796" stop-color="#000cff"/><stop offset="0.827" stop-color="#00f"/><stop offset="0.863" stop-color="#0000fe"/><stop offset="1" stop-color="#0000d7"/></linearGradient><linearGradient id="c9" x1="0" y1="0" x2="0" y2="1"><stop offset="0" stop-color="#b1ff46"/><stop offset="0.214" stop-color="#52ffa5"/><stop offset="0.358" stop-color="#14fee3"/><stop offset="0.405" stop-color="#00e3f9"/><stop offset="0.425" stop-color="#00d6ff"/><stop offset="0.57" stop-color="#0082ff"/><stop offset="0.802" stop-color="#000aff"/><stop offset="0.832" stop-color="#00f"/><stop offset="0.869" stop-color="#0000fc"/><stop offset="1" stop-color="#0000d8"/></linearGradient><linearGradient id="c10" x1="0" y1="0" x2="0" y2="1"><stop offset="0" stop-color="#b3ff43"/><stop offset="0.255" stop-color="#41ffb6"/><stop offset="0.363" stop-color="#13fde3"/><stop offset="0.41" stop-color="#00e2fa"/><stop offset="0.425" stop-color="#00d8ff"/><stop offset="0.544" stop-color="#0092ff"/><stop offset="0.812" stop-color="#0007ff"/><stop offset="0.832" stop-color="#00f"/><stop offset="0.869" stop-color="#0000fc"/><stop offset="1" stop-color="#0000d9"/></linearGradient><linearGradient id="c11" x1="0" y1="0" x2="0" y2="1"><stop offset="0" stop-color="#b6ff41"/><stop offset="0.322" stop-color="#27ffd0"/><stop offset="0.369" stop-color="#14fee3"/><stop offset="0.415" stop-color="#00e1fa"/><stop offset="0.436" stop-color="#00d4ff"/><stop offset="0.539" stop-color="#0096ff"/><stop offset="0.827" stop-color="#0001ff"/><stop offset="0.869" stop-color="#0000fd"/><stop offset="1" stop-color="#0000d9"/></linearGradient><linearGradient id="c12" x1="0" y1="0" x2="0" y2="1"><stop offset="0" stop-color="#b8ff3e"/><stop offset="0.302" stop-color="#32ffc5"/><stop offset="0.374" stop-color="#15ffe2"/><stop offset="0.415" stop-color="#00e4f8"/><stop offset="0.436" stop-color="#00d7ff"/><stop offset="0.528" stop-color="#009eff"/><stop offset="0.827" stop-color="#0002ff"/><stop offset="0.869" stop-color="#0000fe"/><stop offset="1" stop-color="#0000da"/></linearGradient><linearGradient id="c13" x1="0" y1="0" x2="0" y2="1"><stop offset="0" stop-color="#bbff3c"/><stop offset="0.286" stop-color="#3affbd"/><stop offset="0.379" stop-color="#15ffe2"/><stop offset="0.42" stop-color="#00e4f8"/><stop offset="0.441" stop-color="#00d6ff"/><stop offset="0.528" stop-color="#009fff"/><stop offset="0.832" stop-color="#0001ff"/><stop offset="0.874" stop-color="#0000fd"/><stop offset="1" stop-color="#0000db"/></linearGradient><linearGradient id="c14" x1="0" y1="0" x2="0" y2="1"><stop offset="0" stop-color="#bdff39"/><stop offset="0.183" stop-color="#6bff8c"/><stop offset="0.281" stop-color="#3dffb9"/><stop offset="0.384" stop-color="#15ffe2"/><stop offset="0.425" stop-color="#00e3f9"/><stop offset="0.446" stop-color="#00d5ff"/><stop offset="0.523" stop-color="#00a4ff"/><stop offset="0.838" stop-color="#0001ff"/><stop offset="0.879" stop-color="#0000fd"/><stop offset="1" stop-color="#0000dc"/></linearGradient><linearGradient id="c15" x1="0" y1="0" x2="0" y2="1"><stop offset="0" stop-color="#c0ff37"/><stop offset="0.162" stop-color="#78ff7e"/><stop offset="0.271" stop-color="#43ffb4"/><stop offset="0.389" stop-color="#15ffe2"/><stop offset="0.43" stop-color="#00e3f9"/><stop offset="0.446" stop-color="#00d8ff"/><stop offset="0.518" stop-color="#00a9ff"/><stop offset="0.838" stop-color="#0003ff"/><stop offset="0.884" stop-color="#0000fd"/><stop offset="1" stop-color="#0000dc"/></linearGradient><linearGradient id="c16" x1="0" y1="0" x2="0" y2="1"><stop offset="0" stop-color="#c5ff32"/><stop offset="0.152" stop-color="#83ff73"/><stop offset="0.265" stop-color="#49ffad"/><stop offset="0.389" stop-color="#19ffde"/><stop offset="0.405" stop-color="#10fae7"/><stop offset="0.436" stop-color="#00e4f8"/><stop offset="0.456" stop-color="#00d6ff"/><stop offset="0.528" stop-color="#00a8ff"/><stop offset="0.843" stop-color="#0002ff"/><stop offset="0.889" stop-color="#0000fd"/><stop offset="1" stop-color="#00d"/></linearGradient><linearGradient id="c17" x1="0" y1="0" x2="0" y2="1"><stop offset="0" stop-color="#c9ff2e"/><stop offset="0.147" stop-color="#8cff6b"/><stop offset="0.265" stop-color="#4effa9"/><stop offset="0.389" stop-color="#1dffda"/><stop offset="0.41" stop-color="#11fbe6"/><stop offset="0.446" stop-color="#00e2fa"/><stop offset="0.461" stop-color="#00d8ff"/><stop offset="0.549" stop-color="#00a1ff"/><stop offset="0.838" stop-color="#0006ff"/><stop offset="0.858" stop-color="#00f"/><stop offset="0.899" stop-color="#0000fb"/><stop offset="1" stop-color="#0000de"/></linearGradient><linearGradient id="c18" x1="0" y1="0" x2="0" y2="1"><stop offset="0" stop-color="#cdff29"/><stop offset="0.142" stop-color="#94ff63"/><stop offset="0.265" stop-color="#52ffa5"/><stop offset="0.389" stop-color="#20ffd6"/><stop offset="0.415" stop-color="#12fce5"/><stop offset="0.451" stop-color="#00e4f8"/><stop offset="0.472" stop-color="#00d6ff"/><stop offset="0.657" stop-color="#0069ff"/><stop offset="0.843" stop-color="#0004ff"/><stop offset="0.863" stop-color="#00f"/><stop offset="0.899" stop-color="#0000fc"/><stop offset="1" stop-color="#0000de"/></linearGradient><linearGradient id="c19" x1="0" y1="0" x2="0" y2="1"><stop offset="0" stop-color="#d2ff25"/><stop offset="0.137" stop-color="#9dff5a"/><stop offset="0.265" stop-color="#56ffa1"/><stop offset="0.394" stop-color="#21ffd6"/><stop offset="0.42" stop-color="#13fde3"/><stop offset="0.461" stop-color="#00e2fa"/><stop offset="0.477" stop-color="#00d7ff"/><stop offset="0.693" stop-color="#0058ff"/><stop offset="0.838" stop-color="#0008ff"/><stop offset="0.863" stop-color="#00f"/><stop offset="0.905" stop-color="#0000fc"/><stop offset="1" stop-color="#0000df"/></linearGradient><linearGradient id="c20" x1="0" y1="0" x2="0" y2="1"><stop offset="0" stop-color="#d6ff21"/><stop offset="0.137" stop-color="#a2ff54"/><stop offset="0.265" stop-color="#5aff9c"/><stop offset="0.394" stop-color="#25ffd2"/><stop offset="0.425" stop-color="#14ffe2"/><stop offset="0.466" stop-color="#00e3f8"/><stop offset="0.487" stop-color="#00d6ff"/><stop offset="0.693" stop-color="#005bff"/><stop offset="0.832" stop-color="#000cff"/><stop offset="0.863" stop-color="#00f"/><stop offset="0.905" stop-color="#0000fd"/><stop offset="1" stop-color="#0000df"/></linearGradient><linearGradient id="c21" x1="0" y1="0" x2="0" y2="1"><stop offset="0" stop-color="#daff1d"/><stop offset="0.137" stop-color="#a7ff50"/><stop offset="0.265" stop-color="#5eff99"/><stop offset="0.394" stop-color="#28ffce"/><stop offset="0.436" stop-color="#13fde4"/><stop offset="0.477" stop-color="#00e1fa"/><stop offset="0.497" stop-color="#00d4ff"/><stop offset="0.693" stop-color="#005eff"/><stop offset="0.832" stop-color="#000dff"/><stop offset="0.863" stop-color="#00f"/><stop offset="0.91" stop-color="#0000fc"/><stop offset="1" stop-color="#0000e0"/></linearGradient><linearGradient id="c22" x1="0" y1="0" x2="0" y2="1"><stop offset="0" stop-color="#ddff19"/><stop offset="0.137" stop-color="#acff4b"/><stop offset="0.265" stop-color="#62ff95"/><stop offset="0.399" stop-color="#2affcd"/><stop offset="0.441" stop-color="#14fee3"/><stop offset="0.482" stop-color="#00e4f8"/><stop offset="0.503" stop-color="#00d6ff"/><stop offset="0.678" stop-color="#0069ff"/><stop offset="0.827" stop-color="#01f"/><stop offset="0.869" stop-color="#00f"/><stop offset="0.91" stop-color="#0000fd"/><stop offset="1" stop-color="#0000e0"/></linearGradient><linearGradient id="c23" x1="0" y1="0" x2="0" y2="1"><stop offset="0" stop-color="#e1ff16"/><stop offset="0.137" stop-color="#b0ff47"/><stop offset="0.265" stop-color="#66ff91"/><stop offset="0.399" stop-color="#2effc9"/><stop offset="0.451" stop-color="#13fde4"/><stop offset="0.492" stop-color="#00e2f9"/><stop offset="0.508" stop-color="#00d8ff"/><stop offset="0.668" stop-color="#0072ff"/><stop offset="0.802" stop-color="#001fff"/><stop offset="0.869" stop-color="#00f"/><stop offset="0.915" stop-color="#0000fc"/><stop offset="1" stop-color="#0000e0"/></linearGradient><linearGradient id="c24" x1="0" y1="0" x2="0" y2="1"><stop offset="0" stop-color="#e5ff12"/><stop offset="0.131" stop-color="#b7ff40"/><stop offset="0.26" stop-color="#6cff8b"/><stop offset="0.399" stop-color="#32ffc5"/><stop offset="0.456" stop-color="#15ffe2"/><stop offset="0.497" stop-color="#00e5f8"/><stop offset="0.518" stop-color="#00d7ff"/><stop offset="0.662" stop-color="#0078ff"/><stop offset="0.796" stop-color="#0024ff"/><stop offset="0.869" stop-color="#00f"/><stop offset="0.915" stop-color="#0000fd"/><stop offset="1" stop-color="#0000e1"/></linearGradient><linearGradient id="c25" x1="0" y1="0" x2="0" y2="1"><stop offset="0" stop-color="#e8ff0f"/><stop offset="0.131" stop-color="#bcff3b"/><stop offset="0.26" stop-color="#6fff87"/><stop offset="0.399" stop-color="#36ffc1"/><stop offset="0.466" stop-color="#14fee3"/><stop offset="0.508" stop-color="#00e3f9"/><stop offset="0.523" stop-color="#00d8ff"/><stop offset="0.657" stop-color="#007dff"/><stop offset="0.791" stop-color="#0029ff"/><stop offset="0.863" stop-color="#0002ff"/><stop offset="0.915" stop-color="#0000fe"/><stop offset="1" stop-color="#0000e1"/></linearGradient><linearGradient id="c26" x1="0" y1="0" x2="0" y2="1"><stop offset="0" stop-color="#ecff0b"/><stop offset="0.131" stop-color="#c0ff37"/><stop offset="0.26" stop-color="#73ff83"/><stop offset="0.399" stop-color="#3affbd"/><stop offset="0.477" stop-color="#13fde4"/><stop offset="0.518" stop-color="#00e1fa"/><stop offset="0.539" stop-color="#00d2ff"/><stop offset="0.657" stop-color="#0080ff"/><stop offset="0.786" stop-color="#002eff"/><stop offset="0.832" stop-color="#0012ff"/><stop offset="0.874" stop-color="#00f"/><stop offset="0.92" stop-color="#0000fd"/><stop offset="1" stop-color="#0000e1"/></linearGradient><linearGradient id="c27" x1="0" y1="0" x2="0" y2="1"><stop offset="0" stop-color="#f0fd07"/><stop offset="0.131" stop-color="#c3ff34"/><stop offset="0.26" stop-color="#76ff81"/><stop offset="0.399" stop-color="#3dffba"/><stop offset="0.482" stop-color="#13fee3"/><stop offset="0.523" stop-color="#00e1fa"/><stop offset="0.544" stop-color="#00d2ff"/><stop offset="0.652" stop-color="#0085ff"/><stop offset="0.786" stop-color="#002fff"/><stop offset="0.832" stop-color="#0013ff"/><stop offset="0.874" stop-color="#00f"/><stop offset="0.92" stop-color="#0000fd"/><stop offset="1" stop-color="#0000e2"/></linearGradient><linearGradient id="c28" x1="0" y1="0" x2="0" y2="1"><stop offset="0" stop-color="#f5f802"/><stop offset="0.023" stop-color="#ecff0b"/><stop offset="0.131" stop-color="#c5ff31"/><stop offset="0.26" stop-color="#78ff7f"/><stop offset="0.399" stop-color="#3fffb8"/><stop offset="0.487" stop-color="#13fde4"/><stop offset="0.523" stop-color="#00e4f8"/><stop offset="0.539" stop-color="#00d8ff"/><stop offset="0.652" stop-color="#0087ff"/><stop offset="0.781" stop-color="#03f"/><stop offset="0.822" stop-color="#0018ff"/><stop offset="0.874" stop-color="#00f"/><stop offset="0.92" stop-color="#0000fe"/><stop offset="1" stop-color="#0000e2"/></linearGradient><linearGradient id="c29" x1="0" y1="0" x2="0" y2="1"><stop offset="0" stop-color="#faf200"/><stop offset="0.034" stop-color="#ecff0a"/><stop offset="0.137" stop-color="#c5ff32"/><stop offset="0.265" stop-color="#79ff7d"/><stop offset="0.405" stop-color="#3fffb8"/><stop offset="0.492" stop-color="#13fde4"/><stop offset="0.528" stop-color="#00e2f9"/><stop offset="0.544" stop-color="#00d7ff"/><stop offset="0.647" stop-color="#008bff"/><stop offset="0.781" stop-color="#0034ff"/><stop offset="0.822" stop-color="#0019ff"/><stop offset="0.874" stop-color="#00f"/><stop offset="0.925" stop-color="#0000fc"/><stop offset="1" stop-color="#0000e2"/></linearGradient><linearGradient id="c30" x1="0" y1="0" x2="0" y2="1"><stop offset="0" stop-color="#ffec00"/><stop offset="0.028" stop-color="#f3fa04"/><stop offset="0.049" stop-color="#ebff0c"/><stop offset="0.137" stop-color="#c7ff30"/><stop offset="0.265" stop-color="#7dff7a"/><stop offset="0.41" stop-color="#3effb9"/><stop offset="0.492" stop-color="#15ffe2"/><stop offset="0.528" stop-color="#00e5f7"/><stop offset="0.544" stop-color="#00d9ff"/><stop offset="0.647" stop-color="#008dff"/><stop offset="0.781" stop-color="#0034ff"/><stop offset="0.822" stop-color="#0019ff"/><stop offset="0.874" stop-color="#00f"/><stop offset="0.925" stop-color="#0000fc"/><stop offset="1" stop-color="#0000e2"/></linearGradient><linearGradient id="c31" x1="0" y1="0" x2="0" y2="1"><stop offset="0" stop-color="#ffe700"/><stop offset="0.023" stop-color="#faf200"/><stop offset="0.054" stop-color="#edff0a"/><stop offset="0.142" stop-color="#c6ff30"/><stop offset="0.265" stop-color="#80ff77"/><stop offset="0.42" stop-color="#3bffbc"/><stop offset="0.497" stop-color="#15ffe2"/><stop offset="0.534" stop-color="#00e3f9"/><stop offset="0.549" stop-color="#00d7ff"/><stop offset="0.647" stop-color="#008eff"/><stop offset="0.781" stop-color="#0035ff"/><stop offset="0.822" stop-color="#001aff"/><stop offset="0.879" stop-color="#00f"/><stop offset="0.925" stop-color="#0000fd"/><stop offset="1" stop-color="#0000e2"/></linearGradient><linearGradient id="c32" x1="0" y1="0" x2="0" y2="1"><stop offset="0" stop-color="#ffe100"/><stop offset="0.028" stop-color="#fcef00"/><stop offset="0.054" stop-color="#f1fc05"/><stop offset="0.101" stop-color="#ddff19"/><stop offset="0.173" stop-color="#b7ff40"/><stop offset="0.271" stop-color="#81ff76"/><stop offset="0.425" stop-color="#3bffbc"/><stop offset="0.503" stop-color="#14fee3"/><stop offset="0.539" stop-color="#00e2fa"/><stop offset="0.554" stop-color="#00d6ff"/><stop offset="0.647" stop-color="#0090ff"/><stop offset="0.776" stop-color="#003aff"/><stop offset="0.817" stop-color="#001dff"/><stop offset="0.879" stop-color="#00f"/><stop offset="0.925" stop-color="#0000fd"/><stop offset="1" stop-color="#0000e3"/></linearGradient><linearGradient id="c33" x1="0" y1="0" x2="0" y2="1"><stop offset="0" stop-color="#ffdb00"/><stop offset="0.039" stop-color="#fcef00"/><stop offset="0.064" stop-color="#f1fc06"/><stop offset="0.152" stop-color="#c6ff31"/><stop offset="0.271" stop-color="#85ff72"/><stop offset="0.42" stop-color="#41ffb6"/><stop offset="0.508" stop-color="#14fee3"/><stop offset="0.539" stop-color="#00e5f7"/><stop offset="0.554" stop-color="#00d9ff"/><stop offset="0.642" stop-color="#0095ff"/><stop offset="0.765" stop-color="#04f"/><stop offset="0.817" stop-color="#001eff"/><stop offset="0.879" stop-color="#00f"/><stop offset="0.925" stop-color="#0000fd"/><stop offset="1" stop-color="#0000e3"/></linearGradient><linearGradient id="c34" x1="0" y1="0" x2="0" y2="1"><stop offset="0" stop-color="#ffd500"/><stop offset="0.049" stop-color="#fcf000"/><stop offset="0.07" stop-color="#f2fb05"/><stop offset="0.09" stop-color="#e8ff0e"/><stop offset="0.229" stop-color="#9dff5a"/><stop offset="0.348" stop-color="#67ff90"/><stop offset="0.513" stop-color="#13fde4"/><stop offset="0.544" stop-color="#00e4f8"/><stop offset="0.559" stop-color="#00d7ff"/><stop offset="0.642" stop-color="#0097ff"/><stop offset="0.765" stop-color="#0045ff"/><stop offset="0.812" stop-color="#0021ff"/><stop offset="0.879" stop-color="#00f"/><stop offset="0.93" stop-color="#0000fc"/><stop offset="1" stop-color="#0000e3"/></linearGradient><linearGradient id="c35" x1="0" y1="0" x2="0" y2="1"><stop offset="0" stop-color="#ffd000"/><stop offset="0.054" stop-color="#feee00"/><stop offset="0.075" stop-color="#f3f903"/><stop offset="0.09" stop-color="#ecff0b"/><stop offset="0.276" stop-color="#89ff6d"/><stop offset="0.41" stop-color="#4dffaa"/><stop offset="0.513" stop-color="#16ffe1"/><stop offset="0.549" stop-color="#00e2f9"/><stop offset="0.564" stop-color="#00d6ff"/><stop offset="0.637" stop-color="#009cff"/><stop offset="0.76" stop-color="#004bff"/><stop offset="0.812" stop-color="#0021ff"/><stop offset="0.879" stop-color="#00f"/><stop offset="0.93" stop-color="#0000fc"/><stop offset="1" stop-color="#0000e3"/></linearGradient><linearGradient id="c36" x1="0" y1="0" x2="0" y2="1"><stop offset="0" stop-color="#ffca00"/><stop offset="0.064" stop-color="#fcef00"/><stop offset="0.085" stop-color="#f2fb05"/><stop offset="0.116" stop-color="#e2ff15"/><stop offset="0.271" stop-color="#8fff68"/><stop offset="0.405" stop-color="#53ffa4"/><stop offset="0.518" stop-color="#15ffe2"/><stop offset="0.549" stop-color="#00e5f7"/><stop offset="0.564" stop-color="#00d8ff"/><stop offset="0.637" stop-color="#009eff"/><stop offset="0.76" stop-color="#004dff"/><stop offset="0.812" stop-color="#0023ff"/><stop offset="0.884" stop-color="#00f"/><stop offset="0.93" stop-color="#0000fd"/><stop offset="1" stop-color="#0000e4"/></linearGradient><linearGradient id="c37" x1="0" y1="0" x2="0" y2="1"><stop offset="0" stop-color="#ffc400"/><stop offset="0.07" stop-color="#feee00"/><stop offset="0.09" stop-color="#f2fa04"/><stop offset="0.111" stop-color="#e7ff0f"/><stop offset="0.276" stop-color="#90ff67"/><stop offset="0.405" stop-color="#57ffa0"/><stop offset="0.518" stop-color="#17ffdf"/><stop offset="0.534" stop-color="#0df5ea"/><stop offset="0.554" stop-color="#00e4f8"/><stop offset="0.57" stop-color="#00d6ff"/><stop offset="0.637" stop-color="#00a0ff"/><stop offset="0.76" stop-color="#0050ff"/><stop offset="0.812" stop-color="#0025ff"/><stop offset="0.884" stop-color="#00f"/><stop offset="0.936" stop-color="#0000fc"/><stop offset="1" stop-color="#0000e5"/></linearGradient><linearGradient id="c38" x1="0" y1="0" x2="0" y2="1"><stop offset="0" stop-color="#ffbf00"/><stop offset="0.075" stop-color="#feed00"/><stop offset="0.095" stop-color="#f3fa04"/><stop offset="0.111" stop-color="#eaff0d"/><stop offset="0.276" stop-color="#94ff63"/><stop offset="0.399" stop-color="#5dff9a"/><stop offset="0.518" stop-color="#1affdd"/><stop offset="0.534" stop-color="#0ff8e8"/><stop offset="0.559" stop-color="#00e2fa"/><stop offset="0.575" stop-color="#00d4ff"/><stop offset="0.637" stop-color="#00a2ff"/><stop offset="0.76" stop-color="#0052ff"/><stop offset="0.812" stop-color="#0026ff"/><stop offset="0.884" stop-color="#0001ff"/><stop offset="0.936" stop-color="#0000fd"/><stop offset="1" stop-color="#0000e5"/></linearGradient><linearGradient id="c39" x1="0" y1="0" x2="0" y2="1"><stop offset="0" stop-color="#ffb800"/><stop offset="0.085" stop-color="#feed00"/><stop offset="0.106" stop-color="#f3fa04"/><stop offset="0.126" stop-color="#e7ff10"/><stop offset="0.271" stop-color="#99ff5d"/><stop offset="0.399" stop-color="#60ff97"/><stop offset="0.513" stop-color="#20ffd7"/><stop offset="0.528" stop-color="#15ffe2"/><stop offset="0.559" stop-color="#00e5f8"/><stop offset="0.575" stop-color="#00d7ff"/><stop offset="0.637" stop-color="#00a4ff"/><stop offset="0.76" stop-color="#0054ff"/><stop offset="0.812" stop-color="#0028ff"/><stop offset="0.889" stop-color="#00f"/><stop offset="0.941" stop-color="#0000fc"/><stop offset="1" stop-color="#0000e6"/></linearGradient><linearGradient id="c40" x1="0" y1="0" x2="0" y2="1"><stop offset="0" stop-color="#ffb100"/><stop offset="0.095" stop-color="#feed00"/><stop offset="0.116" stop-color="#f2fb05"/><stop offset="0.137" stop-color="#e6ff10"/><stop offset="0.271" stop-color="#9dff5a"/><stop offset="0.399" stop-color="#64ff93"/><stop offset="0.513" stop-color="#23ffd4"/><stop offset="0.534" stop-color="#14fee3"/><stop offset="0.564" stop-color="#00e3f9"/><stop offset="0.58" stop-color="#00d5ff"/><stop offset="0.631" stop-color="#00a9ff"/><stop offset="0.76" stop-color="#0056ff"/><stop offset="0.812" stop-color="#002aff"/><stop offset="0.889" stop-color="#0001ff"/><stop offset="0.941" stop-color="#0000fd"/><stop offset="1" stop-color="#0000e7"/></linearGradient><linearGradient id="c41" x1="0" y1="0" x2="0" y2="1"><stop offset="0" stop-color="#fa0"/><stop offset="0.106" stop-color="#feee00"/><stop offset="0.121" stop-color="#f5f802"/><stop offset="0.137" stop-color="#ecff0b"/><stop offset="0.265" stop-color="#a2ff54"/><stop offset="0.394" stop-color="#6aff8d"/><stop offset="0.513" stop-color="#26ffd1"/><stop offset="0.539" stop-color="#13fde4"/><stop offset="0.564" stop-color="#00e5f7"/><stop offset="0.58" stop-color="#00d7ff"/><stop offset="0.631" stop-color="#00abff"/><stop offset="0.755" stop-color="#005dff"/><stop offset="0.812" stop-color="#002cff"/><stop offset="0.889" stop-color="#0002ff"/><stop offset="0.946" stop-color="#0000fc"/><stop offset="1" stop-color="#0000e7"/></linearGradient><linearGradient id="c42" x1="0" y1="0" x2="0" y2="1"><stop offset="0" stop-color="#ffa400"/><stop offset="0.116" stop-color="#fdee00"/><stop offset="0.131" stop-color="#f4f903"/><stop offset="0.147" stop-color="#ebff0c"/><stop offset="0.265" stop-color="#a6ff51"/><stop offset="0.394" stop-color="#6dff89"/><stop offset="0.513" stop-color="#28ffcf"/><stop offset="0.539" stop-color="#15ffe2"/><stop offset="0.57" stop-color="#00e3f9"/><stop offset="0.585" stop-color="#00d5ff"/><stop offset="0.631" stop-color="#00adff"/><stop offset="0.755" stop-color="#005fff"/><stop offset="0.812" stop-color="#002dff"/><stop offset="0.889" stop-color="#0003ff"/><stop offset="0.93" stop-color="#00f"/><stop offset="0.956" stop-color="#0000f9"/><stop offset="1" stop-color="#0000e8"/></linearGradient><linearGradient id="c43" x1="0" y1="0" x2="0" y2="1"><stop offset="0" stop-color="#ff9d00"/><stop offset="0.121" stop-color="#ffec00"/><stop offset="0.142" stop-color="#f3fa04"/><stop offset="0.162" stop-color="#e6ff11"/><stop offset="0.265" stop-color="#a9ff4d"/><stop offset="0.394" stop-color="#71ff86"/><stop offset="0.513" stop-color="#2bffcc"/><stop offset="0.544" stop-color="#14fee3"/><stop offset="0.57" stop-color="#00e6f7"/><stop offset="0.585" stop-color="#00d7ff"/><stop offset="0.631" stop-color="#00afff"/><stop offset="0.755" stop-color="#0061ff"/><stop offset="0.812" stop-color="#002fff"/><stop offset="0.889" stop-color="#0004ff"/><stop offset="0.925" stop-color="#00f"/><stop offset="0.951" stop-color="#0000fc"/><stop offset="1" stop-color="#0000e9"/></linearGradient><linearGradient id="c44" x1="0" y1="0" x2="0" y2="1"><stop offset="0" stop-color="#ff9600"/><stop offset="0.131" stop-color="#feed00"/><stop offset="0.147" stop-color="#f5f802"/><stop offset="0.162" stop-color="#ebff0c"/><stop offset="0.26" stop-color="#afff48"/><stop offset="0.389" stop-color="#78ff7f"/><stop offset="0.513" stop-color="#2dffc9"/><stop offset="0.544" stop-color="#16ffe1"/><stop offset="0.575" stop-color="#00e3f8"/><stop offset="0.59" stop-color="#00d5ff"/><stop offset="0.631" stop-color="#00b0ff"/><stop offset="0.755" stop-color="#0063ff"/><stop offset="0.812" stop-color="#0031ff"/><stop offset="0.889" stop-color="#0005ff"/><stop offset="0.915" stop-color="#00f"/><stop offset="0.951" stop-color="#0000fd"/><stop offset="1" stop-color="#0000ea"/></linearGradient><linearGradient id="c45" x1="0" y1="0" x2="0" y2="1"><stop offset="0" stop-color="#ff8f00"/><stop offset="0.142" stop-color="#fdee00"/><stop offset="0.157" stop-color="#f3fa04"/><stop offset="0.173" stop-color="#e9ff0e"/><stop offset="0.26" stop-color="#b3ff44"/><stop offset="0.389" stop-color="#7cff7b"/><stop offset="0.513" stop-color="#31ffc6"/><stop offset="0.549" stop-color="#15ffe2"/><stop offset="0.575" stop-color="#01e6f6"/><stop offset="0.59" stop-color="#00d7ff"/><stop offset="0.631" stop-color="#00b2ff"/><stop offset="0.755" stop-color="#0065ff"/><stop offset="0.812" stop-color="#0032ff"/><stop offset="0.889" stop-color="#0006ff"/><stop offset="0.92" stop-color="#00f"/><stop offset="0.956" stop-color="#0000fc"/><stop offset="1" stop-color="#0000ea"/></linearGradient><linearGradient id="c46" x1="0" y1="0" x2="0" y2="1"><stop offset="0" stop-color="#ff8900"/><stop offset="0.147" stop-color="#ffec00"/><stop offset="0.162" stop-color="#f5f802"/><stop offset="0.178" stop-color="#ebff0c"/><stop offset="0.26" stop-color="#b7ff3f"/><stop offset="0.389" stop-color="#80ff76"/><stop offset="0.513" stop-color="#35ffc2"/><stop offset="0.554" stop-color="#14fee3"/><stop offset="0.58" stop-color="#00e4f8"/><stop offset="0.595" stop-color="#00d5ff"/><stop offset="0.631" stop-color="#00b4ff"/><stop offset="0.755" stop-color="#0067ff"/><stop offset="0.812" stop-color="#0034ff"/><stop offset="0.889" stop-color="#0007ff"/><stop offset="0.92" stop-color="#00f"/><stop offset="0.956" stop-color="#0000fc"/><stop offset="1" stop-color="#0000eb"/></linearGradient><linearGradient id="c47" x1="0" y1="0" x2="0" y2="1"><stop offset="0" stop-color="#ff8100"/><stop offset="0.157" stop-color="#fdee00"/><stop offset="0.173" stop-color="#f3fa04"/><stop offset="0.188" stop-color="#e9ff0e"/><stop offset="0.26" stop-color="#bcff3b"/><stop offset="0.389" stop-color="#85ff72"/><stop offset="0.508" stop-color="#3dffba"/><stop offset="0.559" stop-color="#12fce4"/><stop offset="0.585" stop-color="#00e2fa"/><stop offset="0.601" stop-color="#00d2ff"/><stop offset="0.631" stop-color="#00b6ff"/><stop offset="0.755" stop-color="#0069ff"/><stop offset="0.812" stop-color="#0036ff"/><stop offset="0.884" stop-color="#000aff"/><stop offset="0.92" stop-color="#00f"/><stop offset="0.956" stop-color="#0000fd"/><stop offset="1" stop-color="#0000ec"/></linearGradient><linearGradient id="c48" x1="0" y1="0" x2="0" y2="1"><stop offset="0" stop-color="#ff7900"/><stop offset="0.162" stop-color="#ffec00"/><stop offset="0.178" stop-color="#f5f802"/><stop offset="0.193" stop-color="#ebff0c"/><stop offset="0.26" stop-color="#c0ff36"/><stop offset="0.389" stop-color="#89ff6e"/><stop offset="0.508" stop-color="#41ffb6"/><stop offset="0.559" stop-color="#15ffe1"/><stop offset="0.585" stop-color="#00e5f7"/><stop offset="0.595" stop-color="#00daff"/><stop offset="0.626" stop-color="#0bf"/><stop offset="0.755" stop-color="#006bff"/><stop offset="0.812" stop-color="#0038ff"/><stop offset="0.884" stop-color="#000cff"/><stop offset="0.92" stop-color="#00f"/><stop offset="0.961" stop-color="#0000fc"/><stop offset="1" stop-color="#0000ec"/></linearGradient><linearGradient id="c49" x1="0" y1="0" x2="0" y2="1"><stop offset="0" stop-color="#ff7100"/><stop offset="0.162" stop-color="#ffe600"/><stop offset="0.178" stop-color="#faf200"/><stop offset="0.193" stop-color="#f0fe07"/><stop offset="0.26" stop-color="#c5ff32"/><stop offset="0.389" stop-color="#8dff6a"/><stop offset="0.508" stop-color="#45ffb1"/><stop offset="0.564" stop-color="#15ffe1"/><stop offset="0.59" stop-color="#00e5f7"/><stop offset="0.601" stop-color="#00daff"/><stop offset="0.631" stop-color="#00bdff"/><stop offset="0.755" stop-color="#006eff"/><stop offset="0.812" stop-color="#0039ff"/><stop offset="0.884" stop-color="#000dff"/><stop offset="0.925" stop-color="#00f"/><stop offset="0.961" stop-color="#0000fd"/><stop offset="1" stop-color="#0000ed"/></linearGradient><linearGradient id="c50" x1="0" y1="0" x2="0" y2="1"><stop offset="0" stop-color="#ff6900"/><stop offset="0.131" stop-color="#ffc700"/><stop offset="0.178" stop-color="#ffec00"/><stop offset="0.193" stop-color="#f5f802"/><stop offset="0.209" stop-color="#eaff0c"/><stop offset="0.26" stop-color="#c9ff2d"/><stop offset="0.389" stop-color="#92ff65"/><stop offset="0.508" stop-color="#4affad"/><stop offset="0.57" stop-color="#15ffe2"/><stop offset="0.595" stop-color="#00e5f8"/><stop offset="0.611" stop-color="#00d4ff"/><stop offset="0.637" stop-color="#00bfff"/><stop offset="0.755" stop-color="#0071ff"/><stop offset="0.812" stop-color="#003bff"/><stop offset="0.884" stop-color="#000eff"/><stop offset="0.925" stop-color="#00f"/><stop offset="0.961" stop-color="#0000fe"/><stop offset="1" stop-color="#00e"/></linearGradient><linearGradient id="c51" x1="0" y1="0" x2="0" y2="1"><stop offset="0" stop-color="#ff6100"/><stop offset="0.111" stop-color="#ffb100"/><stop offset="0.188" stop-color="#feee00"/><stop offset="0.204" stop-color="#f3fa04"/><stop offset="0.219" stop-color="#e8ff0f"/><stop offset="0.26" stop-color="#ceff29"/><stop offset="0.389" stop-color="#96ff61"/><stop offset="0.508" stop-color="#4effa9"/><stop offset="0.575" stop-color="#15ffe2"/><stop offset="0.601" stop-color="#00e4f8"/><stop offset="0.616" stop-color="#00d4ff"/><stop offset="0.673" stop-color="#00acff"/><stop offset="0.755" stop-color="#0074ff"/><stop offset="0.812" stop-color="#003dff"/><stop offset="0.884" stop-color="#000fff"/><stop offset="0.925" stop-color="#00f"/><stop offset="0.966" stop-color="#0000fc"/><stop offset="1" stop-color="#0000ef"/></linearGradient><linearGradient id="c52" x1="0" y1="0" x2="0" y2="1"><stop offset="0" stop-color="#ff5900"/><stop offset="0.085" stop-color="#ff9600"/><stop offset="0.193" stop-color="#ffec00"/><stop offset="0.209" stop-color="#f4f802"/><stop offset="0.224" stop-color="#e9ff0d"/><stop offset="0.265" stop-color="#d0ff27"/><stop offset="0.389" stop-color="#9aff5d"/><stop offset="0.508" stop-color="#52ffa5"/><stop offset="0.58" stop-color="#15ffe2"/><stop offset="0.606" stop-color="#00e4f8"/><stop offset="0.621" stop-color="#00d4ff"/><stop offset="0.755" stop-color="#07f"/><stop offset="0.812" stop-color="#003eff"/><stop offset="0.884" stop-color="#0010ff"/><stop offset="0.93" stop-color="#00f"/><stop offset="0.966" stop-color="#0000fd"/><stop offset="1" stop-color="#0000ef"/></linearGradient><linearGradient id="c53" x1="0" y1="0" x2="0" y2="1"><stop offset="0" stop-color="#ff5100"/><stop offset="0.075" stop-color="#ff8600"/><stop offset="0.204" stop-color="#fdee00"/><stop offset="0.219" stop-color="#f2fb05"/><stop offset="0.229" stop-color="#ebff0c"/><stop offset="0.265" stop-color="#d5ff22"/><stop offset="0.389" stop-color="#9eff58"/><stop offset="0.508" stop-color="#57ffa0"/><stop offset="0.585" stop-color="#15ffe2"/><stop offset="0.611" stop-color="#00e4f8"/><stop offset="0.626" stop-color="#00d4ff"/><stop offset="0.755" stop-color="#007aff"/><stop offset="0.812" stop-color="#0040ff"/><stop offset="0.884" stop-color="#01f"/><stop offset="0.93" stop-color="#00f"/><stop offset="0.972" stop-color="#0000fc"/><stop offset="1" stop-color="#0000f0"/></linearGradient><linearGradient id="c54" x1="0" y1="0" x2="0" y2="1"><stop offset="0" stop-color="#ff4900"/><stop offset="0.064" stop-color="#ff7600"/><stop offset="0.209" stop-color="#feed00"/><stop offset="0.224" stop-color="#f3fa04"/><stop offset="0.235" stop-color="#ecff0b"/><stop offset="0.271" stop-color="#d7ff20"/><stop offset="0.389" stop-color="#a3ff54"/><stop offset="0.508" stop-color="#5bff9c"/><stop offset="0.59" stop-color="#14ffe2"/><stop offset="0.616" stop-color="#00e3f9"/><stop offset="0.631" stop-color="#00d6ff"/><stop offset="0.755" stop-color="#007dff"/><stop offset="0.812" stop-color="#0042ff"/><stop offset="0.884" stop-color="#0012ff"/><stop offset="0.936" stop-color="#00f"/><stop offset="0.972" stop-color="#0000fd"/><stop offset="1" stop-color="#0000f1"/></linearGradient><linearGradient id="c55" x1="0" y1="0" x2="0" y2="1"><stop offset="0" stop-color="#ff4100"/><stop offset="0.064" stop-color="#ff6f00"/><stop offset="0.214" stop-color="#ffeb00"/><stop offset="0.229" stop-color="#f5f802"/><stop offset="0.245" stop-color="#e9ff0e"/><stop offset="0.394" stop-color="#a4ff53"/><stop offset="0.508" stop-color="#5fff98"/><stop offset="0.595" stop-color="#14fee3"/><stop offset="0.621" stop-color="#00e3f9"/><stop offset="0.637" stop-color="#00d7ff"/><stop offset="0.755" stop-color="#0080ff"/><stop offset="0.812" stop-color="#04f"/><stop offset="0.884" stop-color="#0013ff"/><stop offset="0.936" stop-color="#00f"/><stop offset="0.972" stop-color="#0000fd"/><stop offset="1" stop-color="#0000f1"/></linearGradient><linearGradient id="c56" x1="0" y1="0" x2="0" y2="1"><stop offset="0" stop-color="#ff3800"/><stop offset="0.111" stop-color="#ff8e00"/><stop offset="0.224" stop-color="#ffed00"/><stop offset="0.24" stop-color="#f3f903"/><stop offset="0.255" stop-color="#e9ff0e"/><stop offset="0.394" stop-color="#a8ff4e"/><stop offset="0.508" stop-color="#64ff93"/><stop offset="0.601" stop-color="#14fee3"/><stop offset="0.626" stop-color="#00e3f8"/><stop offset="0.642" stop-color="#00d8ff"/><stop offset="0.755" stop-color="#0083ff"/><stop offset="0.812" stop-color="#0045ff"/><stop offset="0.884" stop-color="#0014ff"/><stop offset="0.936" stop-color="#00f"/><stop offset="0.977" stop-color="#0000fc"/><stop offset="1" stop-color="#0000f2"/></linearGradient><linearGradient id="c57" x1="0" y1="0" x2="0" y2="1"><stop offset="0" stop-color="#ff2f00"/><stop offset="0.209" stop-color="#ffd800"/><stop offset="0.235" stop-color="#feee00"/><stop offset="0.25" stop-color="#f2fb04"/><stop offset="0.271" stop-color="#e8ff0e"/><stop offset="0.394" stop-color="#adff4a"/><stop offset="0.508" stop-color="#68ff8f"/><stop offset="0.606" stop-color="#14fee3"/><stop offset="0.631" stop-color="#00e5f7"/><stop offset="0.652" stop-color="#00d5ff"/><stop offset="0.755" stop-color="#0086ff"/><stop offset="0.812" stop-color="#0047ff"/><stop offset="0.884" stop-color="#0015ff"/><stop offset="0.941" stop-color="#00f"/><stop offset="0.977" stop-color="#0000fd"/><stop offset="1" stop-color="#0000f3"/></linearGradient><linearGradient id="c58" x1="0" y1="0" x2="0" y2="1"><stop offset="0" stop-color="#ff2600"/><stop offset="0.168" stop-color="#ffac00"/><stop offset="0.245" stop-color="#fdef00"/><stop offset="0.271" stop-color="#efff08"/><stop offset="0.394" stop-color="#b2ff44"/><stop offset="0.508" stop-color="#6cff8b"/><stop offset="0.611" stop-color="#13fde4"/><stop offset="0.637" stop-color="#00e6f7"/><stop offset="0.657" stop-color="#00d6ff"/><stop offset="0.755" stop-color="#0089ff"/><stop offset="0.812" stop-color="#0049ff"/><stop offset="0.884" stop-color="#0016ff"/><stop offset="0.941" stop-color="#00f"/><stop offset="0.977" stop-color="#0000fd"/><stop offset="1" stop-color="#0000f3"/></linearGradient><linearGradient id="c59" x1="0" y1="0" x2="0" y2="1"><stop offset="0" stop-color="#ff1e00"/><stop offset="0.152" stop-color="#ff9500"/><stop offset="0.25" stop-color="#ffec00"/><stop offset="0.271" stop-color="#f5f802"/><stop offset="0.291" stop-color="#ebff0c"/><stop offset="0.405" stop-color="#b2ff45"/><stop offset="0.508" stop-color="#73ff84"/><stop offset="0.616" stop-color="#13fde4"/><stop offset="0.642" stop-color="#01e6f6"/><stop offset="0.662" stop-color="#00d6ff"/><stop offset="0.755" stop-color="#008dff"/><stop offset="0.812" stop-color="#004cff"/><stop offset="0.884" stop-color="#0019ff"/><stop offset="0.946" stop-color="#00f"/><stop offset="0.982" stop-color="#0000fc"/><stop offset="1" stop-color="#0000f4"/></linearGradient><linearGradient id="c60" x1="0" y1="0" x2="0" y2="1"><stop offset="0" stop-color="#ff1500"/><stop offset="0.09" stop-color="#ff5900"/><stop offset="0.152" stop-color="#ff8b00"/><stop offset="0.255" stop-color="#ffe800"/><stop offset="0.286" stop-color="#f4f903"/><stop offset="0.302" stop-color="#ecff0a"/><stop offset="0.415" stop-color="#b2ff45"/><stop offset="0.508" stop-color="#7aff7d"/><stop offset="0.616" stop-color="#17ffe0"/><stop offset="0.652" stop-color="#00e3f9"/><stop offset="0.668" stop-color="#00d7ff"/><stop offset="0.755" stop-color="#0090ff"/><stop offset="0.812" stop-color="#004fff"/><stop offset="0.884" stop-color="#001cff"/><stop offset="0.951" stop-color="#00f"/><stop offset="0.982" stop-color="#0000fd"/><stop offset="1" stop-color="#0000f5"/></linearGradient><linearGradient id="c61" x1="0" y1="0" x2="0" y2="1"><stop offset="0" stop-color="#f60c00"/><stop offset="0.013" stop-color="#ff1500"/><stop offset="0.08" stop-color="#ff4900"/><stop offset="0.142" stop-color="#ff7800"/><stop offset="0.255" stop-color="#ffe000"/><stop offset="0.281" stop-color="#fcef00"/><stop offset="0.302" stop-color="#f2fb04"/><stop offset="0.322" stop-color="#e8ff0f"/><stop offset="0.466" stop-color="#9bff5c"/><stop offset="0.508" stop-color="#80ff76"/><stop offset="0.621" stop-color="#16ffe1"/><stop offset="0.657" stop-color="#00e3f9"/><stop offset="0.673" stop-color="#00d7ff"/><stop offset="0.755" stop-color="#0094ff"/><stop offset="0.812" stop-color="#0053ff"/><stop offset="0.884" stop-color="#0020ff"/><stop offset="0.956" stop-color="#00f"/><stop offset="0.987" stop-color="#0000fd"/><stop offset="1" stop-color="#0000f7"/></linearGradient><linearGradient id="c62" x1="0" y1="0" x2="0" y2="1"><stop offset="0" stop-color="#e70000"/><stop offset="0.023" stop-color="#ff1400"/><stop offset="0.137" stop-color="#ff6a00"/><stop offset="0.255" stop-color="#ffd900"/><stop offset="0.291" stop-color="#feee00"/><stop offset="0.312" stop-color="#f3fa03"/><stop offset="0.327" stop-color="#ecff0b"/><stop offset="0.503" stop-color="#8cff6b"/><stop offset="0.626" stop-color="#15ffe2"/><stop offset="0.662" stop-color="#00e3f9"/><stop offset="0.678" stop-color="#00d7ff"/><stop offset="0.755" stop-color="#0098ff"/><stop offset="0.812" stop-color="#0056ff"/><stop offset="0.884" stop-color="#0023ff"/><stop offset="0.961" stop-color="#00f"/><stop offset="0.992" stop-color="#0000fd"/><stop offset="1" stop-color="#0000fa"/></linearGradient><linearGradient id="c63" x1="0" y1="0" x2="0" y2="1"><stop offset="0" stop-color="#d70000"/><stop offset="0.018" stop-color="#e90100"/><stop offset="0.039" stop-color="#ff1300"/><stop offset="0.137" stop-color="#ff6000"/><stop offset="0.255" stop-color="#ffd200"/><stop offset="0.302" stop-color="#feed00"/><stop offset="0.322" stop-color="#f4f903"/><stop offset="0.338" stop-color="#ecff0b"/><stop offset="0.503" stop-color="#93ff64"/><stop offset="0.626" stop-color="#19ffde"/><stop offset="0.642" stop-color="#0ff8e8"/><stop offset="0.668" stop-color="#00e4f8"/><stop offset="0.683" stop-color="#00d7ff"/><stop offset="0.755" stop-color="#009cff"/><stop offset="0.812" stop-color="#0059ff"/><stop offset="0.889" stop-color="#0023ff"/><stop offset="0.966" stop-color="#00f"/><stop offset="1" stop-color="#0000fc"/></linearGradient><linearGradient id="c64" x1="0" y1="0" x2="0" y2="1"><stop offset="0" stop-color="#c80000"/><stop offset="0.034" stop-color="#e80000"/><stop offset="0.059" stop-color="#ff1300"/><stop offset="0.137" stop-color="#ff4d00"/><stop offset="0.26" stop-color="#ffc300"/><stop offset="0.322" stop-color="#feed00"/><stop offset="0.343" stop-color="#f2fb05"/><stop offset="0.358" stop-color="#e9ff0e"/><stop offset="0.503" stop-color="#9aff5d"/><stop offset="0.626" stop-color="#1dffda"/><stop offset="0.642" stop-color="#13fde4"/><stop offset="0.673" stop-color="#00e4f8"/><stop offset="0.688" stop-color="#00d7ff"/><stop offset="0.755" stop-color="#009fff"/><stop offset="0.812" stop-color="#005cff"/><stop offset="0.889" stop-color="#0027ff"/><stop offset="0.966" stop-color="#00f"/><stop offset="1" stop-color="#0000fe"/></linearGradient><linearGradient id="c65" x1="0" y1="0" x2="0" y2="1"><stop offset="0" stop-color="#b80000"/><stop offset="0.049" stop-color="#e40000"/><stop offset="0.07" stop-color="#f50a00"/><stop offset="0.085" stop-color="#ff1500"/><stop offset="0.137" stop-color="#ff3a00"/><stop offset="0.26" stop-color="#ffb000"/><stop offset="0.343" stop-color="#fdef00"/><stop offset="0.358" stop-color="#f3fa04"/><stop offset="0.374" stop-color="#e8ff0e"/><stop offset="0.503" stop-color="#a1ff56"/><stop offset="0.626" stop-color="#22ffd5"/><stop offset="0.647" stop-color="#15ffe2"/><stop offset="0.683" stop-color="#00e2f9"/><stop offset="0.698" stop-color="#00d6ff"/><stop offset="0.755" stop-color="#00a6ff"/><stop offset="0.807" stop-color="#0063ff"/><stop offset="0.889" stop-color="#002aff"/><stop offset="0.972" stop-color="#00f"/><stop offset="1" stop-color="#00f"/></linearGradient><linearGradient id="c66" x1="0" y1="0" x2="0" y2="1"><stop offset="0" stop-color="#a90000"/><stop offset="0.044" stop-color="#ce0000"/><stop offset="0.08" stop-color="#e90100"/><stop offset="0.111" stop-color="#ff1400"/><stop offset="0.137" stop-color="#ff2700"/><stop offset="0.26" stop-color="#ff9e00"/><stop offset="0.363" stop-color="#ffec00"/><stop offset="0.384" stop-color="#f2fb05"/><stop offset="0.399" stop-color="#e8ff0e"/><stop offset="0.503" stop-color="#a8ff4f"/><stop offset="0.626" stop-color="#2cffca"/><stop offset="0.662" stop-color="#15ffe2"/><stop offset="0.698" stop-color="#00e2f9"/><stop offset="0.714" stop-color="#00d6ff"/><stop offset="0.75" stop-color="#00b9ff"/><stop offset="0.807" stop-color="#0067ff"/><stop offset="0.889" stop-color="#002dff"/><stop offset="0.977" stop-color="#00f"/><stop offset="1" stop-color="#00f"/></linearGradient><linearGradient id="c67" x1="0" y1="0" x2="0" y2="1"><stop offset="0" stop-color="#900"/><stop offset="0.049" stop-color="#c20000"/><stop offset="0.101" stop-color="#e90100"/><stop offset="0.131" stop-color="#ff1500"/><stop offset="0.265" stop-color="#ff8f00"/><stop offset="0.389" stop-color="#feed00"/><stop offset="0.405" stop-color="#f3fa03"/><stop offset="0.42" stop-color="#e9ff0e"/><stop offset="0.508" stop-color="#aaff4d"/><stop offset="0.631" stop-color="#33ffc3"/><stop offset="0.678" stop-color="#15ffe2"/><stop offset="0.714" stop-color="#00e3f9"/><stop offset="0.729" stop-color="#00d6ff"/><stop offset="0.75" stop-color="#00c6ff"/><stop offset="0.807" stop-color="#006aff"/><stop offset="0.889" stop-color="#0030ff"/><stop offset="0.982" stop-color="#00f"/><stop offset="1" stop-color="#00f"/></linearGradient><linearGradient id="c68" x1="0" y1="0" x2="0" y2="1"><stop offset="0" stop-color="#8e0000"/><stop offset="0.039" stop-color="#b20000"/><stop offset="0.111" stop-color="#e80100"/><stop offset="0.137" stop-color="#ff1400"/><stop offset="0.271" stop-color="#ff8900"/><stop offset="0.399" stop-color="#feed00"/><stop offset="0.415" stop-color="#f3fa04"/><stop offset="0.425" stop-color="#ebff0c"/><stop offset="0.508" stop-color="#adff4a"/><stop offset="0.631" stop-color="#39ffbe"/><stop offset="0.688" stop-color="#14fee3"/><stop offset="0.719" stop-color="#00e5f7"/><stop offset="0.735" stop-color="#00d9ff"/><stop offset="0.75" stop-color="#0cf"/><stop offset="0.807" stop-color="#006bff"/><stop offset="0.889" stop-color="#0031ff"/><stop offset="0.987" stop-color="#00f"/><stop offset="1" stop-color="#00f"/></linearGradient><linearGradient id="c69" x1="0" y1="0" x2="0" y2="1"><stop offset="0" stop-color="#830000"/><stop offset="0.039" stop-color="#a00"/><stop offset="0.111" stop-color="#e70000"/><stop offset="0.137" stop-color="#ff1400"/><stop offset="0.271" stop-color="#ff8900"/><stop offset="0.399" stop-color="#feed00"/><stop offset="0.415" stop-color="#f3fa04"/><stop offset="0.425" stop-color="#ebff0c"/><stop offset="0.508" stop-color="#adff4a"/><stop offset="0.631" stop-color="#39ffbe"/><stop offset="0.688" stop-color="#14fee3"/><stop offset="0.719" stop-color="#00e5f7"/><stop offset="0.735" stop-color="#00d9ff"/><stop offset="0.75" stop-color="#0cf"/><stop offset="0.807" stop-color="#006bff"/><stop offset="0.889" stop-color="#0032ff"/><stop offset="0.987" stop-color="#00f"/><stop offset="1" stop-color="#00f"/></linearGradient><linearGradient id="c70" x1="0" y1="0" x2="0" y2="1"><stop offset="0" stop-color="#830000"/><stop offset="0.039" stop-color="#a00"/><stop offset="0.111" stop-color="#e70000"/><stop offset="0.137" stop-color="#ff1400"/><stop offset="0.271" stop-color="#ff8900"/><stop offset="0.399" stop-color="#feed00"/><stop offset="0.415" stop-color="#f3fa04"/><stop offset="0.425" stop-color="#ebff0c"/><stop offset="0.508" stop-color="#adff4a"/><stop offset="0.631" stop-color="#39ffbe"/><stop offset="0.688" stop-color="#14fee3"/><stop offset="0.719" stop-color="#00e5f7"/><stop offset="0.735" stop-color="#00d9ff"/><stop offset="0.75" stop-color="#0cf"/><stop offset="0.807" stop-color="#006bff"/><stop offset="0.889" stop-color="#0031ff"/><stop offset="0.982" stop-color="#00f"/><stop offset="1" stop-color="#00f"/></linearGradient><linearGradient id="c71" x1="0" y1="0" x2="0" y2="1"><stop offset="0" stop-color="#9d0000"/><stop offset="0.034" stop-color="#be0000"/><stop offset="0.111" stop-color="#eb0300"/><stop offset="0.137" stop-color="#ff1400"/><stop offset="0.271" stop-color="#ff8900"/><stop offset="0.399" stop-color="#feed00"/><stop offset="0.415" stop-color="#f3fa04"/><stop offset="0.425" stop-color="#ebff0c"/><stop offset="0.508" stop-color="#adff4a"/><stop offset="0.631" stop-color="#39ffbe"/><stop offset="0.688" stop-color="#14fee3"/><stop offset="0.719" stop-color="#00e5f7"/><stop offset="0.735" stop-color="#00d9ff"/><stop offset="0.75" stop-color="#0cf"/><stop offset="0.807" stop-color="#006bff"/><stop offset="0.894" stop-color="#002eff"/><stop offset="0.977" stop-color="#00f"/><stop offset="1" stop-color="#00f"/></linearGradient><linearGradient id="c72" x1="0" y1="0" x2="0" y2="1"><stop offset="0" stop-color="#d10000"/><stop offset="0.023" stop-color="#e70000"/><stop offset="0.059" stop-color="#fe1200"/><stop offset="0.131" stop-color="#ff3500"/><stop offset="0.307" stop-color="#ffb800"/><stop offset="0.379" stop-color="#ffeb00"/><stop offset="0.394" stop-color="#f5f802"/><stop offset="0.41" stop-color="#eaff0d"/><stop offset="0.513" stop-color="#9eff59"/><stop offset="0.631" stop-color="#33ffc4"/><stop offset="0.678" stop-color="#15ffe2"/><stop offset="0.714" stop-color="#00e2f9"/><stop offset="0.729" stop-color="#00d6ff"/><stop offset="0.75" stop-color="#00c5ff"/><stop offset="0.807" stop-color="#0069ff"/><stop offset="0.894" stop-color="#002bff"/><stop offset="0.977" stop-color="#00f"/><stop offset="1" stop-color="#00f"/></linearGradient><linearGradient id="c73" x1="0" y1="0" x2="0" y2="1"><stop offset="0" stop-color="#ff1700"/><stop offset="0.039" stop-color="#ff3000"/><stop offset="0.137" stop-color="#ff5d00"/><stop offset="0.358" stop-color="#ffed00"/><stop offset="0.379" stop-color="#f3fa04"/><stop offset="0.394" stop-color="#e8ff0f"/><stop offset="0.513" stop-color="#94ff63"/><stop offset="0.631" stop-color="#2dffca"/><stop offset="0.668" stop-color="#15ffe1"/><stop offset="0.704" stop-color="#00e4f8"/><stop offset="0.719" stop-color="#00d7ff"/><stop offset="0.75" stop-color="#00bfff"/><stop offset="0.807" stop-color="#06f"/><stop offset="0.889" stop-color="#002bff"/><stop offset="0.972" stop-color="#00f"/><stop offset="1" stop-color="#00f"/></linearGradient><linearGradient id="c74" x1="0" y1="0" x2="0" y2="1"><stop offset="0" stop-color="#ff3f00"/><stop offset="0.039" stop-color="#ff5600"/><stop offset="0.142" stop-color="#ff8000"/><stop offset="0.332" stop-color="#feed00"/><stop offset="0.353" stop-color="#f3fa04"/><stop offset="0.369" stop-color="#ebff0c"/><stop offset="0.513" stop-color="#8aff6d"/><stop offset="0.631" stop-color="#27ffd0"/><stop offset="0.662" stop-color="#13fde4"/><stop offset="0.693" stop-color="#00e5f7"/><stop offset="0.709" stop-color="#00d8ff"/><stop offset="0.75" stop-color="#00b8ff"/><stop offset="0.807" stop-color="#0063ff"/><stop offset="0.889" stop-color="#0029ff"/><stop offset="0.966" stop-color="#00f"/><stop offset="1" stop-color="#0000fc"/></linearGradient><linearGradient id="c75" x1="0" y1="0" x2="0" y2="1"><stop offset="0" stop-color="#f60"/><stop offset="0.039" stop-color="#ff7c00"/><stop offset="0.147" stop-color="#ffa100"/><stop offset="0.291" stop-color="#ffe700"/><stop offset="0.312" stop-color="#faf200"/><stop offset="0.338" stop-color="#eeff09"/><stop offset="0.399" stop-color="#ccff2b"/><stop offset="0.513" stop-color="#80ff77"/><stop offset="0.637" stop-color="#1dffd9"/><stop offset="0.652" stop-color="#14fee3"/><stop offset="0.683" stop-color="#00e6f7"/><stop offset="0.704" stop-color="#00d6ff"/><stop offset="0.75" stop-color="#00b1ff"/><stop offset="0.807" stop-color="#0060ff"/><stop offset="0.889" stop-color="#0026ff"/><stop offset="0.961" stop-color="#00f"/><stop offset="0.992" stop-color="#0000fd"/><stop offset="1" stop-color="#0000fa"/></linearGradient><linearGradient id="c76" x1="0" y1="0" x2="0" y2="1"><stop offset="0" stop-color="#ff8b00"/><stop offset="0.034" stop-color="#ff9d00"/><stop offset="0.137" stop-color="#ffb400"/><stop offset="0.271" stop-color="#fdee00"/><stop offset="0.296" stop-color="#f2fb05"/><stop offset="0.322" stop-color="#e7ff10"/><stop offset="0.389" stop-color="#c8ff2f"/><stop offset="0.518" stop-color="#72ff85"/><stop offset="0.642" stop-color="#14fee3"/><stop offset="0.678" stop-color="#00e3f9"/><stop offset="0.693" stop-color="#00d7ff"/><stop offset="0.75" stop-color="#00abff"/><stop offset="0.807" stop-color="#005dff"/><stop offset="0.889" stop-color="#0023ff"/><stop offset="0.956" stop-color="#00f"/><stop offset="0.987" stop-color="#0000fe"/><stop offset="1" stop-color="#0000f8"/></linearGradient><linearGradient id="c77" x1="0" y1="0" x2="0" y2="1"><stop offset="0" stop-color="#ffa500"/><stop offset="0.039" stop-color="#ffb500"/><stop offset="0.137" stop-color="#ffcb00"/><stop offset="0.224" stop-color="#fdee00"/><stop offset="0.255" stop-color="#f2fb04"/><stop offset="0.276" stop-color="#ebff0c"/><stop offset="0.384" stop-color="#c0ff37"/><stop offset="0.534" stop-color="#5cff9b"/><stop offset="0.631" stop-color="#15ffe2"/><stop offset="0.668" stop-color="#00e3f9"/><stop offset="0.683" stop-color="#00d7ff"/><stop offset="0.75" stop-color="#00a4ff"/><stop offset="0.807" stop-color="#005aff"/><stop offset="0.889" stop-color="#0020ff"/><stop offset="0.956" stop-color="#00f"/><stop offset="0.987" stop-color="#0000fb"/><stop offset="1" stop-color="#0000f5"/></linearGradient><linearGradient id="c78" x1="0" y1="0" x2="0" y2="1"><stop offset="0" stop-color="#ffbf00"/><stop offset="0.044" stop-color="#ffce00"/><stop offset="0.142" stop-color="#ffe400"/><stop offset="0.173" stop-color="#fcf000"/><stop offset="0.204" stop-color="#f2fb05"/><stop offset="0.229" stop-color="#e9ff0d"/><stop offset="0.379" stop-color="#b8ff3e"/><stop offset="0.621" stop-color="#14fee3"/><stop offset="0.657" stop-color="#00e3f9"/><stop offset="0.673" stop-color="#00d7ff"/><stop offset="0.755" stop-color="#0097ff"/><stop offset="0.812" stop-color="#0053ff"/><stop offset="0.889" stop-color="#001eff"/><stop offset="0.951" stop-color="#00f"/><stop offset="0.982" stop-color="#0000fc"/><stop offset="1" stop-color="#0000f3"/></linearGradient><linearGradient id="c79" x1="0" y1="0" x2="0" y2="1"><stop offset="0" stop-color="#ffd900"/><stop offset="0.08" stop-color="#ffed00"/><stop offset="0.137" stop-color="#f4f903"/><stop offset="0.168" stop-color="#ebff0c"/><stop offset="0.379" stop-color="#acff4b"/><stop offset="0.601" stop-color="#15ffe2"/><stop offset="0.637" stop-color="#00e3f9"/><stop offset="0.657" stop-color="#00d5ff"/><stop offset="0.755" stop-color="#0091ff"/><stop offset="0.812" stop-color="#0051ff"/><stop offset="0.889" stop-color="#001bff"/><stop offset="0.946" stop-color="#00f"/><stop offset="0.977" stop-color="#0000fd"/><stop offset="1" stop-color="#0000f1"/></linearGradient><linearGradient id="c80" x1="0" y1="0" x2="0" y2="1"><stop offset="0" stop-color="#f9f300"/><stop offset="0.064" stop-color="#edff0a"/><stop offset="0.193" stop-color="#d1ff26"/><stop offset="0.379" stop-color="#9dff59"/><stop offset="0.585" stop-color="#13fde4"/><stop offset="0.616" stop-color="#00e2f9"/><stop offset="0.631" stop-color="#00d7ff"/><stop offset="0.755" stop-color="#008aff"/><stop offset="0.812" stop-color="#004eff"/><stop offset="0.889" stop-color="#0018ff"/><stop offset="0.941" stop-color="#00f"/><stop offset="0.972" stop-color="#0000fd"/><stop offset="1" stop-color="#0000ef"/></linearGradient><linearGradient id="c81" x1="0" y1="0" x2="0" y2="1"><stop offset="0" stop-color="#e2ff15"/><stop offset="0.152" stop-color="#cbff2c"/><stop offset="0.379" stop-color="#8fff68"/><stop offset="0.564" stop-color="#15ffe2"/><stop offset="0.595" stop-color="#00e4f8"/><stop offset="0.611" stop-color="#00d7ff"/><stop offset="0.647" stop-color="#00c0ff"/><stop offset="0.755" stop-color="#0084ff"/><stop offset="0.812" stop-color="#004bff"/><stop offset="0.889" stop-color="#0015ff"/><stop offset="0.936" stop-color="#00f"/><stop offset="0.966" stop-color="#0000fe"/><stop offset="1" stop-color="#0000ed"/></linearGradient><linearGradient id="c82" x1="0" y1="0" x2="0" y2="1"><stop offset="0" stop-color="#d1ff25"/><stop offset="0.152" stop-color="#bbff3c"/><stop offset="0.379" stop-color="#81ff76"/><stop offset="0.549" stop-color="#13fce4"/><stop offset="0.575" stop-color="#01e6f6"/><stop offset="0.59" stop-color="#00d9ff"/><stop offset="0.631" stop-color="#00b8ff"/><stop offset="0.75" stop-color="#0082ff"/><stop offset="0.817" stop-color="#04f"/><stop offset="0.889" stop-color="#0013ff"/><stop offset="0.93" stop-color="#00f"/><stop offset="0.966" stop-color="#0000fc"/><stop offset="1" stop-color="#0000eb"/></linearGradient><linearGradient id="c83" x1="0" y1="0" x2="0" y2="1"><stop offset="0" stop-color="#c1ff36"/><stop offset="0.157" stop-color="#a9ff4e"/><stop offset="0.379" stop-color="#72ff85"/><stop offset="0.528" stop-color="#14fee3"/><stop offset="0.559" stop-color="#00e4f8"/><stop offset="0.575" stop-color="#00d6ff"/><stop offset="0.626" stop-color="#00abff"/><stop offset="0.75" stop-color="#007bff"/><stop offset="0.817" stop-color="#003fff"/><stop offset="0.889" stop-color="#0010ff"/><stop offset="0.925" stop-color="#00f"/><stop offset="0.961" stop-color="#0000fc"/><stop offset="1" stop-color="#0000e9"/></linearGradient><linearGradient id="c84" x1="0" y1="0" x2="0" y2="1"><stop offset="0" stop-color="#b0ff47"/><stop offset="0.157" stop-color="#99ff5e"/><stop offset="0.379" stop-color="#63ff94"/><stop offset="0.508" stop-color="#15ffe1"/><stop offset="0.539" stop-color="#00e5f7"/><stop offset="0.554" stop-color="#00d8ff"/><stop offset="0.626" stop-color="#009bff"/><stop offset="0.75" stop-color="#0073ff"/><stop offset="0.817" stop-color="#003aff"/><stop offset="0.889" stop-color="#000dff"/><stop offset="0.92" stop-color="#00f"/><stop offset="0.956" stop-color="#0000fc"/><stop offset="1" stop-color="#0000e7"/></linearGradient><linearGradient id="c85" x1="0" y1="0" x2="0" y2="1"><stop offset="0" stop-color="#a0ff57"/><stop offset="0.157" stop-color="#88ff6f"/><stop offset="0.379" stop-color="#54ffa3"/><stop offset="0.487" stop-color="#13fee3"/><stop offset="0.518" stop-color="#00e5f7"/><stop offset="0.534" stop-color="#00d8ff"/><stop offset="0.626" stop-color="#008cff"/><stop offset="0.75" stop-color="#006cff"/><stop offset="0.817" stop-color="#0036ff"/><stop offset="0.894" stop-color="#0008ff"/><stop offset="0.92" stop-color="#00f"/><stop offset="0.951" stop-color="#0000fc"/><stop offset="1" stop-color="#0000e5"/></linearGradient><linearGradient id="c86" x1="0" y1="0" x2="0" y2="1"><stop offset="0" stop-color="#8fff68"/><stop offset="0.157" stop-color="#77ff7f"/><stop offset="0.379" stop-color="#45ffb2"/><stop offset="0.456" stop-color="#15ffe1"/><stop offset="0.492" stop-color="#00e5f7"/><stop offset="0.508" stop-color="#00d9ff"/><stop offset="0.626" stop-color="#007eff"/><stop offset="0.75" stop-color="#0065ff"/><stop offset="0.822" stop-color="#002eff"/><stop offset="0.899" stop-color="#0003ff"/><stop offset="0.946" stop-color="#0000fc"/><stop offset="1" stop-color="#0000e3"/></linearGradient><linearGradient id="c87" x1="0" y1="0" x2="0" y2="1"><stop offset="0" stop-color="#7eff78"/><stop offset="0.183" stop-color="#60ff97"/><stop offset="0.379" stop-color="#35ffc1"/><stop offset="0.43" stop-color="#15ffe2"/><stop offset="0.466" stop-color="#00e4f8"/><stop offset="0.482" stop-color="#00d8ff"/><stop offset="0.626" stop-color="#0076ff"/><stop offset="0.75" stop-color="#005dff"/><stop offset="0.822" stop-color="#0029ff"/><stop offset="0.899" stop-color="#00f"/><stop offset="0.941" stop-color="#0000fc"/><stop offset="1" stop-color="#0000e0"/></linearGradient><linearGradient id="c88" x1="0" y1="0" x2="0" y2="1"><stop offset="0" stop-color="#6bff8c"/><stop offset="0.209" stop-color="#49ffae"/><stop offset="0.379" stop-color="#26ffd1"/><stop offset="0.41" stop-color="#12fce4"/><stop offset="0.441" stop-color="#00e4f8"/><stop offset="0.456" stop-color="#00d7ff"/><stop offset="0.513" stop-color="#00adff"/><stop offset="0.626" stop-color="#006fff"/><stop offset="0.755" stop-color="#0052ff"/><stop offset="0.827" stop-color="#02f"/><stop offset="0.894" stop-color="#00f"/><stop offset="0.936" stop-color="#0000fc"/><stop offset="1" stop-color="#0000de"/></linearGradient><linearGradient id="c89" x1="0" y1="0" x2="0" y2="1"><stop offset="0" stop-color="#57ffa0"/><stop offset="0.245" stop-color="#31ffc6"/><stop offset="0.379" stop-color="#17ffe0"/><stop offset="0.405" stop-color="#06edf1"/><stop offset="0.42" stop-color="#00e0fb"/><stop offset="0.441" stop-color="#00cfff"/><stop offset="0.503" stop-color="#009eff"/><stop offset="0.631" stop-color="#0067ff"/><stop offset="0.755" stop-color="#004bff"/><stop offset="0.827" stop-color="#001eff"/><stop offset="0.889" stop-color="#00f"/><stop offset="0.93" stop-color="#0000fc"/><stop offset="1" stop-color="#0000dc"/></linearGradient><linearGradient id="c90" x1="0" y1="0" x2="0" y2="1"><stop offset="0" stop-color="#43ffb4"/><stop offset="0.271" stop-color="#1bffdc"/><stop offset="0.317" stop-color="#12fce5"/><stop offset="0.379" stop-color="#05ebf2"/><stop offset="0.399" stop-color="#00dbff"/><stop offset="0.503" stop-color="#0089ff"/><stop offset="0.647" stop-color="#005cff"/><stop offset="0.755" stop-color="#0043ff"/><stop offset="0.832" stop-color="#0017ff"/><stop offset="0.884" stop-color="#00f"/><stop offset="0.92" stop-color="#0000fe"/><stop offset="1" stop-color="#0000da"/></linearGradient><linearGradient id="c91" x1="0" y1="0" x2="0" y2="1"><stop offset="0" stop-color="#2fffc8"/><stop offset="0.209" stop-color="#13fde4"/><stop offset="0.327" stop-color="#00e2fa"/><stop offset="0.374" stop-color="#00d6ff"/><stop offset="0.503" stop-color="#007aff"/><stop offset="0.693" stop-color="#004bff"/><stop offset="0.755" stop-color="#003cff"/><stop offset="0.838" stop-color="#0010ff"/><stop offset="0.879" stop-color="#00f"/><stop offset="0.915" stop-color="#0000fd"/><stop offset="1" stop-color="#0000d8"/></linearGradient><linearGradient id="c92" x1="0" y1="0" x2="0" y2="1"><stop offset="0" stop-color="#1affdc"/><stop offset="0.08" stop-color="#12fce5"/><stop offset="0.219" stop-color="#00e2fa"/><stop offset="0.281" stop-color="#00d4ff"/><stop offset="0.379" stop-color="#0bf"/><stop offset="0.503" stop-color="#0072ff"/><stop offset="0.735" stop-color="#003bff"/><stop offset="0.765" stop-color="#002fff"/><stop offset="0.853" stop-color="#0006ff"/><stop offset="0.879" stop-color="#00f"/><stop offset="0.91" stop-color="#0000fd"/><stop offset="1" stop-color="#0000d6"/></linearGradient><linearGradient id="c93" x1="0" y1="0" x2="0" y2="1"><stop offset="0" stop-color="#06edf1"/><stop offset="0.101" stop-color="#00dffc"/><stop offset="0.229" stop-color="#00c6ff"/><stop offset="0.384" stop-color="#00a0ff"/><stop offset="0.508" stop-color="#0068ff"/><stop offset="0.755" stop-color="#002eff"/><stop offset="0.853" stop-color="#0002ff"/><stop offset="0.905" stop-color="#0000fc"/><stop offset="1" stop-color="#0000d4"/></linearGradient><linearGradient id="c94" x1="0" y1="0" x2="0" y2="1"><stop offset="0" stop-color="#00d3ff"/><stop offset="0.188" stop-color="#00b5ff"/><stop offset="0.399" stop-color="#0084ff"/><stop offset="0.528" stop-color="#005bff"/><stop offset="0.76" stop-color="#0024ff"/><stop offset="0.848" stop-color="#00f"/><stop offset="0.894" stop-color="#0000fd"/><stop offset="1" stop-color="#0000d2"/></linearGradient><linearGradient id="c95" x1="0" y1="0" x2="0" y2="1"><stop offset="0" stop-color="#00baff"/><stop offset="0.188" stop-color="#009cff"/><stop offset="0.41" stop-color="#0071ff"/><stop offset="0.652" stop-color="#0037ff"/><stop offset="0.76" stop-color="#001fff"/><stop offset="0.843" stop-color="#00f"/><stop offset="0.889" stop-color="#0000fc"/><stop offset="1" stop-color="#0000d0"/></linearGradient><linearGradient id="c96" x1="0" y1="0" x2="0" y2="1"><stop offset="0" stop-color="#00a0ff"/><stop offset="0.302" stop-color="#0076ff"/><stop offset="0.394" stop-color="#006bff"/><stop offset="0.642" stop-color="#03f"/><stop offset="0.76" stop-color="#001aff"/><stop offset="0.832" stop-color="#00f"/><stop offset="0.879" stop-color="#0000fd"/><stop offset="1" stop-color="#0000ce"/></linearGradient><linearGradient id="c97" x1="0" y1="0" x2="0" y2="1"><stop offset="0" stop-color="#0087ff"/><stop offset="0.389" stop-color="#0062ff"/><stop offset="0.647" stop-color="#002cff"/><stop offset="0.76" stop-color="#0015ff"/><stop offset="0.822" stop-color="#00f"/><stop offset="0.874" stop-color="#0000fc"/><stop offset="1" stop-color="#00c"/></linearGradient><linearGradient id="c98" x1="0" y1="0" x2="0" y2="1"><stop offset="0" stop-color="#07f"/><stop offset="0.389" stop-color="#0058ff"/><stop offset="0.657" stop-color="#0024ff"/><stop offset="0.76" stop-color="#0010ff"/><stop offset="0.812" stop-color="#00f"/><stop offset="0.863" stop-color="#0000fc"/><stop offset="1" stop-color="#0000ca"/></linearGradient><linearGradient id="c99" x1="0" y1="0" x2="0" y2="1"><stop offset="0" stop-color="#006bff"/><stop offset="0.394" stop-color="#004cff"/><stop offset="0.693" stop-color="#0018ff"/><stop offset="0.765" stop-color="#0009ff"/><stop offset="0.802" stop-color="#00f"/><stop offset="0.853" stop-color="#0000fc"/><stop offset="1" stop-color="#0000c8"/></linearGradient><linearGradient id="c100" x1="0" y1="0" x2="0" y2="1"><stop offset="0" stop-color="#005fff"/><stop offset="0.394" stop-color="#0042ff"/><stop offset="0.765" stop-color="#0004ff"/><stop offset="0.802" stop-color="#00f"/><stop offset="0.843" stop-color="#0000fc"/><stop offset="1" stop-color="#0000c6"/></linearGradient><linearGradient id="c101" x1="0" y1="0" x2="0" y2="1"><stop offset="0" stop-color="#0053ff"/><stop offset="0.399" stop-color="#0037ff"/><stop offset="0.781" stop-color="#00f"/><stop offset="0.827" stop-color="#0000fc"/><stop offset="1" stop-color="#0000c4"/></linearGradient><linearGradient id="c102" x1="0" y1="0" x2="0" y2="1"><stop offset="0" stop-color="#0047ff"/><stop offset="0.405" stop-color="#002cff"/><stop offset="0.755" stop-color="#00f"/><stop offset="0.812" stop-color="#0000fc"/><stop offset="0.941" stop-color="#0000d5"/><stop offset="1" stop-color="#0000c2"/></linearGradient><linearGradient id="c103" x1="0" y1="0" x2="0" y2="1"><stop offset="0" stop-color="#003bff"/><stop offset="0.41" stop-color="#0021ff"/><stop offset="0.714" stop-color="#00f"/><stop offset="0.791" stop-color="#0000fd"/><stop offset="0.925" stop-color="#0000d8"/><stop offset="1" stop-color="#0000c0"/></linearGradient><linearGradient id="c104" x1="0" y1="0" x2="0" y2="1"><stop offset="0" stop-color="#002fff"/><stop offset="0.415" stop-color="#0017ff"/><stop offset="0.668" stop-color="#00f"/><stop offset="0.776" stop-color="#0000fc"/><stop offset="0.92" stop-color="#0000d7"/><stop offset="1" stop-color="#0000be"/></linearGradient><linearGradient id="c105" x1="0" y1="0" x2="0" y2="1"><stop offset="0" stop-color="#0023ff"/><stop offset="0.425" stop-color="#000cff"/><stop offset="0.595" stop-color="#00f"/><stop offset="0.75" stop-color="#0000fd"/><stop offset="0.915" stop-color="#0000d6"/><stop offset="1" stop-color="#0000bc"/></linearGradient><linearGradient id="c106" x1="0" y1="0" x2="0" y2="1"><stop offset="0" stop-color="#0017ff"/><stop offset="0.523" stop-color="#00f"/><stop offset="0.709" stop-color="#0000fd"/><stop offset="0.899" stop-color="#0000d7"/><stop offset="1" stop-color="#0000ba"/></linearGradient><linearGradient id="c107" x1="0" y1="0" x2="0" y2="1"><stop offset="0" stop-color="#000bff"/><stop offset="0.327" stop-color="#00f"/><stop offset="0.673" stop-color="#0000fd"/><stop offset="0.889" stop-color="#0000d7"/><stop offset="1" stop-color="#0000b8"/></linearGradient><linearGradient id="c108" x1="0" y1="0" x2="0" y2="1"><stop offset="0" stop-color="#00f"/><stop offset="0.642" stop-color="#0000fd"/><stop offset="0.879" stop-color="#0000d7"/><stop offset="1" stop-color="#0000b6"/></linearGradient><linearGradient id="c109" x1="0" y1="0" x2="0" y2="1"><stop offset="0" stop-color="#00f"/><stop offset="0.575" stop-color="#0000fc"/><stop offset="0.688" stop-color="#0000f2"/><stop offset="0.899" stop-color="#0000cf"/><stop offset="1" stop-color="#0000b4"/></linearGradient><linearGradient id="c110" x1="0" y1="0" x2="0" y2="1"><stop offset="0" stop-color="#00f"/><stop offset="0.456" stop-color="#0000fb"/><stop offset="0.657" stop-color="#0000f2"/><stop offset="0.879" stop-color="#0000d1"/><stop offset="1" stop-color="#0000b3"/></linearGradient><linearGradient id="c111" x1="0" y1="0" x2="0" y2="1"><stop offset="0" stop-color="#0000fe"/><stop offset="0.626" stop-color="#0000f1"/><stop offset="0.858" stop-color="#0000d1"/><stop offset="1" stop-color="#0000b1"/></linearGradient><linearGradient id="c112" x1="0" y1="0" x2="0" y2="1"><stop offset="0" stop-color="#0000f8"/><stop offset="0.631" stop-color="#0000eb"/><stop offset="0.869" stop-color="#0000cd"/><stop offset="1" stop-color="#0000af"/></linearGradient><linearGradient id="c113" x1="0" y1="0" x2="0" y2="1"><stop offset="0" stop-color="#0000f2"/><stop offset="0.637" stop-color="#0000e6"/><stop offset="0.874" stop-color="#0000c9"/><stop offset="1" stop-color="#0000ad"/></linearGradient><linearGradient id="c114" x1="0" y1="0" x2="0" y2="1"><stop offset="0" stop-color="#0000ec"/><stop offset="0.642" stop-color="#0000e1"/><stop offset="0.874" stop-color="#0000c6"/><stop offset="1" stop-color="#0000ac"/></linearGradient><linearGradient id="c115" x1="0" y1="0" x2="0" y2="1"><stop offset="0" stop-color="#0000e6"/><stop offset="0.647" stop-color="#0000dc"/><stop offset="0.879" stop-color="#0000c2"/><stop offset="1" stop-color="#0000ab"/></linearGradient><linearGradient id="c116" x1="0" y1="0" x2="0" y2="1"><stop offset="0" stop-color="#0000e0"/><stop offset="0.657" stop-color="#0000d7"/><stop offset="0.884" stop-color="#0000be"/><stop offset="1" stop-color="#00a"/></linearGradient><linearGradient id="c117" x1="0" y1="0" x2="0" y2="1"><stop offset="0" stop-color="#0000da"/><stop offset="0.657" stop-color="#0000d2"/><stop offset="0.884" stop-color="#00b"/><stop offset="1" stop-color="#0000a9"/></linearGradient><linearGradient id="c118" x1="0" y1="0" x2="0" y2="1"><stop offset="0" stop-color="#0000d4"/><stop offset="0.662" stop-color="#0000ce"/><stop offset="0.889" stop-color="#0000b7"/><stop offset="1" stop-color="#0000a8"/></linearGradient><linearGradient id="c119" x1="0" y1="0" x2="0" y2="1"><stop offset="0" stop-color="#0000cd"/><stop offset="0.668" stop-color="#0000c9"/><stop offset="0.899" stop-color="#0000b3"/><stop offset="1" stop-color="#0000a6"/></linearGradient><linearGradient id="c120" x1="0" y1="0" x2="0" y2="1"><stop offset="0" stop-color="#0000c5"/><stop offset="0.668" stop-color="#0000c3"/><stop offset="0.956" stop-color="#0000a9"/><stop offset="1" stop-color="#0000a5"/></linearGradient><linearGradient id="c121" x1="0" y1="0" x2="0" y2="1"><stop offset="0" stop-color="#0000bf"/><stop offset="0.662" stop-color="#0000bd"/><stop offset="1" stop-color="#0000a2"/></linearGradient><linearGradient id="c122" x1="0" y1="0" x2="0" y2="1"><stop offset="0" stop-color="#0000b9"/><stop offset="0.668" stop-color="#0000b7"/><stop offset="1" stop-color="#0000a0"/></linearGradient><linearGradient id="c123" x1="0" y1="0" x2="0" y2="1"><stop offset="0" stop-color="#0000b4"/><stop offset="0.668" stop-color="#0000b1"/><stop offset="1" stop-color="#00009e"/></linearGradient><linearGradient id="c124" x1="0" y1="0" x2="0" y2="1"><stop offset="0" stop-color="#0000ae"/><stop offset="0.673" stop-color="#0000ab"/><stop offset="0.91" stop-color="#00009e"/><stop offset="1" stop-color="#00009b"/></linearGradient><linearGradient id="c125" x1="0" y1="0" x2="0" y2="1"><stop offset="0" stop-color="#0000a8"/><stop offset="0.678" stop-color="#0000a5"/><stop offset="0.869" stop-color="#00009b"/><stop offset="1" stop-color="#009"/></linearGradient><linearGradient id="c126" x1="0" y1="0" x2="0" y2="1"><stop offset="0" stop-color="#0000a4"/><stop offset="0.678" stop-color="#0000a1"/><stop offset="0.858" stop-color="#000098"/><stop offset="1" stop-color="#000097"/></linearGradient>
</defs>
<g shape-rendering="crispEdges"><rect x="33" y="3.5" width="4.6" height="194" fill="url(#a0)"/><rect x="37" y="3.5" width="4.6" height="194" fill="url(#a1)"/><rect x="41" y="3.5" width="4.6" height="194" fill="url(#a2)"/><rect x="45" y="3.5" width="4.6" height="194" fill="url(#a3)"/><rect x="49" y="3.5" width="4.6" height="194" fill="url(#a4)"/><rect x="53" y="3.5" width="4.6" height="194" fill="url(#a5)"/><rect x="57" y="3.5" width="4.6" height="194" fill="url(#a6)"/><rect x="61" y="3.5" width="4.6" height="194" fill="url(#a7)"/><rect x="65" y="3.5" width="4.6" height="194" fill="url(#a8)"/><rect x="69" y="3.5" width="4.6" height="194" fill="url(#a9)"/><rect x="73" y="3.5" width="4.6" height="194" fill="url(#a10)"/><rect x="77" y="3.5" width="4.6" height="194" fill="url(#a11)"/><rect x="81" y="3.5" width="4.6" height="194" fill="url(#a12)"/><rect x="85" y="3.5" width="4.6" height="194" fill="url(#a13)"/><rect x="89" y="3.5" width="4.6" height="194" fill="url(#a14)"/><rect x="93" y="3.5" width="4.6" height="194" fill="url(#a15)"/><rect x="97" y="3.5" width="4.6" height="194" fill="url(#a16)"/><rect x="101" y="3.5" width="4.6" height="194" fill="url(#a17)"/><rect x="105" y="3.5" width="4.6" height="194" fill="url(#a18)"/><rect x="109" y="3.5" width="4.6" height="194" fill="url(#a19)"/><rect x="113" y="3.5" width="4.6" height="194" fill="url(#a20)"/><rect x="117" y="3.5" width="4.6" height="194" fill="url(#a21)"/><rect x="121" y="3.5" width="4.6" height="194" fill="url(#a22)"/><rect x="125" y="3.5" width="4.6" height="194" fill="url(#a23)"/><rect x="129" y="3.5" width="4.6" height="194" fill="url(#a24)"/><rect x="133" y="3.5" width="3.6" height="194" fill="url(#a25)"/><rect x="136" y="3.5" width="3.6" height="194" fill="url(#a26)"/><rect x="139" y="3.5" width="3.6" height="194" fill="url(#a27)"/><rect x="142" y="3.5" width="3.6" height="194" fill="url(#a28)"/><rect x="145" y="3.5" width="3.6" height="194" fill="url(#a29)"/><rect x="148" y="3.5" width="3.6" height="194" fill="url(#a30)"/><rect x="151" y="3.5" width="3.6" height="194" fill="url(#a31)"/><rect x="154" y="3.5" width="3.6" height="194" fill="url(#a32)"/><rect x="157" y="3.5" width="3.6" height="194" fill="url(#a33)"/><rect x="160" y="3.5" width="3.6" height="194" fill="url(#a34)"/><rect x="163" y="3.5" width="2.6" height="194" fill="url(#a35)"/><rect x="165" y="3.5" width="2.6" height="194" fill="url(#a36)"/><rect x="167" y="3.5" width="2.6" height="194" fill="url(#a37)"/><rect x="169" y="3.5" width="2.6" height="194" fill="url(#a38)"/><rect x="171" y="3.5" width="2.6" height="194" fill="url(#a39)"/><rect x="173" y="3.5" width="2.6" height="194" fill="url(#a40)"/><rect x="175" y="3.5" width="2.6" height="194" fill="url(#a41)"/><rect x="177" y="3.5" width="1.6" height="194" fill="url(#a42)"/><rect x="178" y="3.5" width="1.6" height="194" fill="url(#a43)"/><rect x="179" y="3.5" width="1.6" height="194" fill="url(#a44)"/><rect x="180" y="3.5" width="1.6" height="194" fill="url(#a45)"/><rect x="181" y="3.5" width="2.6" height="194" fill="url(#a46)"/><rect x="183" y="3.5" width="4.6" height="194" fill="url(#a47)"/><rect x="187" y="3.5" width="3.6" height="194" fill="url(#a48)"/><rect x="190" y="3.5" width="1.6" height="194" fill="url(#a49)"/><rect x="191" y="3.5" width="1.6" height="194" fill="url(#a50)"/><rect x="192" y="3.5" width="1.6" height="194" fill="url(#a51)"/><rect x="193" y="3.5" width="1.6" height="194" fill="url(#a52)"/><rect x="194" y="3.5" width="1.6" height="194" fill="url(#a53)"/><rect x="195" y="3.5" width="1.6" height="194" fill="url(#a54)"/><rect x="196" y="3.5" width="1.6" height="194" fill="url(#a55)"/><rect x="197" y="3.5" width="1.6" height="194" fill="url(#a56)"/><rect x="198" y="3.5" width="1.6" height="194" fill="url(#a57)"/><rect x="199" y="3.5" width="1.6" height="194" fill="url(#a58)"/><rect x="200" y="3.5" width="1.6" height="194" fill="url(#a59)"/><rect x="201" y="3.5" width="1.6" height="194" fill="url(#a60)"/><rect x="202" y="3.5" width="1.6" height="194" fill="url(#a61)"/><rect x="203" y="3.5" width="1.6" height="194" fill="url(#a62)"/><rect x="204" y="3.5" width="1.6" height="194" fill="url(#a63)"/><rect x="205" y="3.5" width="1.6" height="194" fill="url(#a64)"/><rect x="206" y="3.5" width="1.6" height="194" fill="url(#a65)"/><rect x="207" y="3.5" width="1.6" height="194" fill="url(#a66)"/><rect x="208" y="3.5" width="1.6" height="194" fill="url(#a67)"/><rect x="209" y="3.5" width="1.6" height="194" fill="url(#a68)"/><rect x="210" y="3.5" width="1.6" height="194" fill="url(#a69)"/><rect x="211" y="3.5" width="1.6" height="194" fill="url(#a70)"/><rect x="212" y="3.5" width="1.6" height="194" fill="url(#a71)"/><rect x="213" y="3.5" width="1.6" height="194" fill="url(#a72)"/><rect x="214" y="3.5" width="1.6" height="194" fill="url(#a73)"/><rect x="215" y="3.5" width="1.6" height="194" fill="url(#a74)"/><rect x="216" y="3.5" width="1.6" height="194" fill="url(#a75)"/><rect x="217" y="3.5" width="1.6" height="194" fill="url(#a76)"/><rect x="218" y="3.5" width="1.6" height="194" fill="url(#a77)"/><rect x="219" y="3.5" width="1.6" height="194" fill="url(#a78)"/><rect x="220" y="3.5" width="1.6" height="194" fill="url(#a79)"/><rect x="221" y="3.5" width="1.6" height="194" fill="url(#a80)"/><rect x="222" y="3.5" width="1.6" height="194" fill="url(#a81)"/><rect x="223" y="3.5" width="1.6" height="194" fill="url(#a82)"/><rect x="224" y="3.5" width="1.6" height="194" fill="url(#a83)"/><rect x="225" y="3.5" width="1.6" height="194" fill="url(#a84)"/><rect x="226" y="3.5" width="1.6" height="194" fill="url(#a85)"/><rect x="227" y="3.5" width="1.6" height="194" fill="url(#a86)"/><rect x="228" y="3.5" width="1.6" height="194" fill="url(#a87)"/><rect x="229" y="3.5" width="1.6" height="194" fill="url(#a88)"/><rect x="230" y="3.5" width="1.6" height="194" fill="url(#a89)"/><rect x="231" y="3.5" width="1.6" height="194" fill="url(#a90)"/><rect x="232" y="3.5" width="1" height="194" fill="url(#a91)"/></g>
<rect x="33" y="3.5" width="200" height="194" fill="none" stroke="#000" stroke-width="0.8"/>
<path d="M33 182.577h2 M233 182.577h-2" stroke="#000" stroke-width="0.6"/>
<text x="31.4" y="184.98" text-anchor="end" class="tk" transform="rotate(.03 31.4 184.98)">200</text>
<path d="M33 152.731h2 M233 152.731h-2" stroke="#000" stroke-width="0.6"/>
<text x="31.4" y="155.13" text-anchor="end" class="tk" transform="rotate(.03 31.4 155.13)">400</text>
<path d="M33 122.885h2 M233 122.885h-2" stroke="#000" stroke-width="0.6"/>
<text x="31.4" y="125.28" text-anchor="end" class="tk" transform="rotate(.03 31.4 125.28)">600</text>
<path d="M33 93.0385h2 M233 93.0385h-2" stroke="#000" stroke-width="0.6"/>
<text x="31.4" y="95.44" text-anchor="end" class="tk" transform="rotate(.03 31.4 95.44)">800</text>
<path d="M33 63.1923h2 M233 63.1923h-2" stroke="#000" stroke-width="0.6"/>
<text x="31.4" y="65.59" text-anchor="end" class="tk" transform="rotate(.03 31.4 65.59)">1000</text>
<path d="M33 33.3462h2 M233 33.3462h-2" stroke="#000" stroke-width="0.6"/>
<text x="31.4" y="35.75" text-anchor="end" class="tk" transform="rotate(.03 31.4 35.75)">1200</text>
<path d="M33 3.5h2 M233 3.5h-2" stroke="#000" stroke-width="0.6"/>
<text x="31.4" y="5.90" text-anchor="end" class="tk" transform="rotate(.03 31.4 5.90)">1400</text>
<text x="32.8" y="206.60" text-anchor="middle" class="tk" transform="rotate(.03 32.8 206.60)">10<tspan dy="-3.7" font-size="4.7">-5</tspan></text>
<text x="72.8" y="206.60" text-anchor="middle" class="tk" transform="rotate(.03 72.8 206.60)">10<tspan dy="-3.7" font-size="4.7">-4</tspan></text>
<text x="112.8" y="206.60" text-anchor="middle" class="tk" transform="rotate(.03 112.8 206.60)">10<tspan dy="-3.7" font-size="4.7">-3</tspan></text>
<text x="152.8" y="206.60" text-anchor="middle" class="tk" transform="rotate(.03 152.8 206.60)">10<tspan dy="-3.7" font-size="4.7">-2</tspan></text>
<text x="192.8" y="206.60" text-anchor="middle" class="tk" transform="rotate(.03 192.8 206.60)">10<tspan dy="-3.7" font-size="4.7">-1</tspan></text>
<text x="232.8" y="206.60" text-anchor="middle" class="tk" transform="rotate(.03 232.8 206.60)">10<tspan dy="-3.7" font-size="4.7">0</tspan></text>
<path d="M33 197.5v-2 M33 3.5v2 M45.04 197.5v-1.2 M45.04 3.5v1.2 M52.08 197.5v-1.2 M52.08 3.5v1.2 M57.08 197.5v-1.2 M57.08 3.5v1.2 M60.96 197.5v-1.2 M60.96 3.5v1.2 M64.13 197.5v-1.2 M64.13 3.5v1.2 M66.80 197.5v-1.2 M66.80 3.5v1.2 M69.12 197.5v-1.2 M69.12 3.5v1.2 M71.17 197.5v-1.2 M71.17 3.5v1.2 M73 197.5v-2 M73 3.5v2 M85.04 197.5v-1.2 M85.04 3.5v1.2 M92.08 197.5v-1.2 M92.08 3.5v1.2 M97.08 197.5v-1.2 M97.08 3.5v1.2 M100.96 197.5v-1.2 M100.96 3.5v1.2 M104.13 197.5v-1.2 M104.13 3.5v1.2 M106.80 197.5v-1.2 M106.80 3.5v1.2 M109.12 197.5v-1.2 M109.12 3.5v1.2 M111.17 197.5v-1.2 M111.17 3.5v1.2 M113 197.5v-2 M113 3.5v2 M125.04 197.5v-1.2 M125.04 3.5v1.2 M132.08 197.5v-1.2 M132.08 3.5v1.2 M137.08 197.5v-1.2 M137.08 3.5v1.2 M140.96 197.5v-1.2 M140.96 3.5v1.2 M144.13 197.5v-1.2 M144.13 3.5v1.2 M146.80 197.5v-1.2 M146.80 3.5v1.2 M149.12 197.5v-1.2 M149.12 3.5v1.2 M151.17 197.5v-1.2 M151.17 3.5v1.2 M153 197.5v-2 M153 3.5v2 M165.04 197.5v-1.2 M165.04 3.5v1.2 M172.08 197.5v-1.2 M172.08 3.5v1.2 M177.08 197.5v-1.2 M177.08 3.5v1.2 M180.96 197.5v-1.2 M180.96 3.5v1.2 M184.13 197.5v-1.2 M184.13 3.5v1.2 M186.80 197.5v-1.2 M186.80 3.5v1.2 M189.12 197.5v-1.2 M189.12 3.5v1.2 M191.17 197.5v-1.2 M191.17 3.5v1.2 M193 197.5v-2 M193 3.5v2 M205.04 197.5v-1.2 M205.04 3.5v1.2 M212.08 197.5v-1.2 M212.08 3.5v1.2 M217.08 197.5v-1.2 M217.08 3.5v1.2 M220.96 197.5v-1.2 M220.96 3.5v1.2 M224.13 197.5v-1.2 M224.13 3.5v1.2 M226.80 197.5v-1.2 M226.80 3.5v1.2 M229.12 197.5v-1.2 M229.12 3.5v1.2 M231.17 197.5v-1.2 M231.17 3.5v1.2 M233 197.5v-2 M233 3.5v2" stroke="#000" stroke-width="0.6"/>
<text x="136.4" y="213.2" text-anchor="middle" class="lb" transform="rotate(.03 136.4 213.2)">energy, eV</text>
<text transform="translate(8.3 98.5) rotate(-90)" text-anchor="middle" class="lb">temperature, kelvin</text>
<rect x="246" y="3.5" width="10" height="194" fill="url(#jet)" stroke="#000" stroke-width="0.8"/>
<path d="M256 197.5h-1.8" stroke="#000" stroke-width="0.6"/>
<text x="257.8" y="199.90" class="tk" transform="rotate(.03 257.8 199.90)">0.0</text>
<path d="M256 176.998h-1.8" stroke="#000" stroke-width="0.6"/>
<text x="257.8" y="179.40" class="tk" transform="rotate(.03 257.8 179.40)">0.8</text>
<path d="M256 156.496h-1.8" stroke="#000" stroke-width="0.6"/>
<text x="257.8" y="158.90" class="tk" transform="rotate(.03 257.8 158.90)">1.6</text>
<path d="M256 135.994h-1.8" stroke="#000" stroke-width="0.6"/>
<text x="257.8" y="138.39" class="tk" transform="rotate(.03 257.8 138.39)">2.4</text>
<path d="M256 115.492h-1.8" stroke="#000" stroke-width="0.6"/>
<text x="257.8" y="117.89" class="tk" transform="rotate(.03 257.8 117.89)">3.2</text>
<path d="M256 94.9901h-1.8" stroke="#000" stroke-width="0.6"/>
<text x="257.8" y="97.39" class="tk" transform="rotate(.03 257.8 97.39)">4.0</text>
<path d="M256 74.4881h-1.8" stroke="#000" stroke-width="0.6"/>
<text x="257.8" y="76.89" class="tk" transform="rotate(.03 257.8 76.89)">4.8</text>
<path d="M256 53.9861h-1.8" stroke="#000" stroke-width="0.6"/>
<text x="257.8" y="56.39" class="tk" transform="rotate(.03 257.8 56.39)">5.6</text>
<path d="M256 33.4841h-1.8" stroke="#000" stroke-width="0.6"/>
<text x="257.8" y="35.88" class="tk" transform="rotate(.03 257.8 35.88)">6.4</text>
<path d="M256 12.9822h-1.8" stroke="#000" stroke-width="0.6"/>
<text x="257.8" y="15.38" class="tk" transform="rotate(.03 257.8 15.38)">7.2</text>
<text transform="translate(280.7 99.8) rotate(-90)" text-anchor="middle" class="lb">anharmonic contribution, percentage</text>
<text x="141.1" y="244" text-anchor="middle" class="cap" transform="rotate(.03 141.1 244)">(a) Be</text>
<g shape-rendering="crispEdges"><rect x="350.5" y="3.75" width="4.6" height="193.75" fill="url(#b0)"/><rect x="354.5" y="3.75" width="4.6" height="193.75" fill="url(#b1)"/><rect x="358.5" y="3.75" width="4.6" height="193.75" fill="url(#b2)"/><rect x="362.5" y="3.75" width="4.6" height="193.75" fill="url(#b3)"/><rect x="366.5" y="3.75" width="4.6" height="193.75" fill="url(#b4)"/><rect x="370.5" y="3.75" width="4.6" height="193.75" fill="url(#b5)"/><rect x="374.5" y="3.75" width="4.6" height="193.75" fill="url(#b6)"/><rect x="378.5" y="3.75" width="4.6" height="193.75" fill="url(#b7)"/><rect x="382.5" y="3.75" width="4.6" height="193.75" fill="url(#b8)"/><rect x="386.5" y="3.75" width="4.6" height="193.75" fill="url(#b9)"/><rect x="390.5" y="3.75" width="4.6" height="193.75" fill="url(#b10)"/><rect x="394.5" y="3.75" width="4.6" height="193.75" fill="url(#b11)"/><rect x="398.5" y="3.75" width="4.6" height="193.75" fill="url(#b12)"/><rect x="402.5" y="3.75" width="4.6" height="193.75" fill="url(#b13)"/><rect x="406.5" y="3.75" width="4.6" height="193.75" fill="url(#b14)"/><rect x="410.5" y="3.75" width="3.6" height="193.75" fill="url(#b15)"/><rect x="413.5" y="3.75" width="2.6" height="193.75" fill="url(#b16)"/><rect x="415.5" y="3.75" width="2.6" height="193.75" fill="url(#b17)"/><rect x="417.5" y="3.75" width="2.6" height="193.75" fill="url(#b18)"/><rect x="419.5" y="3.75" width="2.6" height="193.75" fill="url(#b19)"/><rect x="421.5" y="3.75" width="2.6" height="193.75" fill="url(#b20)"/><rect x="423.5" y="3.75" width="2.6" height="193.75" fill="url(#b21)"/><rect x="425.5" y="3.75" width="2.6" height="193.75" fill="url(#b22)"/><rect x="427.5" y="3.75" width="2.6" height="193.75" fill="url(#b23)"/><rect x="429.5" y="3.75" width="2.6" height="193.75" fill="url(#b24)"/><rect x="431.5" y="3.75" width="2.6" height="193.75" fill="url(#b25)"/><rect x="433.5" y="3.75" width="2.6" height="193.75" fill="url(#b26)"/><rect x="435.5" y="3.75" width="2.6" height="193.75" fill="url(#b27)"/><rect x="437.5" y="3.75" width="2.6" height="193.75" fill="url(#b28)"/><rect x="439.5" y="3.75" width="2.6" height="193.75" fill="url(#b29)"/><rect x="441.5" y="3.75" width="2.6" height="193.75" fill="url(#b30)"/><rect x="443.5" y="3.75" width="2.6" height="193.75" fill="url(#b31)"/><rect x="445.5" y="3.75" width="2.6" height="193.75" fill="url(#b32)"/><rect x="447.5" y="3.75" width="1.6" height="193.75" fill="url(#b33)"/><rect x="448.5" y="3.75" width="1.6" height="193.75" fill="url(#b34)"/><rect x="449.5" y="3.75" width="1.6" height="193.75" fill="url(#b35)"/><rect x="450.5" y="3.75" width="1.6" height="193.75" fill="url(#b36)"/><rect x="451.5" y="3.75" width="1.6" height="193.75" fill="url(#b37)"/><rect x="452.5" y="3.75" width="1.6" height="193.75" fill="url(#b38)"/><rect x="453.5" y="3.75" width="1.6" height="193.75" fill="url(#b39)"/><rect x="454.5" y="3.75" width="1.6" height="193.75" fill="url(#b40)"/><rect x="455.5" y="3.75" width="1.6" height="193.75" fill="url(#b41)"/><rect x="456.5" y="3.75" width="1.6" height="193.75" fill="url(#b42)"/><rect x="457.5" y="3.75" width="1.6" height="193.75" fill="url(#b43)"/><rect x="458.5" y="3.75" width="1.6" height="193.75" fill="url(#b44)"/><rect x="459.5" y="3.75" width="1.6" height="193.75" fill="url(#b45)"/><rect x="460.5" y="3.75" width="1.6" height="193.75" fill="url(#b46)"/><rect x="461.5" y="3.75" width="1.6" height="193.75" fill="url(#b47)"/><rect x="462.5" y="3.75" width="1.6" height="193.75" fill="url(#b48)"/><rect x="463.5" y="3.75" width="1.6" height="193.75" fill="url(#b49)"/><rect x="464.5" y="3.75" width="1.6" height="193.75" fill="url(#b50)"/><rect x="465.5" y="3.75" width="1.6" height="193.75" fill="url(#b51)"/><rect x="466.5" y="3.75" width="1.6" height="193.75" fill="url(#b52)"/><rect x="467.5" y="3.75" width="1.6" height="193.75" fill="url(#b53)"/><rect x="468.5" y="3.75" width="1.6" height="193.75" fill="url(#b54)"/><rect x="469.5" y="3.75" width="1.6" height="193.75" fill="url(#b55)"/><rect x="470.5" y="3.75" width="1.6" height="193.75" fill="url(#b56)"/><rect x="471.5" y="3.75" width="1.6" height="193.75" fill="url(#b57)"/><rect x="472.5" y="3.75" width="1.6" height="193.75" fill="url(#b58)"/><rect x="473.5" y="3.75" width="1.6" height="193.75" fill="url(#b59)"/><rect x="474.5" y="3.75" width="1.6" height="193.75" fill="url(#b60)"/><rect x="475.5" y="3.75" width="1.6" height="193.75" fill="url(#b61)"/><rect x="476.5" y="3.75" width="1.6" height="193.75" fill="url(#b62)"/><rect x="477.5" y="3.75" width="1.6" height="193.75" fill="url(#b63)"/><rect x="478.5" y="3.75" width="1.6" height="193.75" fill="url(#b64)"/><rect x="479.5" y="3.75" width="1.6" height="193.75" fill="url(#b65)"/><rect x="480.5" y="3.75" width="1.6" height="193.75" fill="url(#b66)"/><rect x="481.5" y="3.75" width="1.6" height="193.75" fill="url(#b67)"/><rect x="482.5" y="3.75" width="3.6" height="193.75" fill="url(#b68)"/><rect x="485.5" y="3.75" width="1.6" height="193.75" fill="url(#b69)"/><rect x="486.5" y="3.75" width="1.6" height="193.75" fill="url(#b70)"/><rect x="487.5" y="3.75" width="1.6" height="193.75" fill="url(#b71)"/><rect x="488.5" y="3.75" width="1.6" height="193.75" fill="url(#b72)"/><rect x="489.5" y="3.75" width="1.6" height="193.75" fill="url(#b73)"/><rect x="490.5" y="3.75" width="1.6" height="193.75" fill="url(#b74)"/><rect x="491.5" y="3.75" width="1.6" height="193.75" fill="url(#b75)"/><rect x="492.5" y="3.75" width="1.6" height="193.75" fill="url(#b76)"/><rect x="493.5" y="3.75" width="1.6" height="193.75" fill="url(#b77)"/><rect x="494.5" y="3.75" width="1.6" height="193.75" fill="url(#b78)"/><rect x="495.5" y="3.75" width="1.6" height="193.75" fill="url(#b79)"/><rect x="496.5" y="3.75" width="1.6" height="193.75" fill="url(#b80)"/><rect x="497.5" y="3.75" width="1.6" height="193.75" fill="url(#b81)"/><rect x="498.5" y="3.75" width="1.6" height="193.75" fill="url(#b82)"/><rect x="499.5" y="3.75" width="1.6" height="193.75" fill="url(#b83)"/><rect x="500.5" y="3.75" width="1.6" height="193.75" fill="url(#b84)"/><rect x="501.5" y="3.75" width="1.6" height="193.75" fill="url(#b85)"/><rect x="502.5" y="3.75" width="1.6" height="193.75" fill="url(#b86)"/><rect x="503.5" y="3.75" width="1.6" height="193.75" fill="url(#b87)"/><rect x="504.5" y="3.75" width="1.6" height="193.75" fill="url(#b88)"/><rect x="505.5" y="3.75" width="1.6" height="193.75" fill="url(#b89)"/><rect x="506.5" y="3.75" width="1.6" height="193.75" fill="url(#b90)"/><rect x="507.5" y="3.75" width="1.6" height="193.75" fill="url(#b91)"/><rect x="508.5" y="3.75" width="1.6" height="193.75" fill="url(#b92)"/><rect x="509.5" y="3.75" width="1.6" height="193.75" fill="url(#b93)"/><rect x="510.5" y="3.75" width="1.6" height="193.75" fill="url(#b94)"/><rect x="511.5" y="3.75" width="1.6" height="193.75" fill="url(#b95)"/><rect x="512.5" y="3.75" width="1.6" height="193.75" fill="url(#b96)"/><rect x="513.5" y="3.75" width="1.6" height="193.75" fill="url(#b97)"/><rect x="514.5" y="3.75" width="1.6" height="193.75" fill="url(#b98)"/><rect x="515.5" y="3.75" width="1.6" height="193.75" fill="url(#b99)"/><rect x="516.5" y="3.75" width="1.6" height="193.75" fill="url(#b100)"/><rect x="517.5" y="3.75" width="1.6" height="193.75" fill="url(#b101)"/><rect x="518.5" y="3.75" width="1.6" height="193.75" fill="url(#b102)"/><rect x="519.5" y="3.75" width="1.6" height="193.75" fill="url(#b103)"/><rect x="520.5" y="3.75" width="1.6" height="193.75" fill="url(#b104)"/><rect x="521.5" y="3.75" width="1.6" height="193.75" fill="url(#b105)"/><rect x="522.5" y="3.75" width="1.6" height="193.75" fill="url(#b106)"/><rect x="523.5" y="3.75" width="1.6" height="193.75" fill="url(#b107)"/><rect x="524.5" y="3.75" width="1.6" height="193.75" fill="url(#b108)"/><rect x="525.5" y="3.75" width="1.6" height="193.75" fill="url(#b109)"/><rect x="526.5" y="3.75" width="1.6" height="193.75" fill="url(#b110)"/><rect x="527.5" y="3.75" width="1.6" height="193.75" fill="url(#b111)"/><rect x="528.5" y="3.75" width="1.6" height="193.75" fill="url(#b112)"/><rect x="529.5" y="3.75" width="1.6" height="193.75" fill="url(#b113)"/><rect x="530.5" y="3.75" width="1.6" height="193.75" fill="url(#b114)"/><rect x="531.5" y="3.75" width="1.6" height="193.75" fill="url(#b115)"/><rect x="532.5" y="3.75" width="2.6" height="193.75" fill="url(#b116)"/><rect x="534.5" y="3.75" width="2.6" height="193.75" fill="url(#b117)"/><rect x="536.5" y="3.75" width="2.6" height="193.75" fill="url(#b118)"/><rect x="538.5" y="3.75" width="2.6" height="193.75" fill="url(#b119)"/><rect x="540.5" y="3.75" width="2.6" height="193.75" fill="url(#b120)"/><rect x="542.5" y="3.75" width="2.6" height="193.75" fill="url(#b121)"/><rect x="544.5" y="3.75" width="2.6" height="193.75" fill="url(#b122)"/><rect x="546.5" y="3.75" width="2.6" height="193.75" fill="url(#b123)"/><rect x="548.5" y="3.75" width="2" height="193.75" fill="url(#b124)"/></g>
<rect x="350.5" y="3.75" width="200" height="193.75" fill="none" stroke="#000" stroke-width="0.8"/>
<path d="M350.5 197.5h2 M550.5 197.5h-2" stroke="#000" stroke-width="0.6"/>
<text x="348.9" y="199.90" text-anchor="end" class="tk" transform="rotate(.03 348.9 199.90)">100</text>
<path d="M350.5 173.281h2 M550.5 173.281h-2" stroke="#000" stroke-width="0.6"/>
<text x="348.9" y="175.68" text-anchor="end" class="tk" transform="rotate(.03 348.9 175.68)">200</text>
<path d="M350.5 149.062h2 M550.5 149.062h-2" stroke="#000" stroke-width="0.6"/>
<text x="348.9" y="151.46" text-anchor="end" class="tk" transform="rotate(.03 348.9 151.46)">300</text>
<path d="M350.5 124.844h2 M550.5 124.844h-2" stroke="#000" stroke-width="0.6"/>
<text x="348.9" y="127.24" text-anchor="end" class="tk" transform="rotate(.03 348.9 127.24)">400</text>
<path d="M350.5 100.625h2 M550.5 100.625h-2" stroke="#000" stroke-width="0.6"/>
<text x="348.9" y="103.03" text-anchor="end" class="tk" transform="rotate(.03 348.9 103.03)">500</text>
<path d="M350.5 76.4062h2 M550.5 76.4062h-2" stroke="#000" stroke-width="0.6"/>
<text x="348.9" y="78.81" text-anchor="end" class="tk" transform="rotate(.03 348.9 78.81)">600</text>
<path d="M350.5 52.1875h2 M550.5 52.1875h-2" stroke="#000" stroke-width="0.6"/>
<text x="348.9" y="54.59" text-anchor="end" class="tk" transform="rotate(.03 348.9 54.59)">700</text>
<path d="M350.5 27.9688h2 M550.5 27.9688h-2" stroke="#000" stroke-width="0.6"/>
<text x="348.9" y="30.37" text-anchor="end" class="tk" transform="rotate(.03 348.9 30.37)">800</text>
<path d="M350.5 3.75h2 M550.5 3.75h-2" stroke="#000" stroke-width="0.6"/>
<text x="348.9" y="6.15" text-anchor="end" class="tk" transform="rotate(.03 348.9 6.15)">900</text>
<text x="350.3" y="206.60" text-anchor="middle" class="tk" transform="rotate(.03 350.3 206.60)">10<tspan dy="-3.7" font-size="4.7">-5</tspan></text>
<text x="390.3" y="206.60" text-anchor="middle" class="tk" transform="rotate(.03 390.3 206.60)">10<tspan dy="-3.7" font-size="4.7">-4</tspan></text>
<text x="430.3" y="206.60" text-anchor="middle" class="tk" transform="rotate(.03 430.3 206.60)">10<tspan dy="-3.7" font-size="4.7">-3</tspan></text>
<text x="470.3" y="206.60" text-anchor="middle" class="tk" transform="rotate(.03 470.3 206.60)">10<tspan dy="-3.7" font-size="4.7">-2</tspan></text>
<text x="510.3" y="206.60" text-anchor="middle" class="tk" transform="rotate(.03 510.3 206.60)">10<tspan dy="-3.7" font-size="4.7">-1</tspan></text>
<text x="550.3" y="206.60" text-anchor="middle" class="tk" transform="rotate(.03 550.3 206.60)">10<tspan dy="-3.7" font-size="4.7">0</tspan></text>
<path d="M350.5 197.5v-2 M350.5 3.75v2 M362.54 197.5v-1.2 M362.54 3.75v1.2 M369.58 197.5v-1.2 M369.58 3.75v1.2 M374.58 197.5v-1.2 M374.58 3.75v1.2 M378.46 197.5v-1.2 M378.46 3.75v1.2 M381.63 197.5v-1.2 M381.63 3.75v1.2 M384.30 197.5v-1.2 M384.30 3.75v1.2 M386.62 197.5v-1.2 M386.62 3.75v1.2 M388.67 197.5v-1.2 M388.67 3.75v1.2 M390.5 197.5v-2 M390.5 3.75v2 M402.54 197.5v-1.2 M402.54 3.75v1.2 M409.58 197.5v-1.2 M409.58 3.75v1.2 M414.58 197.5v-1.2 M414.58 3.75v1.2 M418.46 197.5v-1.2 M418.46 3.75v1.2 M421.63 197.5v-1.2 M421.63 3.75v1.2 M424.30 197.5v-1.2 M424.30 3.75v1.2 M426.62 197.5v-1.2 M426.62 3.75v1.2 M428.67 197.5v-1.2 M428.67 3.75v1.2 M430.5 197.5v-2 M430.5 3.75v2 M442.54 197.5v-1.2 M442.54 3.75v1.2 M449.58 197.5v-1.2 M449.58 3.75v1.2 M454.58 197.5v-1.2 M454.58 3.75v1.2 M458.46 197.5v-1.2 M458.46 3.75v1.2 M461.63 197.5v-1.2 M461.63 3.75v1.2 M464.30 197.5v-1.2 M464.30 3.75v1.2 M466.62 197.5v-1.2 M466.62 3.75v1.2 M468.67 197.5v-1.2 M468.67 3.75v1.2 M470.5 197.5v-2 M470.5 3.75v2 M482.54 197.5v-1.2 M482.54 3.75v1.2 M489.58 197.5v-1.2 M489.58 3.75v1.2 M494.58 197.5v-1.2 M494.58 3.75v1.2 M498.46 197.5v-1.2 M498.46 3.75v1.2 M501.63 197.5v-1.2 M501.63 3.75v1.2 M504.30 197.5v-1.2 M504.30 3.75v1.2 M506.62 197.5v-1.2 M506.62 3.75v1.2 M508.67 197.5v-1.2 M508.67 3.75v1.2 M510.5 197.5v-2 M510.5 3.75v2 M522.54 197.5v-1.2 M522.54 3.75v1.2 M529.58 197.5v-1.2 M529.58 3.75v1.2 M534.58 197.5v-1.2 M534.58 3.75v1.2 M538.46 197.5v-1.2 M538.46 3.75v1.2 M541.63 197.5v-1.2 M541.63 3.75v1.2 M544.30 197.5v-1.2 M544.30 3.75v1.2 M546.62 197.5v-1.2 M546.62 3.75v1.2 M548.67 197.5v-1.2 M548.67 3.75v1.2 M550.5 197.5v-2 M550.5 3.75v2" stroke="#000" stroke-width="0.6"/>
<text x="453.9" y="217" text-anchor="middle" class="lb" transform="rotate(.03 453.9 217)">energy, eV</text>
<text transform="translate(326.3 98.625) rotate(-90)" text-anchor="middle" class="lb">temperature, kelvin</text>
<rect x="563" y="3.75" width="10" height="193.75" fill="url(#jet)" stroke="#000" stroke-width="0.8"/>
<path d="M573 175.748h-1.8" stroke="#000" stroke-width="0.6"/>
<text x="574.8" y="178.15" class="tk" transform="rotate(.03 574.8 178.15)">1.5</text>
<path d="M573 152.442h-1.8" stroke="#000" stroke-width="0.6"/>
<text x="574.8" y="154.84" class="tk" transform="rotate(.03 574.8 154.84)">3.0</text>
<path d="M573 129.136h-1.8" stroke="#000" stroke-width="0.6"/>
<text x="574.8" y="131.54" class="tk" transform="rotate(.03 574.8 131.54)">4.5</text>
<path d="M573 105.83h-1.8" stroke="#000" stroke-width="0.6"/>
<text x="574.8" y="108.23" class="tk" transform="rotate(.03 574.8 108.23)">6.0</text>
<path d="M573 82.5241h-1.8" stroke="#000" stroke-width="0.6"/>
<text x="574.8" y="84.92" class="tk" transform="rotate(.03 574.8 84.92)">7.5</text>
<path d="M573 59.2181h-1.8" stroke="#000" stroke-width="0.6"/>
<text x="574.8" y="61.62" class="tk" transform="rotate(.03 574.8 61.62)">9.0</text>
<path d="M573 35.9122h-1.8" stroke="#000" stroke-width="0.6"/>
<text x="574.8" y="38.31" class="tk" transform="rotate(.03 574.8 38.31)">10.5</text>
<path d="M573 12.6063h-1.8" stroke="#000" stroke-width="0.6"/>
<text x="574.8" y="15.01" class="tk" transform="rotate(.03 574.8 15.01)">12.0</text>
<text transform="translate(599.4 99.925) rotate(-90)" text-anchor="middle" class="lb">anharmonic contribution, percentage</text>
<text x="465" y="244" text-anchor="middle" class="cap" transform="rotate(.03 465 244)">(b) Mg</text>
<g shape-rendering="crispEdges"><rect x="185.5" y="274.25" width="4.6" height="193.65" fill="url(#c0)"/><rect x="189.5" y="274.25" width="4.6" height="193.65" fill="url(#c1)"/><rect x="193.5" y="274.25" width="4.6" height="193.65" fill="url(#c2)"/><rect x="197.5" y="274.25" width="4.6" height="193.65" fill="url(#c3)"/><rect x="201.5" y="274.25" width="4.6" height="193.65" fill="url(#c4)"/><rect x="205.5" y="274.25" width="4.6" height="193.65" fill="url(#c5)"/><rect x="209.5" y="274.25" width="4.6" height="193.65" fill="url(#c6)"/><rect x="213.5" y="274.25" width="4.6" height="193.65" fill="url(#c7)"/><rect x="217.5" y="274.25" width="4.6" height="193.65" fill="url(#c8)"/><rect x="221.5" y="274.25" width="4.6" height="193.65" fill="url(#c9)"/><rect x="225.5" y="274.25" width="4.6" height="193.65" fill="url(#c10)"/><rect x="229.5" y="274.25" width="4.6" height="193.65" fill="url(#c11)"/><rect x="233.5" y="274.25" width="4.6" height="193.65" fill="url(#c12)"/><rect x="237.5" y="274.25" width="4.6" height="193.65" fill="url(#c13)"/><rect x="241.5" y="274.25" width="4.6" height="193.65" fill="url(#c14)"/><rect x="245.5" y="274.25" width="4.6" height="193.65" fill="url(#c15)"/><rect x="249.5" y="274.25" width="3.6" height="193.65" fill="url(#c16)"/><rect x="252.5" y="274.25" width="3.6" height="193.65" fill="url(#c17)"/><rect x="255.5" y="274.25" width="3.6" height="193.65" fill="url(#c18)"/><rect x="258.5" y="274.25" width="3.6" height="193.65" fill="url(#c19)"/><rect x="261.5" y="274.25" width="3.6" height="193.65" fill="url(#c20)"/><rect x="264.5" y="274.25" width="2.6" height="193.65" fill="url(#c21)"/><rect x="266.5" y="274.25" width="2.6" height="193.65" fill="url(#c22)"/><rect x="268.5" y="274.25" width="2.6" height="193.65" fill="url(#c23)"/><rect x="270.5" y="274.25" width="2.6" height="193.65" fill="url(#c24)"/><rect x="272.5" y="274.25" width="2.6" height="193.65" fill="url(#c25)"/><rect x="274.5" y="274.25" width="2.6" height="193.65" fill="url(#c26)"/><rect x="276.5" y="274.25" width="1.6" height="193.65" fill="url(#c27)"/><rect x="277.5" y="274.25" width="1.6" height="193.65" fill="url(#c28)"/><rect x="278.5" y="274.25" width="1.6" height="193.65" fill="url(#c29)"/><rect x="279.5" y="274.25" width="1.6" height="193.65" fill="url(#c30)"/><rect x="280.5" y="274.25" width="1.6" height="193.65" fill="url(#c31)"/><rect x="281.5" y="274.25" width="1.6" height="193.65" fill="url(#c32)"/><rect x="282.5" y="274.25" width="1.6" height="193.65" fill="url(#c33)"/><rect x="283.5" y="274.25" width="1.6" height="193.65" fill="url(#c34)"/><rect x="284.5" y="274.25" width="1.6" height="193.65" fill="url(#c35)"/><rect x="285.5" y="274.25" width="1.6" height="193.65" fill="url(#c36)"/><rect x="286.5" y="274.25" width="1.6" height="193.65" fill="url(#c37)"/><rect x="287.5" y="274.25" width="1.6" height="193.65" fill="url(#c38)"/><rect x="288.5" y="274.25" width="1.6" height="193.65" fill="url(#c39)"/><rect x="289.5" y="274.25" width="1.6" height="193.65" fill="url(#c40)"/><rect x="290.5" y="274.25" width="1.6" height="193.65" fill="url(#c41)"/><rect x="291.5" y="274.25" width="1.6" height="193.65" fill="url(#c42)"/><rect x="292.5" y="274.25" width="1.6" height="193.65" fill="url(#c43)"/><rect x="293.5" y="274.25" width="1.6" height="193.65" fill="url(#c44)"/><rect x="294.5" y="274.25" width="1.6" height="193.65" fill="url(#c45)"/><rect x="295.5" y="274.25" width="1.6" height="193.65" fill="url(#c46)"/><rect x="296.5" y="274.25" width="1.6" height="193.65" fill="url(#c47)"/><rect x="297.5" y="274.25" width="1.6" height="193.65" fill="url(#c48)"/><rect x="298.5" y="274.25" width="1.6" height="193.65" fill="url(#c49)"/><rect x="299.5" y="274.25" width="1.6" height="193.65" fill="url(#c50)"/><rect x="300.5" y="274.25" width="1.6" height="193.65" fill="url(#c51)"/><rect x="301.5" y="274.25" width="1.6" height="193.65" fill="url(#c52)"/><rect x="302.5" y="274.25" width="1.6" height="193.65" fill="url(#c53)"/><rect x="303.5" y="274.25" width="1.6" height="193.65" fill="url(#c54)"/><rect x="304.5" y="274.25" width="1.6" height="193.65" fill="url(#c55)"/><rect x="305.5" y="274.25" width="1.6" height="193.65" fill="url(#c56)"/><rect x="306.5" y="274.25" width="1.6" height="193.65" fill="url(#c57)"/><rect x="307.5" y="274.25" width="1.6" height="193.65" fill="url(#c58)"/><rect x="308.5" y="274.25" width="1.6" height="193.65" fill="url(#c59)"/><rect x="309.5" y="274.25" width="1.6" height="193.65" fill="url(#c60)"/><rect x="310.5" y="274.25" width="1.6" height="193.65" fill="url(#c61)"/><rect x="311.5" y="274.25" width="1.6" height="193.65" fill="url(#c62)"/><rect x="312.5" y="274.25" width="1.6" height="193.65" fill="url(#c63)"/><rect x="313.5" y="274.25" width="1.6" height="193.65" fill="url(#c64)"/><rect x="314.5" y="274.25" width="1.6" height="193.65" fill="url(#c65)"/><rect x="315.5" y="274.25" width="1.6" height="193.65" fill="url(#c66)"/><rect x="316.5" y="274.25" width="1.6" height="193.65" fill="url(#c67)"/><rect x="317.5" y="274.25" width="1.6" height="193.65" fill="url(#c68)"/><rect x="318.5" y="274.25" width="4.6" height="193.65" fill="url(#c69)"/><rect x="322.5" y="274.25" width="1.6" height="193.65" fill="url(#c70)"/><rect x="323.5" y="274.25" width="1.6" height="193.65" fill="url(#c71)"/><rect x="324.5" y="274.25" width="1.6" height="193.65" fill="url(#c72)"/><rect x="325.5" y="274.25" width="1.6" height="193.65" fill="url(#c73)"/><rect x="326.5" y="274.25" width="1.6" height="193.65" fill="url(#c74)"/><rect x="327.5" y="274.25" width="1.6" height="193.65" fill="url(#c75)"/><rect x="328.5" y="274.25" width="1.6" height="193.65" fill="url(#c76)"/><rect x="329.5" y="274.25" width="1.6" height="193.65" fill="url(#c77)"/><rect x="330.5" y="274.25" width="1.6" height="193.65" fill="url(#c78)"/><rect x="331.5" y="274.25" width="1.6" height="193.65" fill="url(#c79)"/><rect x="332.5" y="274.25" width="1.6" height="193.65" fill="url(#c80)"/><rect x="333.5" y="274.25" width="1.6" height="193.65" fill="url(#c81)"/><rect x="334.5" y="274.25" width="1.6" height="193.65" fill="url(#c82)"/><rect x="335.5" y="274.25" width="1.6" height="193.65" fill="url(#c83)"/><rect x="336.5" y="274.25" width="1.6" height="193.65" fill="url(#c84)"/><rect x="337.5" y="274.25" width="1.6" height="193.65" fill="url(#c85)"/><rect x="338.5" y="274.25" width="1.6" height="193.65" fill="url(#c86)"/><rect x="339.5" y="274.25" width="1.6" height="193.65" fill="url(#c87)"/><rect x="340.5" y="274.25" width="1.6" height="193.65" fill="url(#c88)"/><rect x="341.5" y="274.25" width="1.6" height="193.65" fill="url(#c89)"/><rect x="342.5" y="274.25" width="1.6" height="193.65" fill="url(#c90)"/><rect x="343.5" y="274.25" width="1.6" height="193.65" fill="url(#c91)"/><rect x="344.5" y="274.25" width="1.6" height="193.65" fill="url(#c92)"/><rect x="345.5" y="274.25" width="1.6" height="193.65" fill="url(#c93)"/><rect x="346.5" y="274.25" width="1.6" height="193.65" fill="url(#c94)"/><rect x="347.5" y="274.25" width="1.6" height="193.65" fill="url(#c95)"/><rect x="348.5" y="274.25" width="1.6" height="193.65" fill="url(#c96)"/><rect x="349.5" y="274.25" width="1.6" height="193.65" fill="url(#c97)"/><rect x="350.5" y="274.25" width="1.6" height="193.65" fill="url(#c98)"/><rect x="351.5" y="274.25" width="1.6" height="193.65" fill="url(#c99)"/><rect x="352.5" y="274.25" width="1.6" height="193.65" fill="url(#c100)"/><rect x="353.5" y="274.25" width="1.6" height="193.65" fill="url(#c101)"/><rect x="354.5" y="274.25" width="1.6" height="193.65" fill="url(#c102)"/><rect x="355.5" y="274.25" width="1.6" height="193.65" fill="url(#c103)"/><rect x="356.5" y="274.25" width="1.6" height="193.65" fill="url(#c104)"/><rect x="357.5" y="274.25" width="1.6" height="193.65" fill="url(#c105)"/><rect x="358.5" y="274.25" width="1.6" height="193.65" fill="url(#c106)"/><rect x="359.5" y="274.25" width="1.6" height="193.65" fill="url(#c107)"/><rect x="360.5" y="274.25" width="1.6" height="193.65" fill="url(#c108)"/><rect x="361.5" y="274.25" width="1.6" height="193.65" fill="url(#c109)"/><rect x="362.5" y="274.25" width="1.6" height="193.65" fill="url(#c110)"/><rect x="363.5" y="274.25" width="1.6" height="193.65" fill="url(#c111)"/><rect x="364.5" y="274.25" width="1.6" height="193.65" fill="url(#c112)"/><rect x="365.5" y="274.25" width="1.6" height="193.65" fill="url(#c113)"/><rect x="366.5" y="274.25" width="1.6" height="193.65" fill="url(#c114)"/><rect x="367.5" y="274.25" width="1.6" height="193.65" fill="url(#c115)"/><rect x="368.5" y="274.25" width="1.6" height="193.65" fill="url(#c116)"/><rect x="369.5" y="274.25" width="1.6" height="193.65" fill="url(#c117)"/><rect x="370.5" y="274.25" width="1.6" height="193.65" fill="url(#c118)"/><rect x="371.5" y="274.25" width="1.6" height="193.65" fill="url(#c119)"/><rect x="372.5" y="274.25" width="2.6" height="193.65" fill="url(#c120)"/><rect x="374.5" y="274.25" width="2.6" height="193.65" fill="url(#c121)"/><rect x="376.5" y="274.25" width="2.6" height="193.65" fill="url(#c122)"/><rect x="378.5" y="274.25" width="2.6" height="193.65" fill="url(#c123)"/><rect x="380.5" y="274.25" width="2.6" height="193.65" fill="url(#c124)"/><rect x="382.5" y="274.25" width="2.6" height="193.65" fill="url(#c125)"/><rect x="384.5" y="274.25" width="1" height="193.65" fill="url(#c126)"/></g>
<rect x="185.5" y="274.25" width="200" height="193.65" fill="none" stroke="#000" stroke-width="0.8"/>
<path d="M185.5 467.9h2 M385.5 467.9h-2" stroke="#000" stroke-width="0.6"/>
<text x="183.9" y="470.30" text-anchor="end" class="tk" transform="rotate(.03 183.9 470.30)">100</text>
<path d="M185.5 443.694h2 M385.5 443.694h-2" stroke="#000" stroke-width="0.6"/>
<text x="183.9" y="446.09" text-anchor="end" class="tk" transform="rotate(.03 183.9 446.09)">200</text>
<path d="M185.5 419.488h2 M385.5 419.488h-2" stroke="#000" stroke-width="0.6"/>
<text x="183.9" y="421.89" text-anchor="end" class="tk" transform="rotate(.03 183.9 421.89)">300</text>
<path d="M185.5 395.281h2 M385.5 395.281h-2" stroke="#000" stroke-width="0.6"/>
<text x="183.9" y="397.68" text-anchor="end" class="tk" transform="rotate(.03 183.9 397.68)">400</text>
<path d="M185.5 371.075h2 M385.5 371.075h-2" stroke="#000" stroke-width="0.6"/>
<text x="183.9" y="373.47" text-anchor="end" class="tk" transform="rotate(.03 183.9 373.47)">500</text>
<path d="M185.5 346.869h2 M385.5 346.869h-2" stroke="#000" stroke-width="0.6"/>
<text x="183.9" y="349.27" text-anchor="end" class="tk" transform="rotate(.03 183.9 349.27)">600</text>
<path d="M185.5 322.663h2 M385.5 322.663h-2" stroke="#000" stroke-width="0.6"/>
<text x="183.9" y="325.06" text-anchor="end" class="tk" transform="rotate(.03 183.9 325.06)">700</text>
<path d="M185.5 298.456h2 M385.5 298.456h-2" stroke="#000" stroke-width="0.6"/>
<text x="183.9" y="300.86" text-anchor="end" class="tk" transform="rotate(.03 183.9 300.86)">800</text>
<path d="M185.5 274.25h2 M385.5 274.25h-2" stroke="#000" stroke-width="0.6"/>
<text x="183.9" y="276.65" text-anchor="end" class="tk" transform="rotate(.03 183.9 276.65)">900</text>
<text x="185.3" y="477.00" text-anchor="middle" class="tk" transform="rotate(.03 185.3 477.00)">10<tspan dy="-3.7" font-size="4.7">-5</tspan></text>
<text x="225.3" y="477.00" text-anchor="middle" class="tk" transform="rotate(.03 225.3 477.00)">10<tspan dy="-3.7" font-size="4.7">-4</tspan></text>
<text x="265.3" y="477.00" text-anchor="middle" class="tk" transform="rotate(.03 265.3 477.00)">10<tspan dy="-3.7" font-size="4.7">-3</tspan></text>
<text x="305.3" y="477.00" text-anchor="middle" class="tk" transform="rotate(.03 305.3 477.00)">10<tspan dy="-3.7" font-size="4.7">-2</tspan></text>
<text x="345.3" y="477.00" text-anchor="middle" class="tk" transform="rotate(.03 345.3 477.00)">10<tspan dy="-3.7" font-size="4.7">-1</tspan></text>
<text x="385.3" y="477.00" text-anchor="middle" class="tk" transform="rotate(.03 385.3 477.00)">10<tspan dy="-3.7" font-size="4.7">0</tspan></text>
<path d="M185.5 467.9v-2 M185.5 274.25v2 M197.54 467.9v-1.2 M197.54 274.25v1.2 M204.58 467.9v-1.2 M204.58 274.25v1.2 M209.58 467.9v-1.2 M209.58 274.25v1.2 M213.46 467.9v-1.2 M213.46 274.25v1.2 M216.63 467.9v-1.2 M216.63 274.25v1.2 M219.30 467.9v-1.2 M219.30 274.25v1.2 M221.62 467.9v-1.2 M221.62 274.25v1.2 M223.67 467.9v-1.2 M223.67 274.25v1.2 M225.5 467.9v-2 M225.5 274.25v2 M237.54 467.9v-1.2 M237.54 274.25v1.2 M244.58 467.9v-1.2 M244.58 274.25v1.2 M249.58 467.9v-1.2 M249.58 274.25v1.2 M253.46 467.9v-1.2 M253.46 274.25v1.2 M256.63 467.9v-1.2 M256.63 274.25v1.2 M259.30 467.9v-1.2 M259.30 274.25v1.2 M261.62 467.9v-1.2 M261.62 274.25v1.2 M263.67 467.9v-1.2 M263.67 274.25v1.2 M265.5 467.9v-2 M265.5 274.25v2 M277.54 467.9v-1.2 M277.54 274.25v1.2 M284.58 467.9v-1.2 M284.58 274.25v1.2 M289.58 467.9v-1.2 M289.58 274.25v1.2 M293.46 467.9v-1.2 M293.46 274.25v1.2 M296.63 467.9v-1.2 M296.63 274.25v1.2 M299.30 467.9v-1.2 M299.30 274.25v1.2 M301.62 467.9v-1.2 M301.62 274.25v1.2 M303.67 467.9v-1.2 M303.67 274.25v1.2 M305.5 467.9v-2 M305.5 274.25v2 M317.54 467.9v-1.2 M317.54 274.25v1.2 M324.58 467.9v-1.2 M324.58 274.25v1.2 M329.58 467.9v-1.2 M329.58 274.25v1.2 M333.46 467.9v-1.2 M333.46 274.25v1.2 M336.63 467.9v-1.2 M336.63 274.25v1.2 M339.30 467.9v-1.2 M339.30 274.25v1.2 M341.62 467.9v-1.2 M341.62 274.25v1.2 M343.67 467.9v-1.2 M343.67 274.25v1.2 M345.5 467.9v-2 M345.5 274.25v2 M357.54 467.9v-1.2 M357.54 274.25v1.2 M364.58 467.9v-1.2 M364.58 274.25v1.2 M369.58 467.9v-1.2 M369.58 274.25v1.2 M373.46 467.9v-1.2 M373.46 274.25v1.2 M376.63 467.9v-1.2 M376.63 274.25v1.2 M379.30 467.9v-1.2 M379.30 274.25v1.2 M381.62 467.9v-1.2 M381.62 274.25v1.2 M383.67 467.9v-1.2 M383.67 274.25v1.2 M385.5 467.9v-2 M385.5 274.25v2" stroke="#000" stroke-width="0.6"/>
<text x="288.9" y="483.5" text-anchor="middle" class="lb" transform="rotate(.03 288.9 483.5)">energy, eV</text>
<text transform="translate(164.9 369.075) rotate(-90)" text-anchor="middle" class="lb">temperature, kelvin</text>
<rect x="398.5" y="274.25" width="10" height="193.65" fill="url(#jet)" stroke="#000" stroke-width="0.8"/>
<path d="M408.5 449.457h-1.8" stroke="#000" stroke-width="0.6"/>
<text x="410.3" y="451.86" class="tk" transform="rotate(.03 410.3 451.86)">2</text>
<path d="M408.5 428.965h-1.8" stroke="#000" stroke-width="0.6"/>
<text x="410.3" y="431.37" class="tk" transform="rotate(.03 410.3 431.37)">4</text>
<path d="M408.5 408.473h-1.8" stroke="#000" stroke-width="0.6"/>
<text x="410.3" y="410.87" class="tk" transform="rotate(.03 410.3 410.87)">6</text>
<path d="M408.5 387.981h-1.8" stroke="#000" stroke-width="0.6"/>
<text x="410.3" y="390.38" class="tk" transform="rotate(.03 410.3 390.38)">8</text>
<path d="M408.5 367.489h-1.8" stroke="#000" stroke-width="0.6"/>
<text x="410.3" y="369.89" class="tk" transform="rotate(.03 410.3 369.89)">10</text>
<path d="M408.5 346.997h-1.8" stroke="#000" stroke-width="0.6"/>
<text x="410.3" y="349.40" class="tk" transform="rotate(.03 410.3 349.40)">12</text>
<path d="M408.5 326.505h-1.8" stroke="#000" stroke-width="0.6"/>
<text x="410.3" y="328.90" class="tk" transform="rotate(.03 410.3 328.90)">14</text>
<path d="M408.5 306.013h-1.8" stroke="#000" stroke-width="0.6"/>
<text x="410.3" y="308.41" class="tk" transform="rotate(.03 410.3 308.41)">16</text>
<path d="M408.5 285.521h-1.8" stroke="#000" stroke-width="0.6"/>
<text x="410.3" y="287.92" class="tk" transform="rotate(.03 410.3 287.92)">18</text>
<text transform="translate(432.4 370.375) rotate(-90)" text-anchor="middle" class="lb">anharmonic contribution, percentage</text>
<text x="290" y="513.5" text-anchor="middle" class="cap" transform="rotate(.03 290 513.5)">(c) Al</text>
</svg>
</body></html>
